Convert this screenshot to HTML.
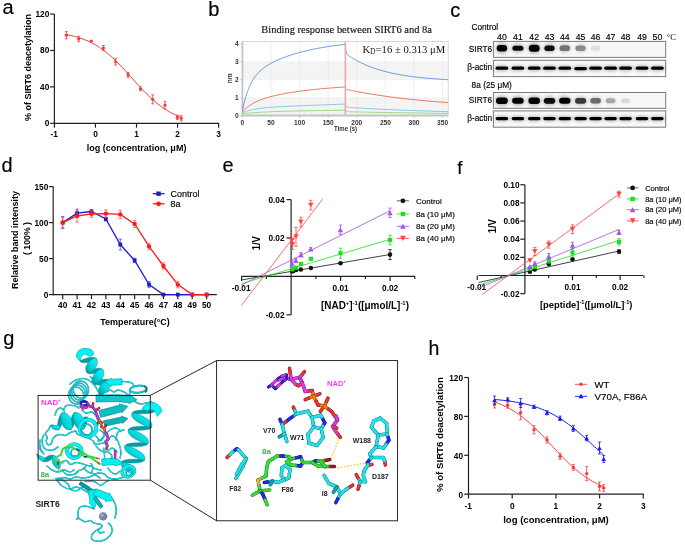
<!DOCTYPE html><html><head><meta charset="utf-8"><style>html,body{margin:0;padding:0;background:#fff;}svg{display:block;will-change:transform;}</style></head><body>
<svg width="685" height="546" viewBox="0 0 685 546">
<rect width="685" height="546" fill="#fff"/>
<text x="2.6" y="13.7" font-size="20" text-anchor="start" fill="#000" stroke="#000" stroke-width="0.15" font-family='"Liberation Sans", sans-serif'>a</text>
<text x="208.3" y="16.4" font-size="20" text-anchor="start" fill="#000" stroke="#000" stroke-width="0.15" font-family='"Liberation Sans", sans-serif'>b</text>
<text x="450.2" y="16.7" font-size="20" text-anchor="start" fill="#000" stroke="#000" stroke-width="0.15" font-family='"Liberation Sans", sans-serif'>c</text>
<text x="1.6" y="171.6" font-size="20" text-anchor="start" fill="#000" stroke="#000" stroke-width="0.15" font-family='"Liberation Sans", sans-serif'>d</text>
<text x="222.6" y="171.7" font-size="20" text-anchor="start" fill="#000" stroke="#000" stroke-width="0.15" font-family='"Liberation Sans", sans-serif'>e</text>
<text x="457.3" y="173.8" font-size="18.5" text-anchor="start" fill="#000" stroke="#000" stroke-width="0.15" font-family='"Liberation Sans", sans-serif'>f</text>
<text x="3.2" y="345.4" font-size="20" text-anchor="start" fill="#000" stroke="#000" stroke-width="0.15" font-family='"Liberation Sans", sans-serif'>g</text>
<text x="428.6" y="354.9" font-size="19.5" text-anchor="start" fill="#000" stroke="#000" stroke-width="0.15" font-family='"Liberation Sans", sans-serif'>h</text>
<line x1="54.4" y1="14.05" x2="54.4" y2="123.9" stroke="#222" stroke-width="1.2"/>
<line x1="53.8" y1="123.3" x2="219.2" y2="123.3" stroke="#222" stroke-width="1.2"/>
<line x1="50.1" y1="123.3" x2="54.4" y2="123.3" stroke="#222" stroke-width="1.2"/>
<text x="49.3" y="126.25" font-size="8.3" font-weight="bold" text-anchor="end" fill="#000" font-family='"Liberation Sans", sans-serif'>0</text>
<line x1="50.1" y1="86.88" x2="54.4" y2="86.88" stroke="#222" stroke-width="1.2"/>
<text x="49.3" y="89.83" font-size="8.3" font-weight="bold" text-anchor="end" fill="#000" font-family='"Liberation Sans", sans-serif'>40</text>
<line x1="50.1" y1="50.47" x2="54.4" y2="50.47" stroke="#222" stroke-width="1.2"/>
<text x="49.3" y="53.42" font-size="8.3" font-weight="bold" text-anchor="end" fill="#000" font-family='"Liberation Sans", sans-serif'>80</text>
<line x1="50.1" y1="14.05" x2="54.4" y2="14.05" stroke="#222" stroke-width="1.2"/>
<text x="49.3" y="17" font-size="8.3" font-weight="bold" text-anchor="end" fill="#000" font-family='"Liberation Sans", sans-serif'>120</text>
<line x1="54.4" y1="123.3" x2="54.4" y2="127.7" stroke="#222" stroke-width="1.2"/>
<text x="54.1" y="137.2" font-size="8.3" font-weight="bold" text-anchor="middle" fill="#000" font-family='"Liberation Sans", sans-serif'>-1</text>
<line x1="95.45" y1="123.3" x2="95.45" y2="127.7" stroke="#222" stroke-width="1.2"/>
<text x="95.45" y="137.2" font-size="8.3" font-weight="bold" text-anchor="middle" fill="#000" font-family='"Liberation Sans", sans-serif'>0</text>
<line x1="136.5" y1="123.3" x2="136.5" y2="127.7" stroke="#222" stroke-width="1.2"/>
<text x="136.5" y="137.2" font-size="8.3" font-weight="bold" text-anchor="middle" fill="#000" font-family='"Liberation Sans", sans-serif'>1</text>
<line x1="177.55" y1="123.3" x2="177.55" y2="127.7" stroke="#222" stroke-width="1.2"/>
<text x="177.55" y="137.2" font-size="8.3" font-weight="bold" text-anchor="middle" fill="#000" font-family='"Liberation Sans", sans-serif'>2</text>
<line x1="218.6" y1="123.3" x2="218.6" y2="127.7" stroke="#222" stroke-width="1.2"/>
<text x="218.6" y="137.2" font-size="8.3" font-weight="bold" text-anchor="middle" fill="#000" font-family='"Liberation Sans", sans-serif'>3</text>
<text x="136.6" y="150.5" font-size="9" font-weight="bold" text-anchor="middle" fill="#000" font-family='"Liberation Sans", sans-serif' textLength="99.6" lengthAdjust="spacingAndGlyphs">log (concentration, μM)</text>
<text x="31.4" y="67.6" font-size="9" font-weight="bold" text-anchor="middle" fill="#000" font-family='"Liberation Sans", sans-serif' transform="rotate(-90 31.4 67.6)" textLength="107" lengthAdjust="spacingAndGlyphs">% of SIRT6 deacetylation</text>
<polyline points="66.4,34.53 68.35,34.92 70.29,35.34 72.24,35.8 74.19,36.29 76.14,36.83 78.08,37.4 80.03,38.03 81.98,38.7 83.93,39.43 85.87,40.21 87.82,41.05 89.77,41.96 91.72,42.92 93.66,43.95 95.61,45.06 97.56,46.23 99.51,47.48 101.45,48.8 103.4,50.2 105.35,51.67 107.3,53.22 109.24,54.85 111.19,56.54 113.14,58.31 115.09,60.15 117.03,62.05 118.98,64.01 120.93,66.02 122.88,68.08 124.82,70.18 126.77,72.31 128.72,74.47 130.67,76.64 132.61,78.82 134.56,80.99 136.51,83.15 138.46,85.29 140.4,87.4 142.35,89.48 144.3,91.51 146.25,93.49 148.19,95.41 150.14,97.28 152.09,99.07 154.04,100.79 155.98,102.45 157.93,104.02 159.88,105.53 161.83,106.95 163.77,108.3 165.72,109.58 167.67,110.78 169.62,111.91 171.56,112.96 173.51,113.95 175.46,114.88 177.41,115.74 179.35,116.55 181.3,117.29" stroke="#f23c3c" stroke-width="1" fill="none"/>
<line x1="66.4" y1="31.6" x2="66.4" y2="38.8" stroke="#f23c3c" stroke-width="0.8"/>
<line x1="65" y1="31.6" x2="67.8" y2="31.6" stroke="#f23c3c" stroke-width="0.8"/>
<line x1="65" y1="38.8" x2="67.8" y2="38.8" stroke="#f23c3c" stroke-width="0.8"/>
<circle cx="66.4" cy="35.2" r="1.6" fill="#f23c3c"/>
<line x1="78.7" y1="36.2" x2="78.7" y2="41.4" stroke="#f23c3c" stroke-width="0.8"/>
<line x1="77.3" y1="36.2" x2="80.1" y2="36.2" stroke="#f23c3c" stroke-width="0.8"/>
<line x1="77.3" y1="41.4" x2="80.1" y2="41.4" stroke="#f23c3c" stroke-width="0.8"/>
<circle cx="78.7" cy="38.8" r="1.6" fill="#f23c3c"/>
<line x1="91.2" y1="40.5" x2="91.2" y2="41.7" stroke="#f23c3c" stroke-width="0.8"/>
<line x1="89.8" y1="40.5" x2="92.6" y2="40.5" stroke="#f23c3c" stroke-width="0.8"/>
<line x1="89.8" y1="41.7" x2="92.6" y2="41.7" stroke="#f23c3c" stroke-width="0.8"/>
<circle cx="91.2" cy="41.1" r="1.6" fill="#f23c3c"/>
<line x1="103.4" y1="45.5" x2="103.4" y2="50.5" stroke="#f23c3c" stroke-width="0.8"/>
<line x1="102" y1="45.5" x2="104.8" y2="45.5" stroke="#f23c3c" stroke-width="0.8"/>
<line x1="102" y1="50.5" x2="104.8" y2="50.5" stroke="#f23c3c" stroke-width="0.8"/>
<circle cx="103.4" cy="48" r="1.6" fill="#f23c3c"/>
<line x1="115.7" y1="58.5" x2="115.7" y2="65.1" stroke="#f23c3c" stroke-width="0.8"/>
<line x1="114.3" y1="58.5" x2="117.1" y2="58.5" stroke="#f23c3c" stroke-width="0.8"/>
<line x1="114.3" y1="65.1" x2="117.1" y2="65.1" stroke="#f23c3c" stroke-width="0.8"/>
<circle cx="115.7" cy="61.8" r="1.6" fill="#f23c3c"/>
<line x1="128.1" y1="72.5" x2="128.1" y2="77.3" stroke="#f23c3c" stroke-width="0.8"/>
<line x1="126.7" y1="72.5" x2="129.5" y2="72.5" stroke="#f23c3c" stroke-width="0.8"/>
<line x1="126.7" y1="77.3" x2="129.5" y2="77.3" stroke="#f23c3c" stroke-width="0.8"/>
<circle cx="128.1" cy="74.9" r="1.6" fill="#f23c3c"/>
<line x1="140.5" y1="86.8" x2="140.5" y2="90.8" stroke="#f23c3c" stroke-width="0.8"/>
<line x1="139.1" y1="86.8" x2="141.9" y2="86.8" stroke="#f23c3c" stroke-width="0.8"/>
<line x1="139.1" y1="90.8" x2="141.9" y2="90.8" stroke="#f23c3c" stroke-width="0.8"/>
<circle cx="140.5" cy="88.8" r="1.6" fill="#f23c3c"/>
<line x1="152.7" y1="94.8" x2="152.7" y2="103.8" stroke="#f23c3c" stroke-width="0.8"/>
<line x1="151.3" y1="94.8" x2="154.1" y2="94.8" stroke="#f23c3c" stroke-width="0.8"/>
<line x1="151.3" y1="103.8" x2="154.1" y2="103.8" stroke="#f23c3c" stroke-width="0.8"/>
<circle cx="152.7" cy="99.3" r="1.6" fill="#f23c3c"/>
<line x1="165" y1="101.4" x2="165" y2="109" stroke="#f23c3c" stroke-width="0.8"/>
<line x1="163.6" y1="101.4" x2="166.4" y2="101.4" stroke="#f23c3c" stroke-width="0.8"/>
<line x1="163.6" y1="109" x2="166.4" y2="109" stroke="#f23c3c" stroke-width="0.8"/>
<circle cx="165" cy="105.2" r="1.6" fill="#f23c3c"/>
<line x1="177.4" y1="115.2" x2="177.4" y2="119.6" stroke="#f23c3c" stroke-width="0.8"/>
<line x1="176" y1="115.2" x2="178.8" y2="115.2" stroke="#f23c3c" stroke-width="0.8"/>
<line x1="176" y1="119.6" x2="178.8" y2="119.6" stroke="#f23c3c" stroke-width="0.8"/>
<circle cx="177.4" cy="117.4" r="1.6" fill="#f23c3c"/>
<line x1="181.3" y1="115.7" x2="181.3" y2="120.9" stroke="#f23c3c" stroke-width="0.8"/>
<line x1="179.9" y1="115.7" x2="182.7" y2="115.7" stroke="#f23c3c" stroke-width="0.8"/>
<line x1="179.9" y1="120.9" x2="182.7" y2="120.9" stroke="#f23c3c" stroke-width="0.8"/>
<circle cx="181.3" cy="118.3" r="1.6" fill="#f23c3c"/>
<rect x="242.4" y="61.9" width="205.8" height="17.9" fill="#f4f4f4"/>
<rect x="242.4" y="97.7" width="205.8" height="17.8" fill="#f4f4f4"/>
<line x1="271" y1="41.4" x2="271" y2="115.5" stroke="#e4e4e4" stroke-width="0.6"/>
<line x1="299.6" y1="41.4" x2="299.6" y2="115.5" stroke="#e4e4e4" stroke-width="0.6"/>
<line x1="328.2" y1="41.4" x2="328.2" y2="115.5" stroke="#e4e4e4" stroke-width="0.6"/>
<line x1="356.8" y1="41.4" x2="356.8" y2="115.5" stroke="#e4e4e4" stroke-width="0.6"/>
<line x1="385.4" y1="41.4" x2="385.4" y2="115.5" stroke="#e4e4e4" stroke-width="0.6"/>
<line x1="414" y1="41.4" x2="414" y2="115.5" stroke="#e4e4e4" stroke-width="0.6"/>
<line x1="442.6" y1="41.4" x2="442.6" y2="115.5" stroke="#e4e4e4" stroke-width="0.6"/>
<line x1="242.4" y1="97.7" x2="448.2" y2="97.7" stroke="#dddddd" stroke-width="0.5" stroke-dasharray="1,1"/>
<line x1="242.4" y1="79.8" x2="448.2" y2="79.8" stroke="#dddddd" stroke-width="0.5" stroke-dasharray="1,1"/>
<line x1="242.4" y1="61.9" x2="448.2" y2="61.9" stroke="#dddddd" stroke-width="0.5" stroke-dasharray="1,1"/>
<line x1="242.4" y1="44" x2="448.2" y2="44" stroke="#dddddd" stroke-width="0.5" stroke-dasharray="1,1"/>
<rect x="242.4" y="41.4" width="205.8" height="74.1" fill="none" stroke="#cfcfcf" stroke-width="0.8"/>
<line x1="242.4" y1="41.4" x2="242.4" y2="116.5" stroke="#c4c4c4" stroke-width="1.8"/>
<line x1="241.4" y1="115.5" x2="448.2" y2="115.5" stroke="#c4c4c4" stroke-width="1.8"/>
<line x1="248.12" y1="114.5" x2="248.12" y2="112.9" stroke="#c8d4ee" stroke-width="0.6"/>
<line x1="253.84" y1="114.5" x2="253.84" y2="112.9" stroke="#c8d4ee" stroke-width="0.6"/>
<line x1="259.56" y1="114.5" x2="259.56" y2="112.9" stroke="#c8d4ee" stroke-width="0.6"/>
<line x1="265.28" y1="114.5" x2="265.28" y2="112.9" stroke="#c8d4ee" stroke-width="0.6"/>
<line x1="276.72" y1="114.5" x2="276.72" y2="112.9" stroke="#c8d4ee" stroke-width="0.6"/>
<line x1="282.44" y1="114.5" x2="282.44" y2="112.9" stroke="#c8d4ee" stroke-width="0.6"/>
<line x1="288.16" y1="114.5" x2="288.16" y2="112.9" stroke="#c8d4ee" stroke-width="0.6"/>
<line x1="293.88" y1="114.5" x2="293.88" y2="112.9" stroke="#c8d4ee" stroke-width="0.6"/>
<line x1="305.32" y1="114.5" x2="305.32" y2="112.9" stroke="#c8d4ee" stroke-width="0.6"/>
<line x1="311.04" y1="114.5" x2="311.04" y2="112.9" stroke="#c8d4ee" stroke-width="0.6"/>
<line x1="316.76" y1="114.5" x2="316.76" y2="112.9" stroke="#c8d4ee" stroke-width="0.6"/>
<line x1="322.48" y1="114.5" x2="322.48" y2="112.9" stroke="#c8d4ee" stroke-width="0.6"/>
<line x1="333.92" y1="114.5" x2="333.92" y2="112.9" stroke="#c8d4ee" stroke-width="0.6"/>
<line x1="339.64" y1="114.5" x2="339.64" y2="112.9" stroke="#c8d4ee" stroke-width="0.6"/>
<line x1="345.36" y1="114.5" x2="345.36" y2="112.9" stroke="#c8d4ee" stroke-width="0.6"/>
<line x1="351.08" y1="114.5" x2="351.08" y2="112.9" stroke="#c8d4ee" stroke-width="0.6"/>
<line x1="362.52" y1="114.5" x2="362.52" y2="112.9" stroke="#c8d4ee" stroke-width="0.6"/>
<line x1="368.24" y1="114.5" x2="368.24" y2="112.9" stroke="#c8d4ee" stroke-width="0.6"/>
<line x1="373.96" y1="114.5" x2="373.96" y2="112.9" stroke="#c8d4ee" stroke-width="0.6"/>
<line x1="379.68" y1="114.5" x2="379.68" y2="112.9" stroke="#c8d4ee" stroke-width="0.6"/>
<line x1="391.12" y1="114.5" x2="391.12" y2="112.9" stroke="#c8d4ee" stroke-width="0.6"/>
<line x1="396.84" y1="114.5" x2="396.84" y2="112.9" stroke="#c8d4ee" stroke-width="0.6"/>
<line x1="402.56" y1="114.5" x2="402.56" y2="112.9" stroke="#c8d4ee" stroke-width="0.6"/>
<line x1="408.28" y1="114.5" x2="408.28" y2="112.9" stroke="#c8d4ee" stroke-width="0.6"/>
<line x1="419.72" y1="114.5" x2="419.72" y2="112.9" stroke="#c8d4ee" stroke-width="0.6"/>
<line x1="425.44" y1="114.5" x2="425.44" y2="112.9" stroke="#c8d4ee" stroke-width="0.6"/>
<line x1="431.16" y1="114.5" x2="431.16" y2="112.9" stroke="#c8d4ee" stroke-width="0.6"/>
<line x1="436.88" y1="114.5" x2="436.88" y2="112.9" stroke="#c8d4ee" stroke-width="0.6"/>
<line x1="243.4" y1="106.65" x2="245" y2="106.65" stroke="#c8d4ee" stroke-width="0.6"/>
<line x1="243.4" y1="88.75" x2="245" y2="88.75" stroke="#c8d4ee" stroke-width="0.6"/>
<line x1="243.4" y1="70.85" x2="245" y2="70.85" stroke="#c8d4ee" stroke-width="0.6"/>
<line x1="243.4" y1="52.95" x2="245" y2="52.95" stroke="#c8d4ee" stroke-width="0.6"/>
<line x1="239.4" y1="115.6" x2="242.4" y2="115.6" stroke="#bbbbbb" stroke-width="0.7"/>
<text x="238.6" y="117.9" font-size="6.6" font-weight="bold" text-anchor="end" fill="#333" font-family='"Liberation Sans", sans-serif'>0</text>
<line x1="239.4" y1="97.7" x2="242.4" y2="97.7" stroke="#bbbbbb" stroke-width="0.7"/>
<text x="238.6" y="100" font-size="6.6" font-weight="bold" text-anchor="end" fill="#333" font-family='"Liberation Sans", sans-serif'>1</text>
<line x1="239.4" y1="79.8" x2="242.4" y2="79.8" stroke="#bbbbbb" stroke-width="0.7"/>
<text x="238.6" y="82.1" font-size="6.6" font-weight="bold" text-anchor="end" fill="#333" font-family='"Liberation Sans", sans-serif'>2</text>
<line x1="239.4" y1="61.9" x2="242.4" y2="61.9" stroke="#bbbbbb" stroke-width="0.7"/>
<text x="238.6" y="64.2" font-size="6.6" font-weight="bold" text-anchor="end" fill="#333" font-family='"Liberation Sans", sans-serif'>3</text>
<line x1="239.4" y1="44" x2="242.4" y2="44" stroke="#bbbbbb" stroke-width="0.7"/>
<text x="238.6" y="46.3" font-size="6.6" font-weight="bold" text-anchor="end" fill="#333" font-family='"Liberation Sans", sans-serif'>4</text>
<line x1="242.4" y1="115.5" x2="242.4" y2="118" stroke="#bbbbbb" stroke-width="0.7"/>
<text x="242.4" y="124.8" font-size="6.6" font-weight="bold" text-anchor="middle" fill="#333" font-family='"Liberation Sans", sans-serif'>0</text>
<line x1="271" y1="115.5" x2="271" y2="118" stroke="#bbbbbb" stroke-width="0.7"/>
<text x="271" y="124.8" font-size="6.6" font-weight="bold" text-anchor="middle" fill="#333" font-family='"Liberation Sans", sans-serif'>50</text>
<line x1="299.6" y1="115.5" x2="299.6" y2="118" stroke="#bbbbbb" stroke-width="0.7"/>
<text x="299.6" y="124.8" font-size="6.6" font-weight="bold" text-anchor="middle" fill="#333" font-family='"Liberation Sans", sans-serif'>100</text>
<line x1="328.2" y1="115.5" x2="328.2" y2="118" stroke="#bbbbbb" stroke-width="0.7"/>
<text x="328.2" y="124.8" font-size="6.6" font-weight="bold" text-anchor="middle" fill="#333" font-family='"Liberation Sans", sans-serif'>150</text>
<line x1="356.8" y1="115.5" x2="356.8" y2="118" stroke="#bbbbbb" stroke-width="0.7"/>
<text x="356.8" y="124.8" font-size="6.6" font-weight="bold" text-anchor="middle" fill="#333" font-family='"Liberation Sans", sans-serif'>200</text>
<line x1="385.4" y1="115.5" x2="385.4" y2="118" stroke="#bbbbbb" stroke-width="0.7"/>
<text x="385.4" y="124.8" font-size="6.6" font-weight="bold" text-anchor="middle" fill="#333" font-family='"Liberation Sans", sans-serif'>250</text>
<line x1="414" y1="115.5" x2="414" y2="118" stroke="#bbbbbb" stroke-width="0.7"/>
<text x="414" y="124.8" font-size="6.6" font-weight="bold" text-anchor="middle" fill="#333" font-family='"Liberation Sans", sans-serif'>300</text>
<line x1="442.6" y1="115.5" x2="442.6" y2="118" stroke="#bbbbbb" stroke-width="0.7"/>
<text x="442.6" y="124.8" font-size="6.6" font-weight="bold" text-anchor="middle" fill="#333" font-family='"Liberation Sans", sans-serif'>350</text>
<text x="345.6" y="130.6" font-size="6.6" font-weight="bold" text-anchor="middle" fill="#333" font-family='"Liberation Sans", sans-serif' textLength="23" lengthAdjust="spacingAndGlyphs">Time (s)</text>
<text x="231.8" y="78.4" font-size="6.6" font-weight="bold" text-anchor="middle" fill="#333" font-family='"Liberation Sans", sans-serif' transform="rotate(-90 231.8 78.4)">nm</text>
<polyline points="242.4,113.64 242.79,113.6 243.19,113.56 243.58,113.53 243.98,113.49 244.37,113.45 244.77,113.41 245.16,113.38 245.56,113.34 245.95,113.31 246.34,113.27 246.74,113.24 247.13,113.2 247.53,113.17 247.92,113.14 248.32,113.11 248.71,113.07 249.11,113.04 249.5,113.01 249.9,112.98 250.29,112.95 250.68,112.92 251.08,112.89 251.47,112.86 251.87,112.83 252.26,112.8 252.66,112.77 253.05,112.74 253.45,112.71 253.84,112.69 255.39,112.58 256.94,112.48 258.49,112.38 260.04,112.29 261.6,112.2 263.15,112.12 264.7,112.04 266.25,111.96 267.8,111.89 269.35,111.82 270.9,111.75 272.45,111.69 274.01,111.63 275.56,111.57 277.11,111.51 278.66,111.46 280.21,111.41 281.76,111.35 283.31,111.31 284.86,111.26 286.41,111.22 287.97,111.17 289.52,111.13 291.07,111.09 292.62,111.05 294.17,111.02 295.72,110.98 297.27,110.94 298.82,110.91 300.38,110.88 301.93,110.85 303.48,110.82 305.03,110.79 306.58,110.76 308.13,110.73 309.68,110.7 311.23,110.68 312.79,110.65 314.34,110.63 315.89,110.6 317.44,110.58 318.99,110.56 320.54,110.53 322.09,110.51 323.64,110.49 325.19,110.47 326.75,110.45 328.3,110.43 329.85,110.41 331.4,110.39 332.95,110.37 334.5,110.35 336.05,110.34 337.6,110.32 339.16,110.3 340.71,110.28 342.26,110.26 343.81,110.25 345.36,110.23 345.36,110.23 345.53,110.42 345.76,110.63 345.93,110.77 346.38,111.06 346.84,111.27 347.29,111.42 347.74,111.53 348.2,111.61 348.65,111.67 349.1,111.72 349.55,111.75 350.01,111.78 350.46,111.8 350.91,111.82 351.37,111.83 351.82,111.85 352.27,111.86 352.72,111.87 353.18,111.88 353.63,111.89 354.08,111.9 354.54,111.91 354.99,111.92 355.44,111.93 355.89,111.94 356.35,111.95 356.8,111.96 358.67,111.99 360.54,112.03 362.4,112.06 364.27,112.1 366.14,112.13 368.01,112.17 369.87,112.2 371.74,112.24 373.61,112.27 375.48,112.3 377.35,112.34 379.21,112.37 381.08,112.4 382.95,112.44 384.82,112.47 386.68,112.5 388.55,112.53 390.42,112.56 392.29,112.6 394.16,112.63 396.02,112.66 397.89,112.69 399.76,112.72 401.63,112.75 403.49,112.78 405.36,112.81 407.23,112.84 409.1,112.87 410.96,112.9 412.83,112.93 414.7,112.96 416.57,112.99 418.44,113.02 420.3,113.05 422.17,113.07 424.04,113.1 425.91,113.13 427.77,113.16 429.64,113.19 431.51,113.21 433.38,113.24 435.25,113.27 437.11,113.29 438.98,113.32 440.85,113.35 442.72,113.37 444.58,113.4 446.45,113.43 448.32,113.45" stroke="#8fd472" stroke-width="0.9" fill="none"/>
<polyline points="242.4,112.92 242.79,112.74 243.19,112.56 243.58,112.4 243.98,112.23 244.37,112.08 244.77,111.92 245.16,111.77 245.56,111.63 245.95,111.49 246.34,111.35 246.74,111.22 247.13,111.09 247.53,110.97 247.92,110.85 248.32,110.73 248.71,110.62 249.11,110.51 249.5,110.4 249.9,110.29 250.29,110.19 250.68,110.09 251.08,110 251.47,109.9 251.87,109.81 252.26,109.72 252.66,109.64 253.05,109.55 253.45,109.47 253.84,109.39 255.39,109.1 256.94,108.84 258.49,108.6 260.04,108.39 261.6,108.19 263.15,108.01 264.7,107.84 266.25,107.69 267.8,107.55 269.35,107.42 270.9,107.3 272.45,107.19 274.01,107.08 275.56,106.98 277.11,106.88 278.66,106.79 280.21,106.71 281.76,106.62 283.31,106.54 284.86,106.46 286.41,106.39 287.97,106.32 289.52,106.24 291.07,106.18 292.62,106.11 294.17,106.04 295.72,105.97 297.27,105.91 298.82,105.85 300.38,105.78 301.93,105.72 303.48,105.66 305.03,105.6 306.58,105.53 308.13,105.47 309.68,105.41 311.23,105.35 312.79,105.29 314.34,105.23 315.89,105.18 317.44,105.12 318.99,105.06 320.54,105 322.09,104.94 323.64,104.88 325.19,104.82 326.75,104.77 328.3,104.71 329.85,104.65 331.4,104.59 332.95,104.53 334.5,104.48 336.05,104.42 337.6,104.36 339.16,104.3 340.71,104.25 342.26,104.19 343.81,104.13 345.36,104.07 345.36,104.05 345.53,104.7 345.76,105.37 345.93,105.75 346.38,106.45 346.84,106.85 347.29,107.09 347.74,107.23 348.2,107.32 348.65,107.39 349.1,107.44 349.55,107.48 350.01,107.51 350.46,107.54 350.91,107.57 351.37,107.6 351.82,107.63 352.27,107.66 352.72,107.69 353.18,107.71 353.63,107.74 354.08,107.77 354.54,107.8 354.99,107.82 355.44,107.85 355.89,107.88 356.35,107.9 356.8,107.93 358.67,108.04 360.54,108.15 362.4,108.25 364.27,108.36 366.14,108.46 368.01,108.56 369.87,108.66 371.74,108.76 373.61,108.85 375.48,108.95 377.35,109.04 379.21,109.13 381.08,109.22 382.95,109.31 384.82,109.4 386.68,109.49 388.55,109.57 390.42,109.65 392.29,109.73 394.16,109.81 396.02,109.89 397.89,109.97 399.76,110.05 401.63,110.12 403.49,110.2 405.36,110.27 407.23,110.34 409.1,110.41 410.96,110.48 412.83,110.55 414.7,110.62 416.57,110.69 418.44,110.75 420.3,110.81 422.17,110.88 424.04,110.94 425.91,111 427.77,111.06 429.64,111.12 431.51,111.18 433.38,111.24 435.25,111.29 437.11,111.35 438.98,111.4 440.85,111.46 442.72,111.51 444.58,111.56 446.45,111.61 448.32,111.66" stroke="#6cc6db" stroke-width="0.9" fill="none"/>
<polyline points="242.4,112.02 242.79,111.57 243.19,111.14 243.58,110.72 243.98,110.31 244.37,109.91 244.77,109.53 245.16,109.15 245.56,108.79 245.95,108.43 246.34,108.09 246.74,107.75 247.13,107.43 247.53,107.11 247.92,106.8 248.32,106.5 248.71,106.2 249.11,105.92 249.5,105.64 249.9,105.37 250.29,105.1 250.68,104.84 251.08,104.59 251.47,104.34 251.87,104.1 252.26,103.86 252.66,103.63 253.05,103.41 253.45,103.19 253.84,102.97 255.39,102.17 256.94,101.43 258.49,100.75 260.04,100.11 261.6,99.52 263.15,98.96 264.7,98.44 266.25,97.95 267.8,97.48 269.35,97.04 270.9,96.62 272.45,96.22 274.01,95.84 275.56,95.47 277.11,95.12 278.66,94.78 280.21,94.46 281.76,94.15 283.31,93.85 284.86,93.56 286.41,93.28 287.97,93.01 289.52,92.74 291.07,92.49 292.62,92.24 294.17,92 295.72,91.77 297.27,91.55 298.82,91.33 300.38,91.12 301.93,90.91 303.48,90.71 305.03,90.52 306.58,90.33 308.13,90.15 309.68,89.97 311.23,89.8 312.79,89.63 314.34,89.47 315.89,89.31 317.44,89.15 318.99,89 320.54,88.86 322.09,88.72 323.64,88.58 325.19,88.44 326.75,88.31 328.3,88.19 329.85,88.06 331.4,87.94 332.95,87.83 334.5,87.71 336.05,87.6 337.6,87.49 339.16,87.39 340.71,87.29 342.26,87.19 343.81,87.09 345.36,87 345.36,86.96 345.53,89.1 345.76,89.26 345.93,89.3 346.38,89.4 346.84,89.49 347.29,89.59 347.74,89.69 348.2,89.79 348.65,89.88 349.1,89.98 349.55,90.07 350.01,90.17 350.46,90.26 350.91,90.35 351.37,90.45 351.82,90.54 352.27,90.63 352.72,90.72 353.18,90.81 353.63,90.9 354.08,91 354.54,91.09 354.99,91.17 355.44,91.26 355.89,91.35 356.35,91.44 356.8,91.53 358.67,91.88 360.54,92.23 362.4,92.58 364.27,92.91 366.14,93.24 368.01,93.56 369.87,93.88 371.74,94.19 373.61,94.49 375.48,94.78 377.35,95.07 379.21,95.36 381.08,95.64 382.95,95.91 384.82,96.18 386.68,96.44 388.55,96.69 390.42,96.95 392.29,97.19 394.16,97.43 396.02,97.67 397.89,97.9 399.76,98.13 401.63,98.35 403.49,98.56 405.36,98.78 407.23,98.99 409.1,99.19 410.96,99.39 412.83,99.59 414.7,99.78 416.57,99.97 418.44,100.15 420.3,100.33 422.17,100.51 424.04,100.68 425.91,100.85 427.77,101.01 429.64,101.18 431.51,101.34 433.38,101.49 435.25,101.65 437.11,101.8 438.98,101.94 440.85,102.09 442.72,102.23 444.58,102.36 446.45,102.5 448.32,102.63" stroke="#e0674a" stroke-width="0.9" fill="none"/>
<polyline points="242.4,110.73 242.79,108.8 243.19,106.97 243.58,105.22 243.98,103.54 244.37,101.95 244.77,100.42 245.16,98.96 245.56,97.57 245.95,96.23 246.34,94.96 246.74,93.73 247.13,92.56 247.53,91.44 247.92,90.37 248.32,89.34 248.71,88.35 249.11,87.4 249.5,86.49 249.9,85.61 250.29,84.77 250.68,83.96 251.08,83.18 251.47,82.43 251.87,81.71 252.26,81.01 252.66,80.34 253.05,79.7 253.45,79.07 253.84,78.47 255.39,76.28 256.94,74.35 258.49,72.64 260.04,71.1 261.6,69.71 263.15,68.44 264.7,67.28 266.25,66.2 267.8,65.2 269.35,64.26 270.9,63.38 272.45,62.55 274.01,61.76 275.56,61.01 277.11,60.29 278.66,59.6 280.21,58.95 281.76,58.31 283.31,57.7 284.86,57.12 286.41,56.55 287.97,56.01 289.52,55.48 291.07,54.97 292.62,54.48 294.17,54 295.72,53.54 297.27,53.09 298.82,52.66 300.38,52.24 301.93,51.84 303.48,51.44 305.03,51.06 306.58,50.69 308.13,50.33 309.68,49.99 311.23,49.65 312.79,49.32 314.34,49.01 315.89,48.7 317.44,48.41 318.99,48.12 320.54,47.84 322.09,47.57 323.64,47.3 325.19,47.05 326.75,46.8 328.3,46.56 329.85,46.33 331.4,46.11 332.95,45.89 334.5,45.68 336.05,45.47 337.6,45.27 339.16,45.08 340.71,44.89 342.26,44.71 343.81,44.54 345.36,44.37 345.36,44.38 345.53,46.98 345.76,49.43 345.93,50.73 346.38,52.84 346.84,53.94 347.29,54.58 347.74,55.04 348.2,55.4 348.65,55.73 349.1,56.04 349.55,56.34 350.01,56.63 350.46,56.92 350.91,57.21 351.37,57.49 351.82,57.77 352.27,58.04 352.72,58.31 353.18,58.58 353.63,58.85 354.08,59.11 354.54,59.37 354.99,59.62 355.44,59.88 355.89,60.13 356.35,60.38 356.8,60.62 358.67,61.6 360.54,62.53 362.4,63.43 364.27,64.28 366.14,65.09 368.01,65.86 369.87,66.6 371.74,67.3 373.61,67.97 375.48,68.61 377.35,69.22 379.21,69.8 381.08,70.36 382.95,70.89 384.82,71.39 386.68,71.87 388.55,72.33 390.42,72.77 392.29,73.19 394.16,73.59 396.02,73.97 397.89,74.33 399.76,74.68 401.63,75 403.49,75.32 405.36,75.62 407.23,75.9 409.1,76.18 410.96,76.44 412.83,76.68 414.7,76.92 416.57,77.15 418.44,77.36 420.3,77.57 422.17,77.76 424.04,77.95 425.91,78.13 427.77,78.3 429.64,78.46 431.51,78.61 433.38,78.76 435.25,78.9 437.11,79.03 438.98,79.16 440.85,79.28 442.72,79.4 444.58,79.51 446.45,79.62 448.32,79.72" stroke="#5b8fdc" stroke-width="0.9" fill="none"/>
<line x1="345.36" y1="41.9" x2="345.36" y2="115" stroke="#f5a3a3" stroke-width="1.6"/>
<text x="346.6" y="32.8" font-size="10.5" text-anchor="middle" fill="#111" stroke="#111" stroke-width="0.15" font-family='"Liberation Serif", serif' textLength="170.7" lengthAdjust="spacingAndGlyphs">Binding response between SIRT6 and 8a</text>
<text x="362.4" y="53" font-size="11.2" fill="#111" font-family='"Liberation Serif", serif' textLength="82.8" lengthAdjust="spacingAndGlyphs">K<tspan font-size="8" dy="1">D</tspan><tspan dy="-1">=16 ± 0.313 μM</tspan></text>
<defs><filter id="bl" x="-50%" y="-80%" width="200%" height="260%"><feGaussianBlur stdDeviation="0.7"/></filter><filter id="bl2" x="-50%" y="-80%" width="200%" height="260%"><feGaussianBlur stdDeviation="1.6"/></filter></defs>
<text x="471.4" y="30" font-size="8.3" text-anchor="start" fill="#000" stroke="#000" stroke-width="0.15" font-family='"Liberation Sans", sans-serif'>Control</text>
<text x="501.9" y="39.6" font-size="8.7" text-anchor="middle" fill="#000" stroke="#000" stroke-width="0.15" font-family='"Liberation Sans", sans-serif'>40</text>
<text x="517.9" y="39.6" font-size="8.7" text-anchor="middle" fill="#000" stroke="#000" stroke-width="0.15" font-family='"Liberation Sans", sans-serif'>41</text>
<text x="534.2" y="39.6" font-size="8.7" text-anchor="middle" fill="#000" stroke="#000" stroke-width="0.15" font-family='"Liberation Sans", sans-serif'>42</text>
<text x="549.5" y="39.6" font-size="8.7" text-anchor="middle" fill="#000" stroke="#000" stroke-width="0.15" font-family='"Liberation Sans", sans-serif'>43</text>
<text x="564.8" y="39.6" font-size="8.7" text-anchor="middle" fill="#000" stroke="#000" stroke-width="0.15" font-family='"Liberation Sans", sans-serif'>44</text>
<text x="580.6" y="39.6" font-size="8.7" text-anchor="middle" fill="#000" stroke="#000" stroke-width="0.15" font-family='"Liberation Sans", sans-serif'>45</text>
<text x="595.6" y="39.6" font-size="8.7" text-anchor="middle" fill="#000" stroke="#000" stroke-width="0.15" font-family='"Liberation Sans", sans-serif'>46</text>
<text x="610.6" y="39.6" font-size="8.7" text-anchor="middle" fill="#000" stroke="#000" stroke-width="0.15" font-family='"Liberation Sans", sans-serif'>47</text>
<text x="625.6" y="39.6" font-size="8.7" text-anchor="middle" fill="#000" stroke="#000" stroke-width="0.15" font-family='"Liberation Sans", sans-serif'>48</text>
<text x="642" y="39.6" font-size="8.7" text-anchor="middle" fill="#000" stroke="#000" stroke-width="0.15" font-family='"Liberation Sans", sans-serif'>49</text>
<text x="657.4" y="39.6" font-size="8.7" text-anchor="middle" fill="#000" stroke="#000" stroke-width="0.15" font-family='"Liberation Sans", sans-serif'>50</text>
<text x="666.8" y="39.6" font-size="8.6" fill="#000" font-family='"Liberation Serif", serif'>°C</text>
<text x="492.2" y="51.9" font-size="8.3" text-anchor="end" fill="#000" stroke="#000" stroke-width="0.15" font-family='"Liberation Sans", sans-serif'>SIRT6</text>
<text x="492.2" y="70.4" font-size="8.3" text-anchor="end" fill="#000" stroke="#000" stroke-width="0.15" font-family='"Liberation Sans", sans-serif'>β-actin</text>
<text x="471.6" y="88" font-size="8.3" text-anchor="start" fill="#000" stroke="#000" stroke-width="0.15" font-family='"Liberation Sans", sans-serif'>8a (25 μM)</text>
<text x="492.2" y="102.8" font-size="8.3" text-anchor="end" fill="#000" stroke="#000" stroke-width="0.15" font-family='"Liberation Sans", sans-serif'>SIRT6</text>
<text x="492.2" y="121.1" font-size="8.3" text-anchor="end" fill="#000" stroke="#000" stroke-width="0.15" font-family='"Liberation Sans", sans-serif'>β-actin</text>
<rect x="493.4" y="41.4" width="172.3" height="16" fill="#f8f8f8" stroke="#7a7a7a" stroke-width="1"/>
<rect x="493.4" y="60.3" width="172.3" height="16.3" fill="#f8f8f8" stroke="#7a7a7a" stroke-width="1"/>
<rect x="493.4" y="92.5" width="172.3" height="15.8" fill="#f8f8f8" stroke="#7a7a7a" stroke-width="1"/>
<rect x="493.4" y="110.9" width="172.3" height="16.3" fill="#f8f8f8" stroke="#7a7a7a" stroke-width="1"/>
<ellipse cx="501.9" cy="48.2" rx="6.45" ry="5.6" fill="#000" opacity="0.22" filter="url(#bl2)"/>
<rect x="496.7" y="45" width="10.4" height="6.4" rx="3.2" ry="3.2" fill="#000000" filter="url(#bl)"/>
<ellipse cx="517.9" cy="48.2" rx="6.82" ry="4.55" fill="#000" opacity="0.21" filter="url(#bl2)"/>
<rect x="512.4" y="45.7" width="11" height="5" rx="2.5" ry="2.5" fill="#0d0d0d" filter="url(#bl)"/>
<ellipse cx="534.2" cy="48.2" rx="6.7" ry="6.05" fill="#000" opacity="0.22" filter="url(#bl2)"/>
<rect x="528.8" y="44.7" width="10.8" height="7" rx="3.5" ry="3.5" fill="#000000" filter="url(#bl)"/>
<ellipse cx="549.5" cy="48.2" rx="6.32" ry="4.85" fill="#000" opacity="0.21" filter="url(#bl2)"/>
<rect x="544.4" y="45.5" width="10.2" height="5.4" rx="2.7" ry="2.7" fill="#080808" filter="url(#bl)"/>
<ellipse cx="564.8" cy="48.2" rx="6.45" ry="5.15" fill="#000" opacity="0.12" filter="url(#bl2)"/>
<rect x="559.6" y="45.3" width="10.4" height="5.8" rx="2.9" ry="2.9" fill="#737373" filter="url(#bl)"/>
<ellipse cx="580.6" cy="48.2" rx="6.32" ry="5" fill="#000" opacity="0.1" filter="url(#bl2)"/>
<rect x="575.5" y="45.4" width="10.2" height="5.6" rx="2.8" ry="2.8" fill="#8a8a8a" filter="url(#bl)"/>
<ellipse cx="595.6" cy="48.2" rx="5.58" ry="4.25" fill="#000" opacity="0.03" filter="url(#bl2)"/>
<rect x="591.1" y="45.9" width="9" height="4.6" rx="2.3" ry="2.3" fill="#dedede" filter="url(#bl)"/>
<ellipse cx="501.9" cy="68.2" rx="7.81" ry="3.27" fill="#000" opacity="0.22" filter="url(#bl2)"/>
<rect x="495.6" y="66.55" width="12.6" height="3.3" rx="1.65" ry="1.65" fill="#000000" filter="url(#bl)"/>
<ellipse cx="517.9" cy="68.2" rx="7.81" ry="3.27" fill="#000" opacity="0.22" filter="url(#bl2)"/>
<rect x="511.6" y="66.55" width="12.6" height="3.3" rx="1.65" ry="1.65" fill="#000000" filter="url(#bl)"/>
<ellipse cx="534.2" cy="68.2" rx="7.81" ry="3.27" fill="#000" opacity="0.22" filter="url(#bl2)"/>
<rect x="527.9" y="66.55" width="12.6" height="3.3" rx="1.65" ry="1.65" fill="#000000" filter="url(#bl)"/>
<ellipse cx="549.5" cy="68.2" rx="7.81" ry="3.27" fill="#000" opacity="0.22" filter="url(#bl2)"/>
<rect x="543.2" y="66.55" width="12.6" height="3.3" rx="1.65" ry="1.65" fill="#000000" filter="url(#bl)"/>
<ellipse cx="564.8" cy="68.2" rx="7.81" ry="3.27" fill="#000" opacity="0.22" filter="url(#bl2)"/>
<rect x="558.5" y="66.55" width="12.6" height="3.3" rx="1.65" ry="1.65" fill="#000000" filter="url(#bl)"/>
<ellipse cx="580.6" cy="68.6" rx="7.81" ry="3.27" fill="#000" opacity="0.22" filter="url(#bl2)"/>
<rect x="574.3" y="66.95" width="12.6" height="3.3" rx="1.65" ry="1.65" fill="#000000" filter="url(#bl)"/>
<ellipse cx="595.6" cy="68.2" rx="7.81" ry="3.27" fill="#000" opacity="0.22" filter="url(#bl2)"/>
<rect x="589.3" y="66.55" width="12.6" height="3.3" rx="1.65" ry="1.65" fill="#000000" filter="url(#bl)"/>
<ellipse cx="610.6" cy="68.2" rx="7.81" ry="3.27" fill="#000" opacity="0.22" filter="url(#bl2)"/>
<rect x="604.3" y="66.55" width="12.6" height="3.3" rx="1.65" ry="1.65" fill="#000000" filter="url(#bl)"/>
<ellipse cx="625.6" cy="68.2" rx="7.81" ry="3.27" fill="#000" opacity="0.22" filter="url(#bl2)"/>
<rect x="619.3" y="66.55" width="12.6" height="3.3" rx="1.65" ry="1.65" fill="#000000" filter="url(#bl)"/>
<ellipse cx="642" cy="68.2" rx="7.81" ry="3.27" fill="#000" opacity="0.22" filter="url(#bl2)"/>
<rect x="635.7" y="66.55" width="12.6" height="3.3" rx="1.65" ry="1.65" fill="#000000" filter="url(#bl)"/>
<ellipse cx="657.4" cy="68.2" rx="7.81" ry="3.27" fill="#000" opacity="0.22" filter="url(#bl2)"/>
<rect x="651.1" y="66.55" width="12.6" height="3.3" rx="1.65" ry="1.65" fill="#000000" filter="url(#bl)"/>
<ellipse cx="501.9" cy="100.8" rx="7.32" ry="5.6" fill="#000" opacity="0.22" filter="url(#bl2)"/>
<rect x="496" y="97.6" width="11.8" height="6.4" rx="3.2" ry="3.2" fill="#000000" filter="url(#bl)"/>
<ellipse cx="517.9" cy="100.8" rx="7.19" ry="5.3" fill="#000" opacity="0.22" filter="url(#bl2)"/>
<rect x="512.1" y="97.8" width="11.6" height="6" rx="3" ry="3" fill="#000000" filter="url(#bl)"/>
<ellipse cx="534.2" cy="100.8" rx="7.19" ry="5.6" fill="#000" opacity="0.22" filter="url(#bl2)"/>
<rect x="528.4" y="97.6" width="11.6" height="6.4" rx="3.2" ry="3.2" fill="#000000" filter="url(#bl)"/>
<ellipse cx="549.5" cy="100.8" rx="7.07" ry="5.15" fill="#000" opacity="0.21" filter="url(#bl2)"/>
<rect x="543.8" y="97.9" width="11.4" height="5.8" rx="2.9" ry="2.9" fill="#080808" filter="url(#bl)"/>
<ellipse cx="564.8" cy="100.8" rx="7.07" ry="5.3" fill="#000" opacity="0.22" filter="url(#bl2)"/>
<rect x="559.1" y="97.8" width="11.4" height="6" rx="3" ry="3" fill="#000000" filter="url(#bl)"/>
<ellipse cx="580.6" cy="100.8" rx="6.94" ry="5.15" fill="#000" opacity="0.17" filter="url(#bl2)"/>
<rect x="575" y="97.9" width="11.2" height="5.8" rx="2.9" ry="2.9" fill="#383838" filter="url(#bl)"/>
<ellipse cx="595.6" cy="100.8" rx="6.57" ry="4.85" fill="#000" opacity="0.13" filter="url(#bl2)"/>
<rect x="590.3" y="98.1" width="10.6" height="5.4" rx="2.7" ry="2.7" fill="#6b6b6b" filter="url(#bl)"/>
<ellipse cx="610.6" cy="100.8" rx="5.95" ry="4.55" fill="#000" opacity="0.07" filter="url(#bl2)"/>
<rect x="605.8" y="98.3" width="9.6" height="5" rx="2.5" ry="2.5" fill="#a8a8a8" filter="url(#bl)"/>
<ellipse cx="625.6" cy="100.8" rx="5.46" ry="4.1" fill="#000" opacity="0.03" filter="url(#bl2)"/>
<rect x="621.2" y="98.6" width="8.8" height="4.4" rx="2.2" ry="2.2" fill="#d9d9d9" filter="url(#bl)"/>
<ellipse cx="501.9" cy="118.6" rx="7.69" ry="3.2" fill="#000" opacity="0.22" filter="url(#bl2)"/>
<rect x="495.7" y="117" width="12.4" height="3.2" rx="1.6" ry="1.6" fill="#000000" filter="url(#bl)"/>
<ellipse cx="517.9" cy="118.6" rx="7.69" ry="3.2" fill="#000" opacity="0.22" filter="url(#bl2)"/>
<rect x="511.7" y="117" width="12.4" height="3.2" rx="1.6" ry="1.6" fill="#000000" filter="url(#bl)"/>
<ellipse cx="534.2" cy="118.6" rx="7.69" ry="3.2" fill="#000" opacity="0.22" filter="url(#bl2)"/>
<rect x="528" y="117" width="12.4" height="3.2" rx="1.6" ry="1.6" fill="#000000" filter="url(#bl)"/>
<ellipse cx="549.5" cy="118.6" rx="7.69" ry="3.2" fill="#000" opacity="0.22" filter="url(#bl2)"/>
<rect x="543.3" y="117" width="12.4" height="3.2" rx="1.6" ry="1.6" fill="#000000" filter="url(#bl)"/>
<ellipse cx="564.8" cy="118.6" rx="7.69" ry="3.2" fill="#000" opacity="0.22" filter="url(#bl2)"/>
<rect x="558.6" y="117" width="12.4" height="3.2" rx="1.6" ry="1.6" fill="#000000" filter="url(#bl)"/>
<ellipse cx="580.6" cy="118.6" rx="7.69" ry="3.2" fill="#000" opacity="0.22" filter="url(#bl2)"/>
<rect x="574.4" y="117" width="12.4" height="3.2" rx="1.6" ry="1.6" fill="#000000" filter="url(#bl)"/>
<ellipse cx="595.6" cy="118.6" rx="7.69" ry="3.2" fill="#000" opacity="0.22" filter="url(#bl2)"/>
<rect x="589.4" y="117" width="12.4" height="3.2" rx="1.6" ry="1.6" fill="#000000" filter="url(#bl)"/>
<ellipse cx="610.6" cy="118.6" rx="7.69" ry="3.2" fill="#000" opacity="0.22" filter="url(#bl2)"/>
<rect x="604.4" y="117" width="12.4" height="3.2" rx="1.6" ry="1.6" fill="#000000" filter="url(#bl)"/>
<ellipse cx="625.6" cy="118.6" rx="7.69" ry="3.2" fill="#000" opacity="0.22" filter="url(#bl2)"/>
<rect x="619.4" y="117" width="12.4" height="3.2" rx="1.6" ry="1.6" fill="#000000" filter="url(#bl)"/>
<ellipse cx="642" cy="118.6" rx="7.69" ry="3.2" fill="#000" opacity="0.22" filter="url(#bl2)"/>
<rect x="635.8" y="117" width="12.4" height="3.2" rx="1.6" ry="1.6" fill="#000000" filter="url(#bl)"/>
<ellipse cx="657.4" cy="118.6" rx="7.69" ry="3.2" fill="#000" opacity="0.22" filter="url(#bl2)"/>
<rect x="651.2" y="117" width="12.4" height="3.2" rx="1.6" ry="1.6" fill="#000000" filter="url(#bl)"/>
<line x1="53.2" y1="186.6" x2="53.2" y2="295.2" stroke="#222" stroke-width="1.2"/>
<line x1="52.6" y1="294.6" x2="216.8" y2="294.6" stroke="#222" stroke-width="1.2"/>
<line x1="48.9" y1="294.6" x2="53.2" y2="294.6" stroke="#222" stroke-width="1.2"/>
<text x="48.3" y="297.55" font-size="8.3" font-weight="bold" text-anchor="end" fill="#000" font-family='"Liberation Sans", sans-serif'>0</text>
<line x1="48.9" y1="258.6" x2="53.2" y2="258.6" stroke="#222" stroke-width="1.2"/>
<text x="48.3" y="261.55" font-size="8.3" font-weight="bold" text-anchor="end" fill="#000" font-family='"Liberation Sans", sans-serif'>50</text>
<line x1="48.9" y1="222.6" x2="53.2" y2="222.6" stroke="#222" stroke-width="1.2"/>
<text x="48.3" y="225.55" font-size="8.3" font-weight="bold" text-anchor="end" fill="#000" font-family='"Liberation Sans", sans-serif'>100</text>
<line x1="48.9" y1="186.6" x2="53.2" y2="186.6" stroke="#222" stroke-width="1.2"/>
<text x="48.3" y="189.55" font-size="8.3" font-weight="bold" text-anchor="end" fill="#000" font-family='"Liberation Sans", sans-serif'>150</text>
<line x1="62.7" y1="294.6" x2="62.7" y2="299.2" stroke="#222" stroke-width="1.2"/>
<text x="62.7" y="308.1" font-size="8.3" font-weight="bold" text-anchor="middle" fill="#000" font-family='"Liberation Sans", sans-serif'>40</text>
<line x1="77.09" y1="294.6" x2="77.09" y2="299.2" stroke="#222" stroke-width="1.2"/>
<text x="77.09" y="308.1" font-size="8.3" font-weight="bold" text-anchor="middle" fill="#000" font-family='"Liberation Sans", sans-serif'>41</text>
<line x1="91.48" y1="294.6" x2="91.48" y2="299.2" stroke="#222" stroke-width="1.2"/>
<text x="91.48" y="308.1" font-size="8.3" font-weight="bold" text-anchor="middle" fill="#000" font-family='"Liberation Sans", sans-serif'>42</text>
<line x1="105.87" y1="294.6" x2="105.87" y2="299.2" stroke="#222" stroke-width="1.2"/>
<text x="105.87" y="308.1" font-size="8.3" font-weight="bold" text-anchor="middle" fill="#000" font-family='"Liberation Sans", sans-serif'>43</text>
<line x1="120.26" y1="294.6" x2="120.26" y2="299.2" stroke="#222" stroke-width="1.2"/>
<text x="120.26" y="308.1" font-size="8.3" font-weight="bold" text-anchor="middle" fill="#000" font-family='"Liberation Sans", sans-serif'>44</text>
<line x1="134.65" y1="294.6" x2="134.65" y2="299.2" stroke="#222" stroke-width="1.2"/>
<text x="134.65" y="308.1" font-size="8.3" font-weight="bold" text-anchor="middle" fill="#000" font-family='"Liberation Sans", sans-serif'>45</text>
<line x1="149.04" y1="294.6" x2="149.04" y2="299.2" stroke="#222" stroke-width="1.2"/>
<text x="149.04" y="308.1" font-size="8.3" font-weight="bold" text-anchor="middle" fill="#000" font-family='"Liberation Sans", sans-serif'>46</text>
<line x1="163.43" y1="294.6" x2="163.43" y2="299.2" stroke="#222" stroke-width="1.2"/>
<text x="163.43" y="308.1" font-size="8.3" font-weight="bold" text-anchor="middle" fill="#000" font-family='"Liberation Sans", sans-serif'>47</text>
<line x1="177.82" y1="294.6" x2="177.82" y2="299.2" stroke="#222" stroke-width="1.2"/>
<text x="177.82" y="308.1" font-size="8.3" font-weight="bold" text-anchor="middle" fill="#000" font-family='"Liberation Sans", sans-serif'>48</text>
<line x1="192.21" y1="294.6" x2="192.21" y2="299.2" stroke="#222" stroke-width="1.2"/>
<text x="192.21" y="308.1" font-size="8.3" font-weight="bold" text-anchor="middle" fill="#000" font-family='"Liberation Sans", sans-serif'>49</text>
<line x1="206.6" y1="294.6" x2="206.6" y2="299.2" stroke="#222" stroke-width="1.2"/>
<text x="206.6" y="308.1" font-size="8.3" font-weight="bold" text-anchor="middle" fill="#000" font-family='"Liberation Sans", sans-serif'>50</text>
<text x="135" y="324.7" font-size="9" font-weight="bold" text-anchor="middle" fill="#000" font-family='"Liberation Sans", sans-serif' textLength="69.4" lengthAdjust="spacingAndGlyphs">Temperature(°C)</text>
<text x="17.6" y="240" font-size="9" font-weight="bold" text-anchor="middle" fill="#000" font-family='"Liberation Sans", sans-serif' transform="rotate(-90 17.6 240)" textLength="98" lengthAdjust="spacingAndGlyphs">Relative band intensity</text>
<text x="30" y="238.5" font-size="8.6" font-weight="bold" text-anchor="middle" fill="#000" font-family='"Liberation Sans", sans-serif' transform="rotate(-90 30 238.5)" textLength="33" lengthAdjust="spacingAndGlyphs">( 100% )</text>
<polyline points="62.7,222.6 77.09,213.1 91.48,211.5 105.87,219 120.26,244.5 134.65,260.5 149.04,284.6 163.43,294.6 177.82,294.6 192.21,294.6 206.6,294.6" stroke="#1c1cc8" stroke-width="1.3" fill="none"/>
<line x1="62.7" y1="216.6" x2="62.7" y2="228.6" stroke="#4a4ae0" stroke-width="0.8"/>
<line x1="61.1" y1="216.6" x2="64.3" y2="216.6" stroke="#4a4ae0" stroke-width="0.8"/>
<line x1="61.1" y1="228.6" x2="64.3" y2="228.6" stroke="#4a4ae0" stroke-width="0.8"/>
<rect x="60.8" y="220.7" width="3.8" height="3.8" fill="#1c1cc8"/>
<line x1="77.09" y1="209.1" x2="77.09" y2="217.1" stroke="#4a4ae0" stroke-width="0.8"/>
<line x1="75.49" y1="209.1" x2="78.69" y2="209.1" stroke="#4a4ae0" stroke-width="0.8"/>
<line x1="75.49" y1="217.1" x2="78.69" y2="217.1" stroke="#4a4ae0" stroke-width="0.8"/>
<rect x="75.19" y="211.2" width="3.8" height="3.8" fill="#1c1cc8"/>
<line x1="91.48" y1="209.5" x2="91.48" y2="213.5" stroke="#4a4ae0" stroke-width="0.8"/>
<line x1="89.88" y1="209.5" x2="93.08" y2="209.5" stroke="#4a4ae0" stroke-width="0.8"/>
<line x1="89.88" y1="213.5" x2="93.08" y2="213.5" stroke="#4a4ae0" stroke-width="0.8"/>
<rect x="89.58" y="209.6" width="3.8" height="3.8" fill="#1c1cc8"/>
<line x1="105.87" y1="217" x2="105.87" y2="221" stroke="#4a4ae0" stroke-width="0.8"/>
<line x1="104.27" y1="217" x2="107.47" y2="217" stroke="#4a4ae0" stroke-width="0.8"/>
<line x1="104.27" y1="221" x2="107.47" y2="221" stroke="#4a4ae0" stroke-width="0.8"/>
<rect x="103.97" y="217.1" width="3.8" height="3.8" fill="#1c1cc8"/>
<line x1="120.26" y1="239" x2="120.26" y2="250" stroke="#4a4ae0" stroke-width="0.8"/>
<line x1="118.66" y1="239" x2="121.86" y2="239" stroke="#4a4ae0" stroke-width="0.8"/>
<line x1="118.66" y1="250" x2="121.86" y2="250" stroke="#4a4ae0" stroke-width="0.8"/>
<rect x="118.36" y="242.6" width="3.8" height="3.8" fill="#1c1cc8"/>
<line x1="134.65" y1="258.3" x2="134.65" y2="262.7" stroke="#4a4ae0" stroke-width="0.8"/>
<line x1="133.05" y1="258.3" x2="136.25" y2="258.3" stroke="#4a4ae0" stroke-width="0.8"/>
<line x1="133.05" y1="262.7" x2="136.25" y2="262.7" stroke="#4a4ae0" stroke-width="0.8"/>
<rect x="132.75" y="258.6" width="3.8" height="3.8" fill="#1c1cc8"/>
<line x1="149.04" y1="281.6" x2="149.04" y2="287.6" stroke="#4a4ae0" stroke-width="0.8"/>
<line x1="147.44" y1="281.6" x2="150.64" y2="281.6" stroke="#4a4ae0" stroke-width="0.8"/>
<line x1="147.44" y1="287.6" x2="150.64" y2="287.6" stroke="#4a4ae0" stroke-width="0.8"/>
<rect x="147.14" y="282.7" width="3.8" height="3.8" fill="#1c1cc8"/>
<rect x="161.53" y="292.7" width="3.8" height="3.8" fill="#1c1cc8"/>
<rect x="175.92" y="292.7" width="3.8" height="3.8" fill="#1c1cc8"/>
<rect x="190.31" y="292.7" width="3.8" height="3.8" fill="#1c1cc8"/>
<rect x="204.7" y="292.7" width="3.8" height="3.8" fill="#1c1cc8"/>
<polyline points="62.7,222.6 77.09,216 91.48,213.8 105.87,213.6 120.26,214.4 134.65,223.9 149.04,246.4 163.43,266 177.82,284.6 192.21,294.6 206.6,294.6" stroke="#ff1a1a" stroke-width="1.3" fill="none"/>
<line x1="62.7" y1="217.6" x2="62.7" y2="227.6" stroke="#ff5050" stroke-width="0.8"/>
<line x1="61.1" y1="217.6" x2="64.3" y2="217.6" stroke="#ff5050" stroke-width="0.8"/>
<line x1="61.1" y1="227.6" x2="64.3" y2="227.6" stroke="#ff5050" stroke-width="0.8"/>
<circle cx="62.7" cy="222.6" r="2.2" fill="#ff1a1a"/>
<line x1="77.09" y1="210" x2="77.09" y2="222" stroke="#ff5050" stroke-width="0.8"/>
<line x1="75.49" y1="210" x2="78.69" y2="210" stroke="#ff5050" stroke-width="0.8"/>
<line x1="75.49" y1="222" x2="78.69" y2="222" stroke="#ff5050" stroke-width="0.8"/>
<circle cx="77.09" cy="216" r="2.2" fill="#ff1a1a"/>
<line x1="91.48" y1="210.3" x2="91.48" y2="217.3" stroke="#ff5050" stroke-width="0.8"/>
<line x1="89.88" y1="210.3" x2="93.08" y2="210.3" stroke="#ff5050" stroke-width="0.8"/>
<line x1="89.88" y1="217.3" x2="93.08" y2="217.3" stroke="#ff5050" stroke-width="0.8"/>
<circle cx="91.48" cy="213.8" r="2.2" fill="#ff1a1a"/>
<line x1="105.87" y1="209.8" x2="105.87" y2="217.4" stroke="#ff5050" stroke-width="0.8"/>
<line x1="104.27" y1="209.8" x2="107.47" y2="209.8" stroke="#ff5050" stroke-width="0.8"/>
<line x1="104.27" y1="217.4" x2="107.47" y2="217.4" stroke="#ff5050" stroke-width="0.8"/>
<circle cx="105.87" cy="213.6" r="2.2" fill="#ff1a1a"/>
<line x1="120.26" y1="210.2" x2="120.26" y2="218.6" stroke="#ff5050" stroke-width="0.8"/>
<line x1="118.66" y1="210.2" x2="121.86" y2="210.2" stroke="#ff5050" stroke-width="0.8"/>
<line x1="118.66" y1="218.6" x2="121.86" y2="218.6" stroke="#ff5050" stroke-width="0.8"/>
<circle cx="120.26" cy="214.4" r="2.2" fill="#ff1a1a"/>
<line x1="134.65" y1="220.4" x2="134.65" y2="227.4" stroke="#ff5050" stroke-width="0.8"/>
<line x1="133.05" y1="220.4" x2="136.25" y2="220.4" stroke="#ff5050" stroke-width="0.8"/>
<line x1="133.05" y1="227.4" x2="136.25" y2="227.4" stroke="#ff5050" stroke-width="0.8"/>
<circle cx="134.65" cy="223.9" r="2.2" fill="#ff1a1a"/>
<line x1="149.04" y1="243.2" x2="149.04" y2="249.6" stroke="#ff5050" stroke-width="0.8"/>
<line x1="147.44" y1="243.2" x2="150.64" y2="243.2" stroke="#ff5050" stroke-width="0.8"/>
<line x1="147.44" y1="249.6" x2="150.64" y2="249.6" stroke="#ff5050" stroke-width="0.8"/>
<circle cx="149.04" cy="246.4" r="2.2" fill="#ff1a1a"/>
<line x1="163.43" y1="262.8" x2="163.43" y2="269.2" stroke="#ff5050" stroke-width="0.8"/>
<line x1="161.83" y1="262.8" x2="165.03" y2="262.8" stroke="#ff5050" stroke-width="0.8"/>
<line x1="161.83" y1="269.2" x2="165.03" y2="269.2" stroke="#ff5050" stroke-width="0.8"/>
<circle cx="163.43" cy="266" r="2.2" fill="#ff1a1a"/>
<line x1="177.82" y1="281.4" x2="177.82" y2="287.8" stroke="#ff5050" stroke-width="0.8"/>
<line x1="176.22" y1="281.4" x2="179.42" y2="281.4" stroke="#ff5050" stroke-width="0.8"/>
<line x1="176.22" y1="287.8" x2="179.42" y2="287.8" stroke="#ff5050" stroke-width="0.8"/>
<circle cx="177.82" cy="284.6" r="2.2" fill="#ff1a1a"/>
<circle cx="192.21" cy="294.6" r="2.2" fill="#ff1a1a"/>
<circle cx="206.6" cy="294.6" r="2.2" fill="#ff1a1a"/>
<line x1="152.8" y1="193.7" x2="164.5" y2="193.7" stroke="#1c1cc8" stroke-width="1.3"/>
<rect x="156.4" y="191.5" width="4.4" height="4.4" fill="#1c1cc8"/>
<text x="170.6" y="196.8" font-size="9" text-anchor="start" fill="#000" stroke="#000" stroke-width="0.15" font-family='"Liberation Sans", sans-serif'>Control</text>
<line x1="152.8" y1="203.8" x2="164.5" y2="203.8" stroke="#ff1a1a" stroke-width="1.3"/>
<circle cx="158.6" cy="203.8" r="2.4" fill="#ff1a1a"/>
<text x="170.6" y="206.9" font-size="9" text-anchor="start" fill="#000" stroke="#000" stroke-width="0.15" font-family='"Liberation Sans", sans-serif'>8a</text>
<line x1="291.1" y1="199.7" x2="291.1" y2="315.1" stroke="#222" stroke-width="1.2"/>
<line x1="241.3" y1="276.4" x2="415.1" y2="276.4" stroke="#222" stroke-width="1.2"/>
<line x1="286.5" y1="199.6" x2="291.1" y2="199.6" stroke="#222" stroke-width="1.2"/>
<text x="284.6" y="202.55" font-size="8.3" font-weight="bold" text-anchor="end" fill="#000" font-family='"Liberation Sans", sans-serif'>0.04</text>
<line x1="286.5" y1="238" x2="291.1" y2="238" stroke="#222" stroke-width="1.2"/>
<text x="284.6" y="240.95" font-size="8.3" font-weight="bold" text-anchor="end" fill="#000" font-family='"Liberation Sans", sans-serif'>0.02</text>
<line x1="286.5" y1="314.8" x2="291.1" y2="314.8" stroke="#222" stroke-width="1.2"/>
<text x="284.6" y="317.75" font-size="8.3" font-weight="bold" text-anchor="end" fill="#000" font-family='"Liberation Sans", sans-serif'>-0.02</text>
<line x1="241.6" y1="276.4" x2="241.6" y2="281" stroke="#222" stroke-width="1.2"/>
<line x1="266.35" y1="276.4" x2="266.35" y2="279" stroke="#222" stroke-width="1.2"/>
<line x1="315.85" y1="276.4" x2="315.85" y2="279" stroke="#222" stroke-width="1.2"/>
<line x1="340.6" y1="276.4" x2="340.6" y2="281" stroke="#222" stroke-width="1.2"/>
<line x1="365.35" y1="276.4" x2="365.35" y2="279" stroke="#222" stroke-width="1.2"/>
<line x1="390.1" y1="276.4" x2="390.1" y2="281" stroke="#222" stroke-width="1.2"/>
<line x1="414.85" y1="276.4" x2="414.85" y2="279" stroke="#222" stroke-width="1.2"/>
<text x="241.1" y="291.1" font-size="8.3" font-weight="bold" text-anchor="middle" fill="#000" font-family='"Liberation Sans", sans-serif'>-0.01</text>
<text x="340.6" y="291.1" font-size="8.3" font-weight="bold" text-anchor="middle" fill="#000" font-family='"Liberation Sans", sans-serif'>0.01</text>
<text x="390.1" y="291.1" font-size="8.3" font-weight="bold" text-anchor="middle" fill="#000" font-family='"Liberation Sans", sans-serif'>0.02</text>
<text x="321" y="308.5" font-size="10" font-weight="bold" font-family='"Liberation Sans", sans-serif' textLength="88" lengthAdjust="spacingAndGlyphs">[NAD<tspan font-size="6" dy="-4">+</tspan><tspan dy="4">]</tspan><tspan font-size="6" dy="-4">-1</tspan><tspan dy="4">([μmol/L]</tspan><tspan font-size="6" dy="-4">-1</tspan><tspan dy="4">)</tspan></text>
<text x="259.7" y="243.2" font-size="10" font-weight="bold" text-anchor="middle" fill="#000" font-family='"Liberation Sans", sans-serif' transform="rotate(-90 259.7 243.2)" textLength="14.3" lengthAdjust="spacingAndGlyphs">1/V</text>
<line x1="241.3" y1="280" x2="390" y2="254.5" stroke="#111111" stroke-width="0.8"/>
<line x1="241.5" y1="283.6" x2="390" y2="239.3" stroke="#1ee01e" stroke-width="0.8"/>
<line x1="241.5" y1="285" x2="390" y2="210.8" stroke="#a455e6" stroke-width="0.8"/>
<line x1="241.3" y1="305.6" x2="322.6" y2="199.2" stroke="#ff4646" stroke-width="0.8"/>
<line x1="390" y1="249.6" x2="390" y2="259.6" stroke="#111111" stroke-width="0.8"/>
<line x1="388.3" y1="249.6" x2="391.7" y2="249.6" stroke="#111111" stroke-width="0.8"/>
<line x1="388.3" y1="259.6" x2="391.7" y2="259.6" stroke="#111111" stroke-width="0.8"/>
<circle cx="292.1" cy="271.1" r="2.3" fill="#111111"/>
<circle cx="293.3" cy="271.1" r="2.3" fill="#111111"/>
<circle cx="296.1" cy="270" r="2.3" fill="#111111"/>
<circle cx="300.9" cy="269.5" r="2.3" fill="#111111"/>
<circle cx="310.9" cy="268" r="2.3" fill="#111111"/>
<circle cx="340.5" cy="263.3" r="2.3" fill="#111111"/>
<circle cx="390" cy="254.6" r="2.3" fill="#111111"/>
<line x1="340.5" y1="248.2" x2="340.5" y2="258.2" stroke="#1ee01e" stroke-width="0.8"/>
<line x1="338.8" y1="248.2" x2="342.2" y2="248.2" stroke="#1ee01e" stroke-width="0.8"/>
<line x1="338.8" y1="258.2" x2="342.2" y2="258.2" stroke="#1ee01e" stroke-width="0.8"/>
<line x1="390" y1="235.2" x2="390" y2="244.8" stroke="#1ee01e" stroke-width="0.8"/>
<line x1="388.3" y1="235.2" x2="391.7" y2="235.2" stroke="#1ee01e" stroke-width="0.8"/>
<line x1="388.3" y1="244.8" x2="391.7" y2="244.8" stroke="#1ee01e" stroke-width="0.8"/>
<rect x="290.2" y="267.2" width="4.2" height="4.2" fill="#1ee01e"/>
<rect x="293.7" y="265.6" width="4.2" height="4.2" fill="#1ee01e"/>
<rect x="298.9" y="261.8" width="4.2" height="4.2" fill="#1ee01e"/>
<rect x="308.8" y="256.7" width="4.2" height="4.2" fill="#1ee01e"/>
<rect x="338.4" y="251.1" width="4.2" height="4.2" fill="#1ee01e"/>
<rect x="387.9" y="237.9" width="4.2" height="4.2" fill="#1ee01e"/>
<line x1="292" y1="259.9" x2="292" y2="266.9" stroke="#a455e6" stroke-width="0.8"/>
<line x1="290.3" y1="259.9" x2="293.7" y2="259.9" stroke="#a455e6" stroke-width="0.8"/>
<line x1="290.3" y1="266.9" x2="293.7" y2="266.9" stroke="#a455e6" stroke-width="0.8"/>
<line x1="295.8" y1="258.3" x2="295.8" y2="262.3" stroke="#a455e6" stroke-width="0.8"/>
<line x1="294.1" y1="258.3" x2="297.5" y2="258.3" stroke="#a455e6" stroke-width="0.8"/>
<line x1="294.1" y1="262.3" x2="297.5" y2="262.3" stroke="#a455e6" stroke-width="0.8"/>
<line x1="301" y1="252.7" x2="301" y2="256.7" stroke="#a455e6" stroke-width="0.8"/>
<line x1="299.3" y1="252.7" x2="302.7" y2="252.7" stroke="#a455e6" stroke-width="0.8"/>
<line x1="299.3" y1="256.7" x2="302.7" y2="256.7" stroke="#a455e6" stroke-width="0.8"/>
<line x1="310.7" y1="247.6" x2="310.7" y2="250.6" stroke="#a455e6" stroke-width="0.8"/>
<line x1="309" y1="247.6" x2="312.4" y2="247.6" stroke="#a455e6" stroke-width="0.8"/>
<line x1="309" y1="250.6" x2="312.4" y2="250.6" stroke="#a455e6" stroke-width="0.8"/>
<line x1="340.4" y1="225.1" x2="340.4" y2="234.3" stroke="#a455e6" stroke-width="0.8"/>
<line x1="338.7" y1="225.1" x2="342.1" y2="225.1" stroke="#a455e6" stroke-width="0.8"/>
<line x1="338.7" y1="234.3" x2="342.1" y2="234.3" stroke="#a455e6" stroke-width="0.8"/>
<line x1="390" y1="208.1" x2="390" y2="217.5" stroke="#a455e6" stroke-width="0.8"/>
<line x1="388.3" y1="208.1" x2="391.7" y2="208.1" stroke="#a455e6" stroke-width="0.8"/>
<line x1="388.3" y1="217.5" x2="391.7" y2="217.5" stroke="#a455e6" stroke-width="0.8"/>
<polygon points="289.3,265.83 294.7,265.83 292,260.97" fill="#a455e6"/>
<polygon points="293.1,262.73 298.5,262.73 295.8,257.87" fill="#a455e6"/>
<polygon points="298.3,257.13 303.7,257.13 301,252.27" fill="#a455e6"/>
<polygon points="308,251.53 313.4,251.53 310.7,246.67" fill="#a455e6"/>
<polygon points="337.7,232.13 343.1,232.13 340.4,227.27" fill="#a455e6"/>
<polygon points="387.3,215.23 392.7,215.23 390,210.37" fill="#a455e6"/>
<line x1="292.5" y1="239.5" x2="292.5" y2="249.5" stroke="#ff4646" stroke-width="0.8"/>
<line x1="290.8" y1="239.5" x2="294.2" y2="239.5" stroke="#ff4646" stroke-width="0.8"/>
<line x1="290.8" y1="249.5" x2="294.2" y2="249.5" stroke="#ff4646" stroke-width="0.8"/>
<line x1="296" y1="227.3" x2="296" y2="246.3" stroke="#ff4646" stroke-width="0.8"/>
<line x1="294.3" y1="227.3" x2="297.7" y2="227.3" stroke="#ff4646" stroke-width="0.8"/>
<line x1="294.3" y1="246.3" x2="297.7" y2="246.3" stroke="#ff4646" stroke-width="0.8"/>
<line x1="300.9" y1="217.2" x2="300.9" y2="226.8" stroke="#ff4646" stroke-width="0.8"/>
<line x1="299.2" y1="217.2" x2="302.6" y2="217.2" stroke="#ff4646" stroke-width="0.8"/>
<line x1="299.2" y1="226.8" x2="302.6" y2="226.8" stroke="#ff4646" stroke-width="0.8"/>
<line x1="310.8" y1="200.3" x2="310.8" y2="209.9" stroke="#ff4646" stroke-width="0.8"/>
<line x1="309.1" y1="200.3" x2="312.5" y2="200.3" stroke="#ff4646" stroke-width="0.8"/>
<line x1="309.1" y1="209.9" x2="312.5" y2="209.9" stroke="#ff4646" stroke-width="0.8"/>
<polygon points="289.1,238.07 294.5,238.07 291.8,242.93" fill="#ff4646"/>
<polygon points="289.8,242.07 295.2,242.07 292.5,246.93" fill="#ff4646"/>
<polygon points="293.3,234.37 298.7,234.37 296,239.23" fill="#ff4646"/>
<polygon points="298.2,219.57 303.6,219.57 300.9,224.43" fill="#ff4646"/>
<polygon points="308.1,202.67 313.5,202.67 310.8,207.53" fill="#ff4646"/>
<line x1="396.8" y1="200.8" x2="408.9" y2="200.8" stroke="#555" stroke-width="0.9"/>
<circle cx="402.9" cy="200.8" r="2.42" fill="#111111"/>
<text x="416" y="203.68" font-size="8" text-anchor="start" fill="#000" stroke="#000" stroke-width="0.15" font-family='"Liberation Sans", sans-serif'>Control</text>
<line x1="396.8" y1="214" x2="408.9" y2="214" stroke="#1ee01e" stroke-width="0.9"/>
<rect x="400.69" y="211.79" width="4.41" height="4.41" fill="#1ee01e"/>
<text x="416" y="216.88" font-size="8" text-anchor="start" fill="#000" stroke="#000" stroke-width="0.15" font-family='"Liberation Sans", sans-serif'>8a (10 μM)</text>
<line x1="396.8" y1="226.3" x2="408.9" y2="226.3" stroke="#a455e6" stroke-width="0.9"/>
<polygon points="400.06,228.85 405.73,228.85 402.9,223.75" fill="#a455e6"/>
<text x="416" y="229.18" font-size="8" text-anchor="start" fill="#000" stroke="#000" stroke-width="0.15" font-family='"Liberation Sans", sans-serif'>8a (20 μM)</text>
<line x1="396.8" y1="238.4" x2="408.9" y2="238.4" stroke="#ff4646" stroke-width="0.9"/>
<polygon points="400.06,235.85 405.73,235.85 402.9,240.95" fill="#ff4646"/>
<text x="416" y="241.28" font-size="8" text-anchor="start" fill="#000" stroke="#000" stroke-width="0.15" font-family='"Liberation Sans", sans-serif'>8a (40 μM)</text>
<line x1="524.9" y1="184.7" x2="524.9" y2="293.8" stroke="#222" stroke-width="1.2"/>
<line x1="478.7" y1="275.5" x2="643" y2="275.5" stroke="#222" stroke-width="1.2"/>
<line x1="520.3" y1="184.75" x2="524.9" y2="184.75" stroke="#222" stroke-width="1.2"/>
<text x="519.6" y="187.7" font-size="8.3" font-weight="bold" text-anchor="end" fill="#000" font-family='"Liberation Sans", sans-serif'>0.10</text>
<line x1="520.3" y1="202.9" x2="524.9" y2="202.9" stroke="#222" stroke-width="1.2"/>
<text x="519.6" y="205.85" font-size="8.3" font-weight="bold" text-anchor="end" fill="#000" font-family='"Liberation Sans", sans-serif'>0.08</text>
<line x1="520.3" y1="221.05" x2="524.9" y2="221.05" stroke="#222" stroke-width="1.2"/>
<text x="519.6" y="224" font-size="8.3" font-weight="bold" text-anchor="end" fill="#000" font-family='"Liberation Sans", sans-serif'>0.06</text>
<line x1="520.3" y1="239.2" x2="524.9" y2="239.2" stroke="#222" stroke-width="1.2"/>
<text x="519.6" y="242.15" font-size="8.3" font-weight="bold" text-anchor="end" fill="#000" font-family='"Liberation Sans", sans-serif'>0.04</text>
<line x1="520.3" y1="257.35" x2="524.9" y2="257.35" stroke="#222" stroke-width="1.2"/>
<text x="519.6" y="260.3" font-size="8.3" font-weight="bold" text-anchor="end" fill="#000" font-family='"Liberation Sans", sans-serif'>0.02</text>
<line x1="520.3" y1="293.65" x2="524.9" y2="293.65" stroke="#222" stroke-width="1.2"/>
<text x="519.6" y="296.6" font-size="8.3" font-weight="bold" text-anchor="end" fill="#000" font-family='"Liberation Sans", sans-serif'>-0.02</text>
<line x1="477.3" y1="275.5" x2="477.3" y2="280.1" stroke="#222" stroke-width="1.2"/>
<line x1="501.1" y1="275.5" x2="501.1" y2="278.1" stroke="#222" stroke-width="1.2"/>
<line x1="548.7" y1="275.5" x2="548.7" y2="278.1" stroke="#222" stroke-width="1.2"/>
<line x1="572.5" y1="275.5" x2="572.5" y2="280.1" stroke="#222" stroke-width="1.2"/>
<line x1="596.3" y1="275.5" x2="596.3" y2="278.1" stroke="#222" stroke-width="1.2"/>
<line x1="620.1" y1="275.5" x2="620.1" y2="280.1" stroke="#222" stroke-width="1.2"/>
<line x1="643.9" y1="275.5" x2="643.9" y2="278.1" stroke="#222" stroke-width="1.2"/>
<text x="476.8" y="289.6" font-size="8.3" font-weight="bold" text-anchor="middle" fill="#000" font-family='"Liberation Sans", sans-serif'>-0.01</text>
<text x="572.5" y="289.6" font-size="8.3" font-weight="bold" text-anchor="middle" fill="#000" font-family='"Liberation Sans", sans-serif'>0.01</text>
<text x="620.1" y="289.6" font-size="8.3" font-weight="bold" text-anchor="middle" fill="#000" font-family='"Liberation Sans", sans-serif'>0.02</text>
<text x="540" y="308.1" font-size="9.3" font-weight="bold" font-family='"Liberation Sans", sans-serif' textLength="92.5" lengthAdjust="spacingAndGlyphs">[peptide]<tspan font-size="5.6" dy="-3.8">-1</tspan><tspan dy="3.8">([μmol/L]</tspan><tspan font-size="5.6" dy="-3.8">-1</tspan><tspan dy="3.8">)</tspan></text>
<text x="496" y="226.2" font-size="10" font-weight="bold" text-anchor="middle" fill="#000" font-family='"Liberation Sans", sans-serif' transform="rotate(-90 496 226.2)" textLength="14.3" lengthAdjust="spacingAndGlyphs">1/V</text>
<line x1="478.7" y1="282.5" x2="619" y2="251" stroke="#111111" stroke-width="0.8"/>
<line x1="478.7" y1="285.2" x2="619" y2="240.5" stroke="#1ee01e" stroke-width="0.8"/>
<line x1="478.7" y1="288" x2="619" y2="229.4" stroke="#a455e6" stroke-width="0.8"/>
<line x1="482" y1="294.7" x2="619" y2="194" stroke="#ff4646" stroke-width="0.8"/>
<line x1="619" y1="250" x2="619" y2="253.2" stroke="#111111" stroke-width="0.8"/>
<line x1="617.3" y1="250" x2="620.7" y2="250" stroke="#111111" stroke-width="0.8"/>
<line x1="617.3" y1="253.2" x2="620.7" y2="253.2" stroke="#111111" stroke-width="0.8"/>
<circle cx="529.9" cy="271.7" r="2.3" fill="#111111"/>
<circle cx="534.8" cy="269.5" r="2.3" fill="#111111"/>
<circle cx="548.8" cy="264" r="2.3" fill="#111111"/>
<circle cx="572.5" cy="259.2" r="2.3" fill="#111111"/>
<circle cx="619" cy="251.6" r="2.3" fill="#111111"/>
<line x1="534.8" y1="265.3" x2="534.8" y2="268.3" stroke="#1ee01e" stroke-width="0.8"/>
<line x1="533.1" y1="265.3" x2="536.5" y2="265.3" stroke="#1ee01e" stroke-width="0.8"/>
<line x1="533.1" y1="268.3" x2="536.5" y2="268.3" stroke="#1ee01e" stroke-width="0.8"/>
<line x1="548.8" y1="258.2" x2="548.8" y2="263.2" stroke="#1ee01e" stroke-width="0.8"/>
<line x1="547.1" y1="258.2" x2="550.5" y2="258.2" stroke="#1ee01e" stroke-width="0.8"/>
<line x1="547.1" y1="263.2" x2="550.5" y2="263.2" stroke="#1ee01e" stroke-width="0.8"/>
<line x1="572.5" y1="249" x2="572.5" y2="256" stroke="#1ee01e" stroke-width="0.8"/>
<line x1="570.8" y1="249" x2="574.2" y2="249" stroke="#1ee01e" stroke-width="0.8"/>
<line x1="570.8" y1="256" x2="574.2" y2="256" stroke="#1ee01e" stroke-width="0.8"/>
<line x1="619" y1="238.7" x2="619" y2="245.1" stroke="#1ee01e" stroke-width="0.8"/>
<line x1="617.3" y1="238.7" x2="620.7" y2="238.7" stroke="#1ee01e" stroke-width="0.8"/>
<line x1="617.3" y1="245.1" x2="620.7" y2="245.1" stroke="#1ee01e" stroke-width="0.8"/>
<rect x="527.8" y="266.6" width="4.2" height="4.2" fill="#1ee01e"/>
<rect x="532.7" y="264.7" width="4.2" height="4.2" fill="#1ee01e"/>
<rect x="546.7" y="258.6" width="4.2" height="4.2" fill="#1ee01e"/>
<rect x="570.4" y="250.4" width="4.2" height="4.2" fill="#1ee01e"/>
<rect x="616.9" y="239.8" width="4.2" height="4.2" fill="#1ee01e"/>
<line x1="534.8" y1="261.9" x2="534.8" y2="265.1" stroke="#a455e6" stroke-width="0.8"/>
<line x1="533.1" y1="261.9" x2="536.5" y2="261.9" stroke="#a455e6" stroke-width="0.8"/>
<line x1="533.1" y1="265.1" x2="536.5" y2="265.1" stroke="#a455e6" stroke-width="0.8"/>
<line x1="548.8" y1="253.5" x2="548.8" y2="259.1" stroke="#a455e6" stroke-width="0.8"/>
<line x1="547.1" y1="253.5" x2="550.5" y2="253.5" stroke="#a455e6" stroke-width="0.8"/>
<line x1="547.1" y1="259.1" x2="550.5" y2="259.1" stroke="#a455e6" stroke-width="0.8"/>
<line x1="572.5" y1="242.3" x2="572.5" y2="248.3" stroke="#a455e6" stroke-width="0.8"/>
<line x1="570.8" y1="242.3" x2="574.2" y2="242.3" stroke="#a455e6" stroke-width="0.8"/>
<line x1="570.8" y1="248.3" x2="574.2" y2="248.3" stroke="#a455e6" stroke-width="0.8"/>
<line x1="619" y1="230.2" x2="619" y2="234.6" stroke="#a455e6" stroke-width="0.8"/>
<line x1="617.3" y1="230.2" x2="620.7" y2="230.2" stroke="#a455e6" stroke-width="0.8"/>
<line x1="617.3" y1="234.6" x2="620.7" y2="234.6" stroke="#a455e6" stroke-width="0.8"/>
<polygon points="527.2,268.93 532.6,268.93 529.9,264.07" fill="#a455e6"/>
<polygon points="532.1,265.93 537.5,265.93 534.8,261.07" fill="#a455e6"/>
<polygon points="546.1,258.73 551.5,258.73 548.8,253.87" fill="#a455e6"/>
<polygon points="569.8,247.73 575.2,247.73 572.5,242.87" fill="#a455e6"/>
<polygon points="616.3,234.83 621.7,234.83 619,229.97" fill="#a455e6"/>
<line x1="534.8" y1="247.4" x2="534.8" y2="255.4" stroke="#ff4646" stroke-width="0.8"/>
<line x1="533.1" y1="247.4" x2="536.5" y2="247.4" stroke="#ff4646" stroke-width="0.8"/>
<line x1="533.1" y1="255.4" x2="536.5" y2="255.4" stroke="#ff4646" stroke-width="0.8"/>
<line x1="548.8" y1="241" x2="548.8" y2="248.2" stroke="#ff4646" stroke-width="0.8"/>
<line x1="547.1" y1="241" x2="550.5" y2="241" stroke="#ff4646" stroke-width="0.8"/>
<line x1="547.1" y1="248.2" x2="550.5" y2="248.2" stroke="#ff4646" stroke-width="0.8"/>
<line x1="572.5" y1="224.8" x2="572.5" y2="233.6" stroke="#ff4646" stroke-width="0.8"/>
<line x1="570.8" y1="224.8" x2="574.2" y2="224.8" stroke="#ff4646" stroke-width="0.8"/>
<line x1="570.8" y1="233.6" x2="574.2" y2="233.6" stroke="#ff4646" stroke-width="0.8"/>
<line x1="619" y1="191.1" x2="619" y2="197.1" stroke="#ff4646" stroke-width="0.8"/>
<line x1="617.3" y1="191.1" x2="620.7" y2="191.1" stroke="#ff4646" stroke-width="0.8"/>
<line x1="617.3" y1="197.1" x2="620.7" y2="197.1" stroke="#ff4646" stroke-width="0.8"/>
<polygon points="527.2,258.27 532.6,258.27 529.9,263.13" fill="#ff4646"/>
<polygon points="532.1,248.97 537.5,248.97 534.8,253.83" fill="#ff4646"/>
<polygon points="546.1,242.17 551.5,242.17 548.8,247.03" fill="#ff4646"/>
<polygon points="569.8,226.77 575.2,226.77 572.5,231.63" fill="#ff4646"/>
<polygon points="616.3,191.67 621.7,191.67 619,196.53" fill="#ff4646"/>
<line x1="626.9" y1="187.9" x2="638.6" y2="187.9" stroke="#555" stroke-width="0.9"/>
<circle cx="632.6" cy="187.9" r="2.42" fill="#111111"/>
<text x="645.2" y="190.6" font-size="7.5" text-anchor="start" fill="#000" stroke="#000" stroke-width="0.15" font-family='"Liberation Sans", sans-serif'>Control</text>
<line x1="626.9" y1="198.9" x2="638.6" y2="198.9" stroke="#1ee01e" stroke-width="0.9"/>
<rect x="630.39" y="196.69" width="4.41" height="4.41" fill="#1ee01e"/>
<text x="645.2" y="201.6" font-size="7.5" text-anchor="start" fill="#000" stroke="#000" stroke-width="0.15" font-family='"Liberation Sans", sans-serif'>8a (10 μM)</text>
<line x1="626.9" y1="209.7" x2="638.6" y2="209.7" stroke="#a455e6" stroke-width="0.9"/>
<polygon points="629.76,212.25 635.44,212.25 632.6,207.15" fill="#a455e6"/>
<text x="645.2" y="212.4" font-size="7.5" text-anchor="start" fill="#000" stroke="#000" stroke-width="0.15" font-family='"Liberation Sans", sans-serif'>8a (20 μM)</text>
<line x1="626.9" y1="220.9" x2="638.6" y2="220.9" stroke="#ff4646" stroke-width="0.9"/>
<polygon points="629.76,218.35 635.44,218.35 632.6,223.45" fill="#ff4646"/>
<text x="645.2" y="223.6" font-size="7.5" text-anchor="start" fill="#000" stroke="#000" stroke-width="0.15" font-family='"Liberation Sans", sans-serif'>8a (40 μM)</text>
<defs><linearGradient id="hg" x1="1" y1="0" x2="0" y2="1"><stop offset="0" stop-color="#14f6f6"/><stop offset="0.5" stop-color="#02dce0"/><stop offset="1" stop-color="#00959c"/></linearGradient></defs>
<path d="M91,382 C92,381.5 94.83,379 97,379 C99.17,379 102.83,381.5 104,382" fill="none" stroke="#0a9aa2" stroke-width="1.5" stroke-linecap="round" stroke-linejoin="round"/>
<path d="M91,382 C92,381.5 94.83,379 97,379 C99.17,379 102.83,381.5 104,382" fill="none" stroke="#19dde2" stroke-width="1" stroke-linecap="round" stroke-linejoin="round"/>
<path d="M121.9,381.5 C122.97,381.58 126.47,381.62 128.3,382 C130.13,382.38 131.95,382.97 132.9,383.8 C133.85,384.63 133.82,386.47 134,387" fill="none" stroke="#0a9aa2" stroke-width="1.5" stroke-linecap="round" stroke-linejoin="round"/>
<path d="M121.9,381.5 C122.97,381.58 126.47,381.62 128.3,382 C130.13,382.38 131.95,382.97 132.9,383.8 C133.85,384.63 133.82,386.47 134,387" fill="none" stroke="#19dde2" stroke-width="1" stroke-linecap="round" stroke-linejoin="round"/>
<path d="M70,384 C71,383.33 73.67,380.92 76,380 C78.33,379.08 81.67,378.33 84,378.5 C86.33,378.67 88.17,379.75 90,381 C91.83,382.25 93.67,384.33 95,386 C96.33,387.67 97.17,389.33 98,391 C98.83,392.67 99.67,395.17 100,396" fill="none" stroke="#0a9aa2" stroke-width="1.5" stroke-linecap="round" stroke-linejoin="round"/>
<path d="M70,384 C71,383.33 73.67,380.92 76,380 C78.33,379.08 81.67,378.33 84,378.5 C86.33,378.67 88.17,379.75 90,381 C91.83,382.25 93.67,384.33 95,386 C96.33,387.67 97.17,389.33 98,391 C98.83,392.67 99.67,395.17 100,396" fill="none" stroke="#19dde2" stroke-width="1" stroke-linecap="round" stroke-linejoin="round"/>
<path d="M90.3,376.8 C90.92,377.33 92.55,378.8 94,380 C95.45,381.2 97.5,382.67 99,384 C100.5,385.33 102.33,387.33 103,388" fill="none" stroke="#0a9aa2" stroke-width="1.5" stroke-linecap="round" stroke-linejoin="round"/>
<path d="M90.3,376.8 C90.92,377.33 92.55,378.8 94,380 C95.45,381.2 97.5,382.67 99,384 C100.5,385.33 102.33,387.33 103,388" fill="none" stroke="#19dde2" stroke-width="1" stroke-linecap="round" stroke-linejoin="round"/>
<path d="M63.6,409.9 C63.92,409.28 64.58,406.97 65.5,406.2 C66.42,405.43 67.58,405.37 69.1,405.3 C70.62,405.23 72.95,405.35 74.6,405.8 C76.25,406.25 78.27,407.63 79,408" fill="none" stroke="#0a9aa2" stroke-width="1.5" stroke-linecap="round" stroke-linejoin="round"/>
<path d="M63.6,409.9 C63.92,409.28 64.58,406.97 65.5,406.2 C66.42,405.43 67.58,405.37 69.1,405.3 C70.62,405.23 72.95,405.35 74.6,405.8 C76.25,406.25 78.27,407.63 79,408" fill="none" stroke="#19dde2" stroke-width="1" stroke-linecap="round" stroke-linejoin="round"/>
<path d="M64.6,411.7 C64,411.08 62.27,408.28 61,408 C59.73,407.72 58,408.83 57,410 C56,411.17 55.33,414.17 55,415" fill="none" stroke="#0a9aa2" stroke-width="1.5" stroke-linecap="round" stroke-linejoin="round"/>
<path d="M64.6,411.7 C64,411.08 62.27,408.28 61,408 C59.73,407.72 58,408.83 57,410 C56,411.17 55.33,414.17 55,415" fill="none" stroke="#19dde2" stroke-width="1" stroke-linecap="round" stroke-linejoin="round"/>
<path d="M130.1,390.2 C130.03,391.27 129.08,394.92 129.7,396.6 C130.32,398.28 132.52,399.23 133.8,400.3 C135.08,401.37 136.18,402.4 137.4,403 C138.62,403.6 139.57,403.9 141.1,403.9 C142.63,403.9 144.92,403.3 146.6,403 C148.28,402.7 149.97,401.93 151.2,402.1 C152.43,402.27 153.53,403.68 154,404" fill="none" stroke="#0a9aa2" stroke-width="1.5" stroke-linecap="round" stroke-linejoin="round"/>
<path d="M130.1,390.2 C130.03,391.27 129.08,394.92 129.7,396.6 C130.32,398.28 132.52,399.23 133.8,400.3 C135.08,401.37 136.18,402.4 137.4,403 C138.62,403.6 139.57,403.9 141.1,403.9 C142.63,403.9 144.92,403.3 146.6,403 C148.28,402.7 149.97,401.93 151.2,402.1 C152.43,402.27 153.53,403.68 154,404" fill="none" stroke="#19dde2" stroke-width="1" stroke-linecap="round" stroke-linejoin="round"/>
<path d="M53.6,425.5 C53.13,425.5 51.57,424.92 50.8,425.5 C50.03,426.08 49.92,427.63 49,429 C48.08,430.37 45.6,432.3 45.3,433.7 C45,435.1 47.05,436.18 47.2,437.4 C47.35,438.62 46.05,439.78 46.2,441 C46.35,442.22 47.18,444.38 48.1,444.7 C49.02,445.02 50.93,443.82 51.7,442.9 C52.47,441.98 51.93,440.43 52.7,439.2 C53.47,437.97 54.93,436.27 56.3,435.5 C57.67,434.73 59.37,434.6 60.9,434.6 C62.43,434.6 63.98,435.8 65.5,435.5 C67.02,435.2 68.33,433.55 70,432.8 C71.67,432.05 74.58,431.3 75.5,431" fill="none" stroke="#0a9aa2" stroke-width="1.5" stroke-linecap="round" stroke-linejoin="round"/>
<path d="M53.6,425.5 C53.13,425.5 51.57,424.92 50.8,425.5 C50.03,426.08 49.92,427.63 49,429 C48.08,430.37 45.6,432.3 45.3,433.7 C45,435.1 47.05,436.18 47.2,437.4 C47.35,438.62 46.05,439.78 46.2,441 C46.35,442.22 47.18,444.38 48.1,444.7 C49.02,445.02 50.93,443.82 51.7,442.9 C52.47,441.98 51.93,440.43 52.7,439.2 C53.47,437.97 54.93,436.27 56.3,435.5 C57.67,434.73 59.37,434.6 60.9,434.6 C62.43,434.6 63.98,435.8 65.5,435.5 C67.02,435.2 68.33,433.55 70,432.8 C71.67,432.05 74.58,431.3 75.5,431" fill="none" stroke="#19dde2" stroke-width="1" stroke-linecap="round" stroke-linejoin="round"/>
<path d="M75.5,431 C75.97,431.6 77.05,433.77 78.3,434.6 C79.55,435.43 81.38,435.43 83,436 C84.62,436.57 86.33,437.22 88,438 C89.67,438.78 91.85,439.7 93,440.7 C94.15,441.7 93.95,443.45 94.9,444 C95.85,444.55 97.18,444.17 98.7,444 C100.22,443.83 102.45,442.67 104,443 C105.55,443.33 107.33,445.5 108,446" fill="none" stroke="#0a9aa2" stroke-width="1.5" stroke-linecap="round" stroke-linejoin="round"/>
<path d="M75.5,431 C75.97,431.6 77.05,433.77 78.3,434.6 C79.55,435.43 81.38,435.43 83,436 C84.62,436.57 86.33,437.22 88,438 C89.67,438.78 91.85,439.7 93,440.7 C94.15,441.7 93.95,443.45 94.9,444 C95.85,444.55 97.18,444.17 98.7,444 C100.22,443.83 102.45,442.67 104,443 C105.55,443.33 107.33,445.5 108,446" fill="none" stroke="#19dde2" stroke-width="1" stroke-linecap="round" stroke-linejoin="round"/>
<path d="M43.7,435 C43.42,436 41.95,438.83 42,441 C42.05,443.17 42.93,446.5 44,448 C45.07,449.5 46.9,449.67 48.4,450 C49.9,450.33 51.4,450.5 53,450 C54.6,449.5 57.17,447.5 58,447" fill="none" stroke="#0a9aa2" stroke-width="1.5" stroke-linecap="round" stroke-linejoin="round"/>
<path d="M43.7,435 C43.42,436 41.95,438.83 42,441 C42.05,443.17 42.93,446.5 44,448 C45.07,449.5 46.9,449.67 48.4,450 C49.9,450.33 51.4,450.5 53,450 C54.6,449.5 57.17,447.5 58,447" fill="none" stroke="#19dde2" stroke-width="1" stroke-linecap="round" stroke-linejoin="round"/>
<path d="M60.8,462.5 C61.75,462.18 64.92,460.28 66.5,460.6 C68.08,460.92 68.72,464.08 70.3,464.4 C71.88,464.72 74.12,462.65 76,462.5 C77.88,462.35 79.72,463.02 81.6,463.5 C83.48,463.98 85.72,464.93 87.3,465.4 C88.88,465.87 89.65,465.7 91.1,466.3 C92.55,466.9 94.35,468.38 96,469 C97.65,469.62 100.17,469.83 101,470" fill="none" stroke="#0a9aa2" stroke-width="1.5" stroke-linecap="round" stroke-linejoin="round"/>
<path d="M60.8,462.5 C61.75,462.18 64.92,460.28 66.5,460.6 C68.08,460.92 68.72,464.08 70.3,464.4 C71.88,464.72 74.12,462.65 76,462.5 C77.88,462.35 79.72,463.02 81.6,463.5 C83.48,463.98 85.72,464.93 87.3,465.4 C88.88,465.87 89.65,465.7 91.1,466.3 C92.55,466.9 94.35,468.38 96,469 C97.65,469.62 100.17,469.83 101,470" fill="none" stroke="#19dde2" stroke-width="1" stroke-linecap="round" stroke-linejoin="round"/>
<path d="M76,473.9 C76.3,473.42 76.7,471.78 77.8,471 C78.9,470.22 81.23,470.03 82.6,469.2 C83.97,468.37 85.43,466.53 86,466" fill="none" stroke="#0a9aa2" stroke-width="1.5" stroke-linecap="round" stroke-linejoin="round"/>
<path d="M76,473.9 C76.3,473.42 76.7,471.78 77.8,471 C78.9,470.22 81.23,470.03 82.6,469.2 C83.97,468.37 85.43,466.53 86,466" fill="none" stroke="#19dde2" stroke-width="1" stroke-linecap="round" stroke-linejoin="round"/>
<path d="M56,478.6 C57.43,478.45 62.27,477.63 64.6,477.7 C66.93,477.77 68.1,479.12 70,479 C71.9,478.88 73.67,477.17 76,477 C78.33,476.83 81.33,478.17 84,478 C86.67,477.83 89.67,476.83 92,476 C94.33,475.17 96,473.33 98,473 C100,472.67 102.17,473.17 104,474 C105.83,474.83 107,477.17 109,478 C111,478.83 113.5,479.17 116,479 C118.5,478.83 122.67,477.33 124,477" fill="none" stroke="#0a9aa2" stroke-width="1.5" stroke-linecap="round" stroke-linejoin="round"/>
<path d="M56,478.6 C57.43,478.45 62.27,477.63 64.6,477.7 C66.93,477.77 68.1,479.12 70,479 C71.9,478.88 73.67,477.17 76,477 C78.33,476.83 81.33,478.17 84,478 C86.67,477.83 89.67,476.83 92,476 C94.33,475.17 96,473.33 98,473 C100,472.67 102.17,473.17 104,474 C105.83,474.83 107,477.17 109,478 C111,478.83 113.5,479.17 116,479 C118.5,478.83 122.67,477.33 124,477" fill="none" stroke="#19dde2" stroke-width="1" stroke-linecap="round" stroke-linejoin="round"/>
<path d="M91.1,463.5 C91.42,464.28 93.02,466.62 93,468.2 C92.98,469.78 91.33,472.2 91,473" fill="none" stroke="#0a9aa2" stroke-width="1.5" stroke-linecap="round" stroke-linejoin="round"/>
<path d="M91.1,463.5 C91.42,464.28 93.02,466.62 93,468.2 C92.98,469.78 91.33,472.2 91,473" fill="none" stroke="#19dde2" stroke-width="1" stroke-linecap="round" stroke-linejoin="round"/>
<path d="M103.7,448.2 C103.85,449.73 104.72,455.1 104.6,457.4 C104.48,459.7 103.27,461.23 103,462" fill="none" stroke="#0a9aa2" stroke-width="1.5" stroke-linecap="round" stroke-linejoin="round"/>
<path d="M103.7,448.2 C103.85,449.73 104.72,455.1 104.6,457.4 C104.48,459.7 103.27,461.23 103,462" fill="none" stroke="#19dde2" stroke-width="1" stroke-linecap="round" stroke-linejoin="round"/>
<path d="M108,468 C108.5,468.67 109.67,471 111,472 C112.33,473 114.5,474.17 116,474 C117.5,473.83 119.33,471.5 120,471" fill="none" stroke="#0a9aa2" stroke-width="1.5" stroke-linecap="round" stroke-linejoin="round"/>
<path d="M108,468 C108.5,468.67 109.67,471 111,472 C112.33,473 114.5,474.17 116,474 C117.5,473.83 119.33,471.5 120,471" fill="none" stroke="#19dde2" stroke-width="1" stroke-linecap="round" stroke-linejoin="round"/>
<path d="M108,440 C108.67,439.33 110.67,436.33 112,436 C113.33,435.67 114.83,436.67 116,438 C117.17,439.33 118.17,441.67 119,444 C119.83,446.33 120.83,449.67 121,452 C121.17,454.33 120.17,457 120,458" fill="none" stroke="#0a9aa2" stroke-width="1.5" stroke-linecap="round" stroke-linejoin="round"/>
<path d="M108,440 C108.67,439.33 110.67,436.33 112,436 C113.33,435.67 114.83,436.67 116,438 C117.17,439.33 118.17,441.67 119,444 C119.83,446.33 120.83,449.67 121,452 C121.17,454.33 120.17,457 120,458" fill="none" stroke="#19dde2" stroke-width="1" stroke-linecap="round" stroke-linejoin="round"/>
<path d="M96,436 C96.67,436.67 98.67,440 100,440 C101.33,440 102.33,437.67 104,436 C105.67,434.33 108,431.33 110,430 C112,428.67 114.17,427.83 116,428 C117.83,428.17 120.17,430.5 121,431" fill="none" stroke="#0a9aa2" stroke-width="1.5" stroke-linecap="round" stroke-linejoin="round"/>
<path d="M96,436 C96.67,436.67 98.67,440 100,440 C101.33,440 102.33,437.67 104,436 C105.67,434.33 108,431.33 110,430 C112,428.67 114.17,427.83 116,428 C117.83,428.17 120.17,430.5 121,431" fill="none" stroke="#19dde2" stroke-width="1" stroke-linecap="round" stroke-linejoin="round"/>
<path d="M40,445 C40.17,445.83 40.33,448.5 41,450 C41.67,451.5 43.5,453.33 44,454" fill="none" stroke="#0a9aa2" stroke-width="1.5" stroke-linecap="round" stroke-linejoin="round"/>
<path d="M40,445 C40.17,445.83 40.33,448.5 41,450 C41.67,451.5 43.5,453.33 44,454" fill="none" stroke="#19dde2" stroke-width="1" stroke-linecap="round" stroke-linejoin="round"/>
<path d="M57,480 C57.83,481 59.83,484.5 62,486 C64.17,487.5 67.67,488.83 70,489 C72.33,489.17 73.67,486.83 76,487 C78.33,487.17 81.67,488.83 84,490 C86.33,491.17 89,493.33 90,494" fill="none" stroke="#0a9aa2" stroke-width="1.5" stroke-linecap="round" stroke-linejoin="round"/>
<path d="M57,480 C57.83,481 59.83,484.5 62,486 C64.17,487.5 67.67,488.83 70,489 C72.33,489.17 73.67,486.83 76,487 C78.33,487.17 81.67,488.83 84,490 C86.33,491.17 89,493.33 90,494" fill="none" stroke="#19dde2" stroke-width="1" stroke-linecap="round" stroke-linejoin="round"/>
<path d="M116,440 C116.33,438.67 116.67,433.67 118,432 C119.33,430.33 123,430.33 124,430" fill="none" stroke="#0a9aa2" stroke-width="1.5" stroke-linecap="round" stroke-linejoin="round"/>
<path d="M116,440 C116.33,438.67 116.67,433.67 118,432 C119.33,430.33 123,430.33 124,430" fill="none" stroke="#19dde2" stroke-width="1" stroke-linecap="round" stroke-linejoin="round"/>
<path d="M107,392 C107.5,391.67 108.83,390 110,390 C111.17,390 112.67,392 114,392 C115.33,392 116.33,390 118,390 C119.67,390 122.33,391.17 124,392 C125.67,392.83 127.33,394.5 128,395" fill="none" stroke="#0a9aa2" stroke-width="1.5" stroke-linecap="round" stroke-linejoin="round"/>
<path d="M107,392 C107.5,391.67 108.83,390 110,390 C111.17,390 112.67,392 114,392 C115.33,392 116.33,390 118,390 C119.67,390 122.33,391.17 124,392 C125.67,392.83 127.33,394.5 128,395" fill="none" stroke="#19dde2" stroke-width="1" stroke-linecap="round" stroke-linejoin="round"/>
<path d="M82,410 C82.67,410.5 84.33,412.67 86,413 C87.67,413.33 90.33,411.5 92,412 C93.67,412.5 95,414.33 96,416 C97,417.67 97.83,420 98,422 C98.17,424 97.17,427 97,428" fill="none" stroke="#0a9aa2" stroke-width="1.5" stroke-linecap="round" stroke-linejoin="round"/>
<path d="M82,410 C82.67,410.5 84.33,412.67 86,413 C87.67,413.33 90.33,411.5 92,412 C93.67,412.5 95,414.33 96,416 C97,417.67 97.83,420 98,422 C98.17,424 97.17,427 97,428" fill="none" stroke="#19dde2" stroke-width="1" stroke-linecap="round" stroke-linejoin="round"/>
<path d="M96,446 C96.67,446.67 98.33,449 100,450 C101.67,451 104,452.33 106,452 C108,451.67 110.17,448 112,448 C113.83,448 116.17,451.33 117,452" fill="none" stroke="#0a9aa2" stroke-width="1.5" stroke-linecap="round" stroke-linejoin="round"/>
<path d="M96,446 C96.67,446.67 98.33,449 100,450 C101.67,451 104,452.33 106,452 C108,451.67 110.17,448 112,448 C113.83,448 116.17,451.33 117,452" fill="none" stroke="#19dde2" stroke-width="1" stroke-linecap="round" stroke-linejoin="round"/>
<path d="M84,468 C84.67,468.67 86.33,471 88,472 C89.67,473 92,473 94,474 C96,475 99,477.33 100,478" fill="none" stroke="#0a9aa2" stroke-width="1.5" stroke-linecap="round" stroke-linejoin="round"/>
<path d="M84,468 C84.67,468.67 86.33,471 88,472 C89.67,473 92,473 94,474 C96,475 99,477.33 100,478" fill="none" stroke="#19dde2" stroke-width="1" stroke-linecap="round" stroke-linejoin="round"/>
<path d="M40,440 C39.92,441.33 39.17,446 39.5,448 C39.83,450 41.58,451.33 42,452" fill="none" stroke="#0a9aa2" stroke-width="1.5" stroke-linecap="round" stroke-linejoin="round"/>
<path d="M40,440 C39.92,441.33 39.17,446 39.5,448 C39.83,450 41.58,451.33 42,452" fill="none" stroke="#19dde2" stroke-width="1" stroke-linecap="round" stroke-linejoin="round"/>
<path d="M47,466 C47.83,466.67 50.17,469 52,470 C53.83,471 56,472 58,472 C60,472 62,470 64,470 C66,470 68.33,472 70,472 C71.67,472 73.33,470.33 74,470" fill="none" stroke="#0a9aa2" stroke-width="1.5" stroke-linecap="round" stroke-linejoin="round"/>
<path d="M47,466 C47.83,466.67 50.17,469 52,470 C53.83,471 56,472 58,472 C60,472 62,470 64,470 C66,470 68.33,472 70,472 C71.67,472 73.33,470.33 74,470" fill="none" stroke="#19dde2" stroke-width="1" stroke-linecap="round" stroke-linejoin="round"/>
<path d="M100,430 C100.67,430.67 103.67,432.33 104,434 C104.33,435.67 103,438.83 102,440 C101,441.17 98.67,440.83 98,441" fill="none" stroke="#0a9aa2" stroke-width="1.5" stroke-linecap="round" stroke-linejoin="round"/>
<path d="M100,430 C100.67,430.67 103.67,432.33 104,434 C104.33,435.67 103,438.83 102,440 C101,441.17 98.67,440.83 98,441" fill="none" stroke="#19dde2" stroke-width="1" stroke-linecap="round" stroke-linejoin="round"/>
<path d="M62,470 C62.67,470.67 64.33,473.17 66,474 C67.67,474.83 70,475.33 72,475 C74,474.67 77,472.5 78,472" fill="none" stroke="#0a9aa2" stroke-width="1.5" stroke-linecap="round" stroke-linejoin="round"/>
<path d="M62,470 C62.67,470.67 64.33,473.17 66,474 C67.67,474.83 70,475.33 72,475 C74,474.67 77,472.5 78,472" fill="none" stroke="#19dde2" stroke-width="1" stroke-linecap="round" stroke-linejoin="round"/>
<path d="M108,452 C108.67,452.67 111.67,454.33 112,456 C112.33,457.67 110.33,461 110,462" fill="none" stroke="#0a9aa2" stroke-width="1.5" stroke-linecap="round" stroke-linejoin="round"/>
<path d="M108,452 C108.67,452.67 111.67,454.33 112,456 C112.33,457.67 110.33,461 110,462" fill="none" stroke="#19dde2" stroke-width="1" stroke-linecap="round" stroke-linejoin="round"/>
<path d="M80.76,361.78 L81.14,362.13 L81.62,362.41 L82.2,362.63 L82.86,362.77 L83.61,362.85 L84.42,362.87 L85.29,362.82 L86.2,362.72 L87.15,362.56 L88.12,362.37 L89.09,362.13 L90.05,361.87 L90.99,361.58 L91.88,361.28 L92.73,360.98 L93.52,360.69 L94.23,360.41 L94.86,360.15 L95.4,359.92 L95.84,359.73 L96.18,359.59 L96.41,359.5 L96.53,359.46 L96.99,360.24 L95.71,358.08 L95.91,358.4 L95.55,358.04 L95.09,357.74 L94.53,357.51 L93.89,357.35 L93.16,357.26 L92.36,357.23 L91.5,357.26 L90.59,357.36 L89.65,357.5 L88.68,357.69 L87.71,357.92 L86.75,358.17 L85.81,358.46 L84.9,358.75 L84.04,359.05 L83.24,359.35 L82.51,359.64 L81.86,359.9 L81.3,360.13 L80.84,360.33 L80.48,360.48 L80.23,360.59 L80.08,360.63Z" fill="#009ea6" stroke="#008a94" stroke-width="0.5" stroke-linejoin="round"/>
<path d="M87.16,372.65 L87.5,373.02 L87.95,373.33 L88.5,373.56 L89.13,373.73 L89.85,373.83 L90.64,373.87 L91.49,373.84 L92.39,373.76 L93.33,373.62 L94.29,373.44 L95.27,373.21 L96.23,372.96 L97.18,372.68 L98.09,372.38 L98.96,372.08 L99.77,371.79 L100.51,371.5 L101.16,371.23 L101.73,370.99 L102.21,370.79 L102.58,370.63 L102.85,370.52 L103.01,370.47 L103.38,371.02 L102.26,369.13 L102.3,369.27 L101.91,368.93 L101.41,368.66 L100.83,368.45 L100.15,368.31 L99.4,368.24 L98.58,368.23 L97.7,368.29 L96.78,368.4 L95.83,368.56 L94.86,368.76 L93.89,369 L92.93,369.27 L92,369.55 L91.11,369.85 L90.27,370.15 L89.49,370.45 L88.78,370.73 L88.16,370.98 L87.64,371.2 L87.21,371.39 L86.89,371.52 L86.67,371.61 L86.56,371.63Z" fill="#009ea6" stroke="#008a94" stroke-width="0.5" stroke-linejoin="round"/>
<path d="M93.57,383.51 L93.88,383.9 L94.29,384.23 L94.8,384.49 L95.41,384.68 L96.1,384.81 L96.87,384.86 L97.7,384.86 L98.59,384.79 L99.52,384.67 L100.47,384.5 L101.44,384.29 L102.41,384.05 L103.36,383.77 L104.29,383.48 L105.17,383.18 L106,382.88 L106.77,382.59 L107.45,382.32 L108.06,382.07 L108.56,381.85 L108.97,381.68 L109.27,381.55 L109.47,381.48 L109.55,381.47 L110.09,382.46 L108.66,380.04 L109,380.54 L108.68,380.15 L108.25,379.83 L107.73,379.58 L107.11,379.4 L106.41,379.28 L105.63,379.23 L104.79,379.25 L103.9,379.32 L102.97,379.45 L102.01,379.62 L101.04,379.84 L100.07,380.09 L99.12,380.36 L98.2,380.65 L97.32,380.95 L96.5,381.25 L95.74,381.54 L95.07,381.81 L94.48,382.06 L93.98,382.27 L93.59,382.44 L93.3,382.56 L93.12,382.62 L93.05,382.63Z" fill="#009ea6" stroke="#008a94" stroke-width="0.5" stroke-linejoin="round"/>
<path d="M81.05,362.11 L80.86,361.99 L80.76,361.78 L80.08,360.63 L79.68,359.99 L79.4,359.31Z" fill="url(#hg)" stroke="#008a94" stroke-width="0.5" stroke-linejoin="round"/>
<path d="M96.99,360.24 L97.25,360.93 L97.4,361.67 L97.44,362.46 L97.36,363.28 L97.18,364.12 L96.9,364.98 L96.53,365.84 L96.07,366.69 L95.53,367.52 L94.93,368.33 L94.28,369.1 L93.59,369.82 L92.87,370.48 L92.14,371.08 L91.42,371.61 L90.72,372.07 L90.05,372.45 L89.43,372.75 L88.86,372.97 L88.37,373.1 L87.95,373.15 L87.63,373.13 L87.41,373.03 L87.16,372.65 L86.56,371.63 L86.07,370.77 L85.83,370.08 L85.69,369.33 L85.67,368.54 L85.76,367.71 L85.95,366.87 L86.24,366.01 L86.63,365.15 L87.1,364.3 L87.65,363.47 L88.25,362.67 L88.91,361.91 L89.61,361.19 L90.33,360.54 L91.05,359.94 L91.77,359.42 L92.47,358.97 L93.14,358.6 L93.75,358.32 L94.31,358.11 L94.79,357.99 L95.2,357.94 L95.5,357.98 L95.71,358.08Z" fill="url(#hg)" stroke="#008a94" stroke-width="0.5" stroke-linejoin="round"/>
<path d="M103.38,371.02 L103.68,371.69 L103.86,372.42 L103.94,373.19 L103.9,374 L103.76,374.84 L103.51,375.69 L103.16,376.55 L102.73,377.41 L102.22,378.25 L101.64,379.06 L101,379.85 L100.32,380.58 L99.61,381.27 L98.89,381.89 L98.16,382.45 L97.45,382.93 L96.77,383.33 L96.13,383.66 L95.54,383.9 L95.02,384.06 L94.58,384.14 L94.23,384.15 L93.97,384.07 L93.57,383.51 L93.05,382.63 L92.48,381.55 L92.27,380.83 L92.17,380.07 L92.19,379.27 L92.31,378.43 L92.54,377.58 L92.86,376.72 L93.28,375.87 L93.77,375.02 L94.34,374.2 L94.97,373.41 L95.64,372.66 L96.34,371.97 L97.07,371.33 L97.79,370.76 L98.51,370.26 L99.2,369.84 L99.85,369.5 L100.45,369.24 L100.98,369.06 L101.44,368.96 L101.81,368.95 L102.09,369 L102.26,369.13Z" fill="url(#hg)" stroke="#008a94" stroke-width="0.5" stroke-linejoin="round"/>
<path d="M110.09,382.46 L110.31,383.17 L110.42,383.93 L110.42,384.73 L110.32,385.56 L110.1,386.41 L109.79,387.26 L109.38,388.12 L108.9,388.97 L108.34,389.8 L107.72,390.59 L107.05,391.34 L106.35,392.04 L105.63,392.69 L104.9,393.27 L104.19,393.78 L103.49,394.21 L102.84,394.56 L102.23,394.83 L101.69,395.02 L101.22,395.13 L100.84,395.15 L100.55,395.11 L98.9,392.31 L98.73,391.58 L98.67,390.8 L98.72,389.99 L98.87,389.15 L99.13,388.3 L99.49,387.44 L99.93,386.58 L100.46,385.74 L101.04,384.93 L101.69,384.16 L102.37,383.42 L103.08,382.75 L103.81,382.13 L104.53,381.59 L105.24,381.11 L105.92,380.72 L106.55,380.4 L107.13,380.17 L107.64,380.02 L108.07,379.95 L108.41,379.96 L108.66,380.04Z" fill="url(#hg)" stroke="#008a94" stroke-width="0.5" stroke-linejoin="round"/>
<path d="M76.4,357 C76,349 84,347 90,349 C93,350 94,353 93.4,355 L89,356.5 C86,353 81,354 80,361 Z" fill="#00f4f4" stroke="#008a94" stroke-width="0.5"/>
<ellipse cx="138.2" cy="389.2" rx="8.3" ry="3.5" transform="rotate(-6 138.2 389.2)" fill="none" stroke="#009ea6" stroke-width="2"/>
<ellipse cx="138.2" cy="389.2" rx="8.3" ry="3.5" transform="rotate(-6 138.2 389.2)" fill="none" stroke="#00cfd4" stroke-width="1.3"/>
<path d="M144,386 C147,387 148,390 145,392.5" fill="none" stroke="#006c74" stroke-width="1.6"/>
<path d="M121.9,378.8 L111.19,379.17 L111.15,377.97 L104.7,382.4 L111.44,386.37 L111.4,385.17 L122.1,384.8Z" fill="#00f4f4" stroke="#008a94" stroke-width="0.6" stroke-linejoin="round"/>
<ellipse cx="80.9" cy="389.5" rx="7.6" ry="8.6" transform="rotate(-15 80.9 389.5)" fill="none" stroke="#0a9aa2" stroke-width="1.5"/>
<ellipse cx="80.9" cy="389.5" rx="7.6" ry="8.6" transform="rotate(-15 80.9 389.5)" fill="none" stroke="#19dde2" stroke-width="0.8"/>
<ellipse cx="79.3" cy="391.5" rx="7.6" ry="8.6" transform="rotate(-15 79.3 391.5)" fill="none" stroke="#0a9aa2" stroke-width="1.5"/>
<ellipse cx="79.3" cy="391.5" rx="7.6" ry="8.6" transform="rotate(-15 79.3 391.5)" fill="none" stroke="#19dde2" stroke-width="0.8"/>
<ellipse cx="77.7" cy="393.5" rx="7.6" ry="8.6" transform="rotate(-15 77.7 393.5)" fill="none" stroke="#0a9aa2" stroke-width="1.5"/>
<ellipse cx="77.7" cy="393.5" rx="7.6" ry="8.6" transform="rotate(-15 77.7 393.5)" fill="none" stroke="#19dde2" stroke-width="0.8"/>
<ellipse cx="76.1" cy="395.5" rx="7.6" ry="8.6" transform="rotate(-15 76.1 395.5)" fill="none" stroke="#0a9aa2" stroke-width="1.5"/>
<ellipse cx="76.1" cy="395.5" rx="7.6" ry="8.6" transform="rotate(-15 76.1 395.5)" fill="none" stroke="#19dde2" stroke-width="0.8"/>
<path d="M96.05,402 L117.89,401.7 L129.03,402.64 L128.95,403.69 L137,399.8 L129.71,394.62 L129.62,395.67 L118.11,394.7 L95.95,395Z" fill="#12c8ce" stroke="#008a94" stroke-width="0.6" stroke-linejoin="round"/>
<path d="M100.59,417.38 L113.92,413.88 L121.53,411.75 L121.86,412.93 L128,406.3 L119.31,403.83 L119.64,405.01 L112.08,407.12 L98.81,410.62Z" fill="#10bcc4" stroke="#008a94" stroke-width="0.6" stroke-linejoin="round"/>
<path d="M104.57,426.24 L116.57,423.74 L122.54,422.5 L122.74,423.46 L128,418.5 L121.2,416.06 L121.4,417.02 L115.43,418.26 L103.43,420.76Z" fill="#0eb0b8" stroke="#008a94" stroke-width="0.6" stroke-linejoin="round"/>
<path d="M58.06,429.81 L58.52,429.63 L58.97,429.31 L59.41,428.85 L59.84,428.27 L60.25,427.58 L60.63,426.78 L61,425.9 L61.34,424.94 L61.66,423.91 L61.95,422.85 L62.21,421.76 L62.44,420.67 L62.65,419.59 L62.83,418.54 L62.99,417.54 L63.12,416.6 L63.23,415.74 L63.33,414.98 L63.4,414.33 L63.47,413.79 L63.52,413.38 L63.57,413.11 L63.62,412.97 L64.75,412.96 L61.89,413.01 L62.51,412.99 L62.05,413.13 L61.59,413.41 L61.15,413.83 L60.72,414.37 L60.3,415.03 L59.91,415.8 L59.54,416.66 L59.19,417.6 L58.86,418.6 L58.56,419.66 L58.29,420.74 L58.05,421.83 L57.84,422.92 L57.65,423.98 L57.48,425 L57.34,425.96 L57.23,426.84 L57.13,427.63 L57.05,428.32 L56.98,428.89 L56.92,429.34 L56.87,429.65 L56.83,429.83Z" fill="#009ea6" stroke="#008a94" stroke-width="0.5" stroke-linejoin="round"/>
<path d="M70.27,429.65 L70.73,429.52 L71.19,429.25 L71.64,428.85 L72.07,428.32 L72.48,427.67 L72.88,426.92 L73.26,426.06 L73.61,425.13 L73.93,424.13 L74.23,423.08 L74.51,422 L74.75,420.91 L74.97,419.82 L75.16,418.75 L75.33,417.73 L75.47,416.76 L75.59,415.87 L75.69,415.07 L75.77,414.37 L75.84,413.79 L75.9,413.33 L75.95,413 L76,412.81 L76.84,412.75 L74.39,412.79 L74.73,412.83 L74.27,413.03 L73.81,413.36 L73.37,413.83 L72.95,414.42 L72.54,415.12 L72.16,415.93 L71.79,416.82 L71.45,417.79 L71.14,418.82 L70.85,419.89 L70.59,420.97 L70.36,422.07 L70.16,423.15 L69.98,424.19 L69.82,425.19 L69.69,426.12 L69.58,426.97 L69.49,427.72 L69.42,428.36 L69.35,428.89 L69.3,429.28 L69.25,429.54 L69.21,429.66Z" fill="#009ea6" stroke="#008a94" stroke-width="0.5" stroke-linejoin="round"/>
<path d="M82.95,429.39 L83.41,429.17 L83.86,428.83 L84.3,428.35 L84.72,427.75 L85.12,427.03 L85.51,426.21 L85.87,425.31 L86.21,424.34 L86.52,423.3 L86.8,422.23 L87.06,421.14 L87.29,420.05 L87.49,418.98 L87.66,417.93 L87.82,416.94 L84.05,417 L83.72,418 L83.42,419.04 L83.15,420.12 L82.9,421.21 L82.68,422.3 L82.48,423.37 L82.31,424.4 L82.17,425.37 L82.05,426.27 L81.95,427.08 L81.86,427.79 L81.79,428.39 L81.73,428.86 L81.68,429.2 L81.63,429.41Z" fill="#009ea6" stroke="#008a94" stroke-width="0.5" stroke-linejoin="round"/>
<path d="M59.77,425.45 L59.76,426.37 L59.69,427.21 L59.57,427.95 L59.41,428.58 L59.21,429.1 L58.98,429.48 L58.73,429.73 L58.46,429.84 L58.06,429.81 L56.83,429.83 L55.91,429.88 L55.13,429.79 L54.36,429.56 L53.6,429.19 L52.87,428.69 L52.18,428.07 L51.52,427.34 L50.91,426.51 L50.36,425.6Z" fill="url(#hg)" stroke="#008a94" stroke-width="0.5" stroke-linejoin="round"/>
<path d="M64.75,412.96 L65.53,413.1 L66.3,413.37 L67.05,413.78 L67.77,414.32 L68.45,414.97 L69.09,415.73 L69.69,416.59 L70.22,417.52 L70.7,418.52 L71.11,419.56 L71.45,420.64 L71.73,421.72 L71.94,422.8 L72.08,423.85 L72.16,424.86 L72.17,425.81 L72.12,426.69 L72.02,427.47 L71.88,428.15 L71.69,428.71 L71.47,429.14 L71.23,429.45 L70.97,429.61 L70.27,429.65 L69.21,429.66 L68,429.66 L67.22,429.51 L66.45,429.22 L65.71,428.8 L64.99,428.26 L64.31,427.59 L63.67,426.82 L63.09,425.96 L62.56,425.02 L62.09,424.01 L61.68,422.97 L61.34,421.89 L61.07,420.8 L60.87,419.73 L60.74,418.68 L60.67,417.67 L60.66,416.73 L60.71,415.87 L60.81,415.09 L60.96,414.43 L61.15,413.88 L61.38,413.45 L61.62,413.16 L61.89,413.01Z" fill="url(#hg)" stroke="#008a94" stroke-width="0.5" stroke-linejoin="round"/>
<path d="M76.84,412.75 L77.62,412.83 L78.4,413.05 L79.15,413.4 L79.89,413.89 L80.59,414.5 L81.24,415.22 L81.86,416.03 L82.41,416.94 L82.91,417.91 L83.35,418.94 L83.72,420 L84.03,421.09 L84.26,422.17 L84.43,423.24 L84.53,424.27 L84.57,425.24 L84.55,426.15 L84.47,426.97 L84.34,427.69 L84.17,428.3 L83.96,428.78 L83.73,429.14 L83.47,429.36 L83.21,429.45 L82.95,429.39 L81.63,429.41 L80.87,429.48 L80.08,429.42 L79.31,429.21 L78.55,428.87 L77.81,428.4 L77.11,427.8 L76.45,427.1 L75.83,426.29 L75.27,425.39 L74.76,424.42 L74.32,423.4 L73.94,422.34 L73.63,421.26 L73.38,420.17 L73.21,419.1 L73.1,418.07 L73.06,417.09 L73.07,416.18 L73.15,415.35 L73.27,414.61 L73.44,413.99 L73.64,413.49 L73.87,413.12 L74.13,412.88 L74.39,412.79Z" fill="url(#hg)" stroke="#008a94" stroke-width="0.5" stroke-linejoin="round"/>
<ellipse cx="88" cy="428" rx="8.4" ry="8.4" transform="rotate(0 88 428)" fill="none" stroke="#008a94" stroke-width="3.9"/>
<ellipse cx="88" cy="428" rx="8.4" ry="8.4" transform="rotate(0 88 428)" fill="none" stroke="#00f4f4" stroke-width="3.2"/>
<ellipse cx="86.6" cy="429.8" rx="5.6" ry="5.6" transform="rotate(0 86.6 429.8)" fill="none" stroke="#008a94" stroke-width="1.7"/>
<ellipse cx="86.6" cy="429.8" rx="5.6" ry="5.6" transform="rotate(0 86.6 429.8)" fill="none" stroke="#19dde2" stroke-width="1"/>
<ellipse cx="74.2" cy="451" rx="7.2" ry="6.8" transform="rotate(0 74.2 451)" fill="none" stroke="#008a94" stroke-width="3.9"/>
<ellipse cx="74.2" cy="451" rx="7.2" ry="6.8" transform="rotate(0 74.2 451)" fill="none" stroke="#00f4f4" stroke-width="3.2"/>
<ellipse cx="75" cy="452.6" rx="4" ry="3.8" transform="rotate(0 75 452.6)" fill="none" stroke="#008a94" stroke-width="1.6"/>
<ellipse cx="75" cy="452.6" rx="4" ry="3.8" transform="rotate(0 75 452.6)" fill="none" stroke="#19dde2" stroke-width="0.9"/>
<path d="M43.13,461.53 L43.74,461.73 L44.39,461.86 L45.05,461.9 L45.74,461.87 L46.43,461.77 L47.14,461.6 L47.84,461.37 L48.53,461.08 L49.22,460.75 L49.88,460.37 L50.52,459.96 L51.13,459.53 L51.71,459.09 L52.24,458.65 L52.74,458.21 L53.19,457.79 L53.59,457.41 L53.94,457.05 L54.25,456.75 L54.5,456.5 L54.71,456.3 L54.88,456.18 L55,456.12 L55.64,456.41 L53.57,455.42 L53.54,455.43 L52.92,455.25 L52.27,455.15 L51.6,455.12 L50.91,455.17 L50.21,455.29 L49.51,455.47 L48.81,455.72 L48.12,456.02 L47.44,456.37 L46.78,456.76 L46.15,457.17 L45.54,457.6 L44.98,458.05 L44.45,458.49 L43.97,458.92 L43.53,459.33 L43.14,459.71 L42.8,460.05 L42.51,460.35 L42.26,460.58 L42.07,460.76 L41.91,460.87 L41.8,460.9Z" fill="#009ea6" stroke="#008a94" stroke-width="0.5" stroke-linejoin="round"/>
<path d="M44.67,457.84 L44.62,458.51 L44.53,459.13 L44.4,459.69 L44.25,460.19 L44.08,460.62 L43.91,460.97 L43.73,461.25 L43.56,461.45 L43.41,461.56 L43.28,461.6 L43.13,461.53 L41.8,460.9 L41,460.52 L40.29,460.08 L39.63,459.58 L39.02,459.02 L38.47,458.39 L37.98,457.72 L37.55,457.01 L37.18,456.27 L36.88,455.51 L36.65,454.73 L36.48,453.96Z" fill="url(#hg)" stroke="#008a94" stroke-width="0.5" stroke-linejoin="round"/>
<path d="M55.64,456.41 L56.36,456.82 L57.03,457.3 L57.66,457.85 L58.22,458.46 L58.73,459.12 L59.18,459.82 L59.56,460.56 L59.87,461.32 L60.12,462.09 L60.31,462.87 L60.43,463.63 L60.5,464.38 L60.51,465.1 L60.47,465.79 L60.39,466.43 L60.28,467.01 L60.14,467.53 L59.97,467.98 L59.8,468.36 L59.62,468.67 L59.45,468.89 L59.29,469.03 L59.16,469.1 L56.59,467.88 L55.9,467.42 L55.25,466.9 L54.66,466.32 L54.13,465.68 L53.66,464.99 L53.25,464.27 L52.91,463.52 L52.63,462.75 L52.42,461.97 L52.27,461.2 L52.18,460.44 L52.15,459.71 L52.17,459.01 L52.23,458.35 L52.33,457.75 L52.46,457.2 L52.62,456.72 L52.79,456.31 L52.96,455.97 L53.14,455.71 L53.3,455.54 L53.45,455.44 L53.57,455.42Z" fill="url(#hg)" stroke="#008a94" stroke-width="0.5" stroke-linejoin="round"/>
<path d="M155.1,410.96 L154.74,411.44 L154.21,411.87 L153.5,412.26 L152.64,412.6 L151.63,412.89 L150.5,413.14 L149.25,413.34 L147.92,413.5 L146.52,413.61 L145.07,413.7 L143.59,413.75 L142.12,413.78 L140.68,413.79 L139.28,413.78 L137.95,413.76 L136.71,413.74 L135.59,413.72 L134.59,413.71 L133.74,413.71 L133.04,413.74 L132.52,413.79 L132.17,413.87 L132,413.99 L131.82,415 L132.32,412.74 L132.2,413.06 L132.46,412.55 L132.89,412.09 L133.49,411.68 L134.26,411.31 L135.18,410.99 L136.24,410.72 L137.42,410.49 L138.7,410.3 L140.07,410.16 L141.49,410.06 L142.95,409.99 L144.43,409.94 L145.89,409.93 L147.32,409.93 L148.7,409.94 L149.99,409.96 L151.19,409.98 L152.26,410 L153.21,410 L154,409.99 L154.63,409.95 L155.08,409.89 L155.36,409.79Z" fill="#009ea6" stroke="#008a94" stroke-width="0.5" stroke-linejoin="round"/>
<path d="M151.57,427.27 L151.24,427.76 L150.74,428.2 L150.07,428.59 L149.24,428.94 L148.26,429.24 L147.15,429.5 L145.93,429.71 L144.61,429.88 L143.22,430 L141.78,430.09 L140.31,430.15 L138.83,430.19 L137.38,430.2 L135.97,430.19 L134.62,430.17 L133.37,430.15 L132.22,430.13 L131.19,430.12 L130.31,430.12 L129.58,430.14 L129.02,430.19 L128.63,430.26 L128.43,430.37 L128.24,431.26 L128.7,429.16 L128.65,429.36 L128.94,428.86 L129.41,428.41 L130.05,428.01 L130.85,427.65 L131.8,427.34 L132.88,427.08 L134.09,426.86 L135.39,426.68 L136.77,426.55 L138.2,426.45 L139.67,426.38 L141.14,426.35 L142.6,426.33 L144.02,426.34 L145.38,426.35 L146.66,426.38 L147.83,426.4 L148.88,426.41 L149.79,426.41 L150.55,426.39 L151.14,426.35 L151.56,426.28 L151.81,426.18Z" fill="#009ea6" stroke="#008a94" stroke-width="0.5" stroke-linejoin="round"/>
<path d="M148.02,443.58 L147.73,444.07 L147.27,444.52 L146.63,444.93 L145.83,445.28 L144.88,445.6 L143.8,445.86 L142.6,446.08 L141.3,446.26 L139.92,446.39 L138.49,446.49 L137.02,446.55 L135.55,446.59 L134.09,446.61 L132.66,446.6 L131.3,446.59 L130.03,446.56 L128.85,446.54 L127.8,446.53 L126.89,446.53 L126.13,446.54 L125.53,446.59 L125.11,446.65 L124.87,446.76 L124.67,447.52 L125.09,445.58 L125.1,445.66 L125.43,445.18 L125.94,444.74 L126.61,444.34 L127.44,443.99 L128.42,443.69 L129.53,443.44 L130.76,443.23 L132.07,443.06 L133.47,442.93 L134.91,442.84 L136.38,442.79 L137.85,442.75 L139.3,442.74 L140.72,442.75 L142.06,442.77 L143.32,442.79 L144.46,442.81 L145.49,442.82 L146.37,442.82 L147.1,442.8 L147.65,442.75 L148.04,442.68 L148.24,442.57Z" fill="#009ea6" stroke="#008a94" stroke-width="0.5" stroke-linejoin="round"/>
<path d="M144.47,459.88 L144.22,460.38 L143.79,460.84 L143.18,461.26 L142.42,461.63 L141.5,461.95 L140.44,462.22 L139.26,462.45 L137.98,462.63 L136.62,462.78 L135.19,462.88 L133.73,462.95 L132.26,463 L130.79,463.01 L129.36,463.01 L127.99,463 L126.69,462.98 L125.49,462.96 L124.42,462.94 L123.47,462.94 L122.68,462.95 L122.05,462.99 L121.59,463.05 L121.31,463.14 L121.1,463.77 L121.49,461.99 L121.57,461.97 L121.93,461.49 L122.47,461.06 L123.18,460.68 L124.04,460.34 L125.05,460.05 L126.18,459.8 L127.43,459.6 L128.77,459.44 L130.17,459.32 L131.62,459.24 L133.09,459.19 L134.56,459.16 L136.01,459.15 L137.41,459.16 L138.74,459.18 L139.97,459.2 L141.1,459.22 L142.09,459.23 L142.94,459.23 L143.63,459.2 L144.16,459.15 L144.51,459.07 L144.67,458.95Z" fill="#009ea6" stroke="#008a94" stroke-width="0.5" stroke-linejoin="round"/>
<path d="M152.83,410.53 L153.62,410.72 L154.26,410.86 L154.74,410.94 L155.05,410.97 L155.18,410.95 L155.1,410.96 L155.36,409.79 L155.57,409.16 L155.61,408.41 L155.47,407.62 L155.15,406.81 L154.66,405.99 L154,405.16Z" fill="url(#hg)" stroke="#008a94" stroke-width="0.5" stroke-linejoin="round"/>
<path d="M131.82,415 L131.89,415.77 L132.14,416.57 L132.57,417.39 L133.16,418.22 L133.9,419.06 L134.79,419.89 L135.8,420.7 L136.91,421.5 L138.12,422.26 L139.38,422.99 L140.69,423.67 L142.02,424.31 L143.34,424.89 L144.63,425.42 L145.87,425.88 L147.04,426.28 L148.11,426.62 L149.06,426.89 L149.88,427.1 L150.55,427.25 L151.07,427.34 L151.41,427.38 L151.57,427.37 L151.57,427.27 L151.81,426.18 L152,425.42 L152,424.66 L151.83,423.87 L151.47,423.06 L150.95,422.23 L150.26,421.4 L149.43,420.56 L148.47,419.74 L147.39,418.94 L146.22,418.16 L144.98,417.42 L143.68,416.71 L142.36,416.06 L141.03,415.45 L139.73,414.9 L138.46,414.42 L137.27,413.99 L136.16,413.63 L135.15,413.33 L134.28,413.1 L133.54,412.92 L132.97,412.81 L132.55,412.75 L132.32,412.74Z" fill="url(#hg)" stroke="#008a94" stroke-width="0.5" stroke-linejoin="round"/>
<path d="M128.24,431.26 L128.28,432.02 L128.49,432.82 L128.88,433.63 L129.43,434.46 L130.15,435.3 L131.01,436.13 L131.99,436.95 L133.09,437.74 L134.28,438.52 L135.53,439.25 L136.83,439.95 L138.16,440.59 L139.48,441.19 L140.78,441.72 L142.03,442.2 L143.22,442.61 L144.31,442.96 L145.29,443.25 L146.14,443.47 L146.84,443.63 L147.39,443.73 L147.76,443.78 L147.97,443.78 L148.02,443.58 L148.24,442.57 L148.43,441.67 L148.39,440.91 L148.18,440.11 L147.79,439.3 L147.23,438.47 L146.51,437.63 L145.65,436.8 L144.67,435.99 L143.57,435.19 L142.38,434.42 L141.12,433.68 L139.82,432.99 L138.5,432.34 L137.17,431.75 L135.87,431.21 L134.62,430.73 L133.44,430.32 L132.35,429.97 L131.37,429.69 L130.53,429.47 L129.82,429.31 L129.28,429.21 L128.9,429.16 L128.7,429.16Z" fill="url(#hg)" stroke="#008a94" stroke-width="0.5" stroke-linejoin="round"/>
<path d="M124.67,447.52 L124.66,448.27 L124.84,449.06 L125.19,449.88 L125.72,450.7 L126.4,451.54 L127.23,452.37 L128.19,453.19 L129.27,453.99 L130.44,454.77 L131.68,455.51 L132.97,456.22 L134.3,456.88 L135.62,457.48 L136.93,458.03 L138.19,458.52 L139.39,458.94 L140.5,459.31 L141.5,459.61 L142.38,459.84 L143.12,460.01 L143.7,460.13 L144.11,460.19 L144.35,460.2 L144.47,459.88 L144.67,458.95 L144.85,457.93 L144.77,457.16 L144.52,456.36 L144.1,455.54 L143.51,454.71 L142.76,453.87 L141.87,453.04 L140.86,452.23 L139.74,451.44 L138.54,450.67 L137.27,449.94 L135.96,449.26 L134.63,448.62 L133.31,448.04 L132.02,447.52 L130.78,447.05 L129.62,446.66 L128.55,446.32 L127.6,446.05 L126.78,445.84 L126.11,445.69 L125.6,445.6 L125.26,445.56 L125.09,445.58Z" fill="url(#hg)" stroke="#008a94" stroke-width="0.5" stroke-linejoin="round"/>
<path d="M121.1,463.77 L121.06,464.53 L121.2,465.31 L121.52,466.12 L122.01,466.94 L122.66,467.77 L123.46,468.61 L124.39,469.43 L125.45,470.24 L126.6,471.02 L127.83,471.78 L129.12,472.49 L130.43,473.15 L131.76,473.77 L133.07,474.33 L134.69,466.93 L133.42,466.21 L132.1,465.54 L130.77,464.91 L129.46,464.34 L128.17,463.83 L126.95,463.38 L125.8,462.99 L124.76,462.67 L123.83,462.41 L123.04,462.21 L122.4,462.08 L121.92,462 L121.62,461.97 L121.49,461.99Z" fill="url(#hg)" stroke="#008a94" stroke-width="0.5" stroke-linejoin="round"/>
<path d="M142,409 C145,403 151,401.5 155,403 C159,404.5 162.5,409 161.7,412 L157,416.5 C156.5,411 152,408 147,411 Z" fill="#00f4f4" stroke="#008a94" stroke-width="0.5"/>
<path d="M102.08,465.59 L111.86,464.7 L115.54,465.32 L115.43,465.95 L123,463.3 L116.67,458.37 L116.57,459.01 L112.14,458.3 L101.52,459.21Z" fill="#00f4f4" stroke="#008a94" stroke-width="0.6" stroke-linejoin="round"/>
<ellipse cx="128.3" cy="471.5" rx="6.4" ry="5.2" transform="rotate(-25 128.3 471.5)" fill="none" stroke="#008a94" stroke-width="3.3"/>
<ellipse cx="128.3" cy="471.5" rx="6.4" ry="5.2" transform="rotate(-25 128.3 471.5)" fill="none" stroke="#00f4f4" stroke-width="2.6"/>
<ellipse cx="129.5" cy="472.5" rx="3.6" ry="2.8" transform="rotate(-25 129.5 472.5)" fill="none" stroke="#008a94" stroke-width="1.6"/>
<ellipse cx="129.5" cy="472.5" rx="3.6" ry="2.8" transform="rotate(-25 129.5 472.5)" fill="none" stroke="#19dde2" stroke-width="0.9"/>
<path d="M56.3,478.9 C57.38,479.12 60.85,479.33 62.8,480.2 C64.75,481.07 66.7,482.58 68,484.1 C69.3,485.62 69.08,488.22 70.6,489.3 C72.12,490.38 75.37,490.82 77.1,490.6 C78.83,490.38 79.7,488.87 81,488 C82.3,487.13 84.25,485.83 84.9,485.4" fill="none" stroke="#0a9aa2" stroke-width="1.5" stroke-linecap="round" stroke-linejoin="round"/>
<path d="M56.3,478.9 C57.38,479.12 60.85,479.33 62.8,480.2 C64.75,481.07 66.7,482.58 68,484.1 C69.3,485.62 69.08,488.22 70.6,489.3 C72.12,490.38 75.37,490.82 77.1,490.6 C78.83,490.38 79.7,488.87 81,488 C82.3,487.13 84.25,485.83 84.9,485.4" fill="none" stroke="#19dde2" stroke-width="1" stroke-linecap="round" stroke-linejoin="round"/>
<path d="M85,481.5 C86.5,481.5 91.42,480.85 94,481.5 C96.58,482.15 98.77,485.18 100.5,485.4 C102.23,485.62 103.15,483.53 104.4,482.8 C105.65,482.07 107.4,481.3 108,481" fill="none" stroke="#0a9aa2" stroke-width="1.5" stroke-linecap="round" stroke-linejoin="round"/>
<path d="M85,481.5 C86.5,481.5 91.42,480.85 94,481.5 C96.58,482.15 98.77,485.18 100.5,485.4 C102.23,485.62 103.15,483.53 104.4,482.8 C105.65,482.07 107.4,481.3 108,481" fill="none" stroke="#19dde2" stroke-width="1" stroke-linecap="round" stroke-linejoin="round"/>
<path d="M79.7,482.8 C80.75,483.5 83.83,485.48 86,487 C88.17,488.52 91.58,491.08 92.7,491.9" fill="none" stroke="#007078" stroke-width="4" stroke-linecap="butt" stroke-linejoin="round"/>
<path d="M79.7,482.8 C80.75,483.5 83.83,485.48 86,487 C88.17,488.52 91.58,491.08 92.7,491.9" fill="none" stroke="#0a9aa2" stroke-width="3" stroke-linecap="butt" stroke-linejoin="round"/>
<path d="M94,508.8 C92.7,508.37 88.58,506.42 86.2,506.2 C83.82,505.98 81.1,506.2 79.7,507.5 C78.3,508.8 78.02,512.25 77.8,514 C77.58,515.75 78.62,517.13 78.4,518 C78.18,518.87 76.82,519 76.5,519.2" fill="none" stroke="#0a9aa2" stroke-width="1.5" stroke-linecap="round" stroke-linejoin="round"/>
<path d="M94,508.8 C92.7,508.37 88.58,506.42 86.2,506.2 C83.82,505.98 81.1,506.2 79.7,507.5 C78.3,508.8 78.02,512.25 77.8,514 C77.58,515.75 78.62,517.13 78.4,518 C78.18,518.87 76.82,519 76.5,519.2" fill="none" stroke="#19dde2" stroke-width="1" stroke-linecap="round" stroke-linejoin="round"/>
<path d="M78.4,518 C79.48,518.63 82.95,521.38 84.9,521.8 C86.85,522.22 88.58,520.28 90.1,520.5 C91.62,520.72 92.27,522.45 94,523.1 C95.73,523.75 99.2,523.75 100.5,524.4 C101.8,525.05 102.23,526.13 101.8,527 C101.37,527.87 99.2,528.73 97.9,529.6 C96.6,530.47 95.08,531.12 94,532.2 C92.92,533.28 91.62,534.8 91.4,536.1 C91.18,537.4 91.62,539.13 92.7,540 C93.78,540.87 95.95,541.3 97.9,541.3 C99.85,541.3 102.45,540.87 104.4,540 C106.35,539.13 108.3,537.6 109.6,536.1 C110.9,534.6 111.98,532.73 112.2,531 C112.42,529.27 111.55,527.02 110.9,525.7 C110.25,524.38 108.73,523.53 108.3,523.1" fill="none" stroke="#0a9aa2" stroke-width="1.5" stroke-linecap="round" stroke-linejoin="round"/>
<path d="M78.4,518 C79.48,518.63 82.95,521.38 84.9,521.8 C86.85,522.22 88.58,520.28 90.1,520.5 C91.62,520.72 92.27,522.45 94,523.1 C95.73,523.75 99.2,523.75 100.5,524.4 C101.8,525.05 102.23,526.13 101.8,527 C101.37,527.87 99.2,528.73 97.9,529.6 C96.6,530.47 95.08,531.12 94,532.2 C92.92,533.28 91.62,534.8 91.4,536.1 C91.18,537.4 91.62,539.13 92.7,540 C93.78,540.87 95.95,541.3 97.9,541.3 C99.85,541.3 102.45,540.87 104.4,540 C106.35,539.13 108.3,537.6 109.6,536.1 C110.9,534.6 111.98,532.73 112.2,531 C112.42,529.27 111.55,527.02 110.9,525.7 C110.25,524.38 108.73,523.53 108.3,523.1" fill="none" stroke="#19dde2" stroke-width="1" stroke-linecap="round" stroke-linejoin="round"/>
<path d="M97.9,529.6 C98.25,530.17 98.98,532.6 100,533 C101.02,533.4 103.33,532.17 104,532" fill="none" stroke="#0a9aa2" stroke-width="1.5" stroke-linecap="round" stroke-linejoin="round"/>
<path d="M97.9,529.6 C98.25,530.17 98.98,532.6 100,533 C101.02,533.4 103.33,532.17 104,532" fill="none" stroke="#19dde2" stroke-width="1" stroke-linecap="round" stroke-linejoin="round"/>
<path d="M113.5,501 C113.83,501.67 115.07,503.05 115.5,505 C115.93,506.95 116.22,510.55 116.1,512.7 C115.98,514.85 115.02,517.03 114.8,517.9" fill="none" stroke="#0a9aa2" stroke-width="1.5" stroke-linecap="round" stroke-linejoin="round"/>
<path d="M113.5,501 C113.83,501.67 115.07,503.05 115.5,505 C115.93,506.95 116.22,510.55 116.1,512.7 C115.98,514.85 115.02,517.03 114.8,517.9" fill="none" stroke="#19dde2" stroke-width="1" stroke-linecap="round" stroke-linejoin="round"/>
<path d="M88.14,490.52 L89.73,500.45 L89.92,502.15 L89.1,502.24 L94,509 L97.3,501.33 L96.48,501.42 L96.27,499.55 L94.66,489.48Z" fill="#00f4f4" stroke="#008a94" stroke-width="0.6" stroke-linejoin="round"/>
<path d="M93.29,495.28 L102.6,498.71 L105.55,500.19 L105,501.28 L114,500.5 L109.23,492.83 L108.68,493.93 L105.4,492.29 L95.71,488.72Z" fill="#00f4f4" stroke="#008a94" stroke-width="0.6" stroke-linejoin="round"/>
<path d="M94,497 C94.67,497.83 96.7,500.25 98,502 C99.3,503.75 101.17,506.58 101.8,507.5" fill="none" stroke="#007a82" stroke-width="4" stroke-linecap="butt" stroke-linejoin="round"/>
<path d="M94,497 C94.67,497.83 96.7,500.25 98,502 C99.3,503.75 101.17,506.58 101.8,507.5" fill="none" stroke="#0fb4bc" stroke-width="3" stroke-linecap="butt" stroke-linejoin="round"/>
<circle cx="103.1" cy="516.4" r="4.2" fill="#7a80aa"/><circle cx="102" cy="515.3" r="1.8" fill="#a4a8cc"/>
<line x1="81" y1="402.5" x2="82.5" y2="401.85" stroke="#17177b" stroke-width="2.3" stroke-linecap="round"/>
<line x1="82.5" y1="401.85" x2="84" y2="401.2" stroke="#17177b" stroke-width="2.3" stroke-linecap="round"/>
<line x1="84" y1="401.2" x2="85.25" y2="401.6" stroke="#17177b" stroke-width="2.3" stroke-linecap="round"/>
<line x1="85.25" y1="401.6" x2="86.5" y2="402" stroke="#17177b" stroke-width="2.3" stroke-linecap="round"/>
<line x1="86.5" y1="402" x2="87.55" y2="403.25" stroke="#17177b" stroke-width="2.3" stroke-linecap="round"/>
<line x1="87.55" y1="403.25" x2="88.6" y2="404.5" stroke="#761e76" stroke-width="2.3" stroke-linecap="round"/>
<line x1="88.6" y1="404.5" x2="87.55" y2="406" stroke="#761e76" stroke-width="2.3" stroke-linecap="round"/>
<line x1="87.55" y1="406" x2="86.5" y2="407.5" stroke="#761e76" stroke-width="2.3" stroke-linecap="round"/>
<line x1="86.5" y1="407.5" x2="84.75" y2="407.95" stroke="#761e76" stroke-width="2.3" stroke-linecap="round"/>
<line x1="84.75" y1="407.95" x2="83" y2="408.4" stroke="#761e76" stroke-width="2.3" stroke-linecap="round"/>
<line x1="83" y1="408.4" x2="81.9" y2="407.45" stroke="#761e76" stroke-width="2.3" stroke-linecap="round"/>
<line x1="81.9" y1="407.45" x2="80.8" y2="406.5" stroke="#761e76" stroke-width="2.3" stroke-linecap="round"/>
<line x1="80.8" y1="406.5" x2="80.9" y2="404.5" stroke="#761e76" stroke-width="2.3" stroke-linecap="round"/>
<line x1="80.9" y1="404.5" x2="81" y2="402.5" stroke="#17177b" stroke-width="2.3" stroke-linecap="round"/>
<line x1="81" y1="402.5" x2="82.5" y2="401.85" stroke="#2a2ae0" stroke-width="1.3" stroke-linecap="round"/>
<line x1="82.5" y1="401.85" x2="84" y2="401.2" stroke="#2a2ae0" stroke-width="1.3" stroke-linecap="round"/>
<line x1="84" y1="401.2" x2="85.25" y2="401.6" stroke="#2a2ae0" stroke-width="1.3" stroke-linecap="round"/>
<line x1="85.25" y1="401.6" x2="86.5" y2="402" stroke="#2a2ae0" stroke-width="1.3" stroke-linecap="round"/>
<line x1="86.5" y1="402" x2="87.55" y2="403.25" stroke="#2a2ae0" stroke-width="1.3" stroke-linecap="round"/>
<line x1="87.55" y1="403.25" x2="88.6" y2="404.5" stroke="#d838d8" stroke-width="1.3" stroke-linecap="round"/>
<line x1="88.6" y1="404.5" x2="87.55" y2="406" stroke="#d838d8" stroke-width="1.3" stroke-linecap="round"/>
<line x1="87.55" y1="406" x2="86.5" y2="407.5" stroke="#d838d8" stroke-width="1.3" stroke-linecap="round"/>
<line x1="86.5" y1="407.5" x2="84.75" y2="407.95" stroke="#d838d8" stroke-width="1.3" stroke-linecap="round"/>
<line x1="84.75" y1="407.95" x2="83" y2="408.4" stroke="#d838d8" stroke-width="1.3" stroke-linecap="round"/>
<line x1="83" y1="408.4" x2="81.9" y2="407.45" stroke="#d838d8" stroke-width="1.3" stroke-linecap="round"/>
<line x1="81.9" y1="407.45" x2="80.8" y2="406.5" stroke="#d838d8" stroke-width="1.3" stroke-linecap="round"/>
<line x1="80.8" y1="406.5" x2="80.9" y2="404.5" stroke="#d838d8" stroke-width="1.3" stroke-linecap="round"/>
<line x1="80.9" y1="404.5" x2="81" y2="402.5" stroke="#2a2ae0" stroke-width="1.3" stroke-linecap="round"/>
<line x1="82.5" y1="405.5" x2="84.25" y2="405.25" stroke="#761e76" stroke-width="2.3" stroke-linecap="round"/>
<line x1="84.25" y1="405.25" x2="86" y2="405" stroke="#17177b" stroke-width="2.3" stroke-linecap="round"/>
<line x1="82.5" y1="405.5" x2="84.25" y2="405.25" stroke="#d838d8" stroke-width="1.3" stroke-linecap="round"/>
<line x1="84.25" y1="405.25" x2="86" y2="405" stroke="#2a2ae0" stroke-width="1.3" stroke-linecap="round"/>
<line x1="88.6" y1="406.1" x2="90.6" y2="406.6" stroke="#761e76" stroke-width="2.45" stroke-linecap="round"/>
<line x1="90.6" y1="406.6" x2="92.6" y2="407.1" stroke="#761e76" stroke-width="2.45" stroke-linecap="round"/>
<line x1="92.6" y1="407.1" x2="93.85" y2="408.6" stroke="#761e76" stroke-width="2.45" stroke-linecap="round"/>
<line x1="93.85" y1="408.6" x2="95.1" y2="410.1" stroke="#761e76" stroke-width="2.45" stroke-linecap="round"/>
<line x1="95.1" y1="410.1" x2="95.9" y2="412.1" stroke="#761e76" stroke-width="2.45" stroke-linecap="round"/>
<line x1="95.9" y1="412.1" x2="96.7" y2="414.1" stroke="#761e76" stroke-width="2.45" stroke-linecap="round"/>
<line x1="96.7" y1="414.1" x2="97.45" y2="416.15" stroke="#761e76" stroke-width="2.45" stroke-linecap="round"/>
<line x1="97.45" y1="416.15" x2="98.2" y2="418.2" stroke="#761e76" stroke-width="2.45" stroke-linecap="round"/>
<line x1="98.2" y1="418.2" x2="99.45" y2="420.45" stroke="#761e76" stroke-width="2.45" stroke-linecap="round"/>
<line x1="99.45" y1="420.45" x2="100.7" y2="422.7" stroke="#844b08" stroke-width="2.45" stroke-linecap="round"/>
<line x1="88.6" y1="406.1" x2="90.6" y2="406.6" stroke="#d838d8" stroke-width="1.45" stroke-linecap="round"/>
<line x1="90.6" y1="406.6" x2="92.6" y2="407.1" stroke="#d838d8" stroke-width="1.45" stroke-linecap="round"/>
<line x1="92.6" y1="407.1" x2="93.85" y2="408.6" stroke="#d838d8" stroke-width="1.45" stroke-linecap="round"/>
<line x1="93.85" y1="408.6" x2="95.1" y2="410.1" stroke="#d838d8" stroke-width="1.45" stroke-linecap="round"/>
<line x1="95.1" y1="410.1" x2="95.9" y2="412.1" stroke="#d838d8" stroke-width="1.45" stroke-linecap="round"/>
<line x1="95.9" y1="412.1" x2="96.7" y2="414.1" stroke="#d838d8" stroke-width="1.45" stroke-linecap="round"/>
<line x1="96.7" y1="414.1" x2="97.45" y2="416.15" stroke="#d838d8" stroke-width="1.45" stroke-linecap="round"/>
<line x1="97.45" y1="416.15" x2="98.2" y2="418.2" stroke="#d838d8" stroke-width="1.45" stroke-linecap="round"/>
<line x1="98.2" y1="418.2" x2="99.45" y2="420.45" stroke="#d838d8" stroke-width="1.45" stroke-linecap="round"/>
<line x1="99.45" y1="420.45" x2="100.7" y2="422.7" stroke="#f08a10" stroke-width="1.45" stroke-linecap="round"/>
<line x1="92.6" y1="407.1" x2="92.85" y2="405.1" stroke="#761e76" stroke-width="2.3" stroke-linecap="round"/>
<line x1="92.85" y1="405.1" x2="93.1" y2="403.1" stroke="#7f1a1a" stroke-width="2.3" stroke-linecap="round"/>
<line x1="92.6" y1="407.1" x2="92.85" y2="405.1" stroke="#d838d8" stroke-width="1.3" stroke-linecap="round"/>
<line x1="92.85" y1="405.1" x2="93.1" y2="403.1" stroke="#e83030" stroke-width="1.3" stroke-linecap="round"/>
<line x1="96" y1="410.5" x2="97.6" y2="409.3" stroke="#761e76" stroke-width="2.4" stroke-linecap="round"/>
<line x1="97.6" y1="409.3" x2="99.2" y2="408.1" stroke="#7f1a1a" stroke-width="2.4" stroke-linecap="round"/>
<line x1="96" y1="410.5" x2="97.6" y2="409.3" stroke="#d838d8" stroke-width="1.4" stroke-linecap="round"/>
<line x1="97.6" y1="409.3" x2="99.2" y2="408.1" stroke="#e83030" stroke-width="1.4" stroke-linecap="round"/>
<line x1="97.7" y1="423.2" x2="99.2" y2="422.95" stroke="#7f1a1a" stroke-width="2.3" stroke-linecap="round"/>
<line x1="99.2" y1="422.95" x2="100.7" y2="422.7" stroke="#844b08" stroke-width="2.3" stroke-linecap="round"/>
<line x1="100.7" y1="422.7" x2="101.45" y2="422.7" stroke="#844b08" stroke-width="2.3" stroke-linecap="round"/>
<line x1="101.45" y1="422.7" x2="102.2" y2="422.7" stroke="#7f1a1a" stroke-width="2.3" stroke-linecap="round"/>
<line x1="97.7" y1="423.2" x2="99.2" y2="422.95" stroke="#e83030" stroke-width="1.3" stroke-linecap="round"/>
<line x1="99.2" y1="422.95" x2="100.7" y2="422.7" stroke="#f08a10" stroke-width="1.3" stroke-linecap="round"/>
<line x1="100.7" y1="422.7" x2="101.45" y2="422.7" stroke="#f08a10" stroke-width="1.3" stroke-linecap="round"/>
<line x1="101.45" y1="422.7" x2="102.2" y2="422.7" stroke="#e83030" stroke-width="1.3" stroke-linecap="round"/>
<line x1="100.7" y1="422.7" x2="101.2" y2="424.95" stroke="#844b08" stroke-width="2.3" stroke-linecap="round"/>
<line x1="101.2" y1="424.95" x2="101.7" y2="427.2" stroke="#7f1a1a" stroke-width="2.3" stroke-linecap="round"/>
<line x1="101.7" y1="427.2" x2="102.95" y2="427.7" stroke="#7f1a1a" stroke-width="2.3" stroke-linecap="round"/>
<line x1="102.95" y1="427.7" x2="104.2" y2="428.2" stroke="#844b08" stroke-width="2.3" stroke-linecap="round"/>
<line x1="104.2" y1="428.2" x2="105.2" y2="426.7" stroke="#844b08" stroke-width="2.3" stroke-linecap="round"/>
<line x1="105.2" y1="426.7" x2="106.2" y2="425.2" stroke="#7f1a1a" stroke-width="2.3" stroke-linecap="round"/>
<line x1="100.7" y1="422.7" x2="101.2" y2="424.95" stroke="#f08a10" stroke-width="1.3" stroke-linecap="round"/>
<line x1="101.2" y1="424.95" x2="101.7" y2="427.2" stroke="#e83030" stroke-width="1.3" stroke-linecap="round"/>
<line x1="101.7" y1="427.2" x2="102.95" y2="427.7" stroke="#e83030" stroke-width="1.3" stroke-linecap="round"/>
<line x1="102.95" y1="427.7" x2="104.2" y2="428.2" stroke="#f08a10" stroke-width="1.3" stroke-linecap="round"/>
<line x1="104.2" y1="428.2" x2="105.2" y2="426.7" stroke="#f08a10" stroke-width="1.3" stroke-linecap="round"/>
<line x1="105.2" y1="426.7" x2="106.2" y2="425.2" stroke="#e83030" stroke-width="1.3" stroke-linecap="round"/>
<line x1="104.2" y1="428.2" x2="104.7" y2="430.25" stroke="#844b08" stroke-width="2.45" stroke-linecap="round"/>
<line x1="104.7" y1="430.25" x2="105.2" y2="432.3" stroke="#761e76" stroke-width="2.45" stroke-linecap="round"/>
<line x1="105.2" y1="432.3" x2="106.2" y2="433.8" stroke="#761e76" stroke-width="2.45" stroke-linecap="round"/>
<line x1="106.2" y1="433.8" x2="107.2" y2="435.3" stroke="#761e76" stroke-width="2.45" stroke-linecap="round"/>
<line x1="107.2" y1="435.3" x2="107.7" y2="437.3" stroke="#761e76" stroke-width="2.45" stroke-linecap="round"/>
<line x1="107.7" y1="437.3" x2="108.2" y2="439.3" stroke="#761e76" stroke-width="2.45" stroke-linecap="round"/>
<line x1="108.2" y1="439.3" x2="106.95" y2="440.3" stroke="#761e76" stroke-width="2.45" stroke-linecap="round"/>
<line x1="106.95" y1="440.3" x2="105.7" y2="441.3" stroke="#761e76" stroke-width="2.45" stroke-linecap="round"/>
<line x1="105.7" y1="441.3" x2="106.45" y2="443.35" stroke="#761e76" stroke-width="2.45" stroke-linecap="round"/>
<line x1="106.45" y1="443.35" x2="107.2" y2="445.4" stroke="#761e76" stroke-width="2.45" stroke-linecap="round"/>
<line x1="107.2" y1="445.4" x2="106.85" y2="447.2" stroke="#761e76" stroke-width="2.45" stroke-linecap="round"/>
<line x1="106.85" y1="447.2" x2="106.5" y2="449" stroke="#7f1a1a" stroke-width="2.45" stroke-linecap="round"/>
<line x1="104.2" y1="428.2" x2="104.7" y2="430.25" stroke="#f08a10" stroke-width="1.45" stroke-linecap="round"/>
<line x1="104.7" y1="430.25" x2="105.2" y2="432.3" stroke="#d838d8" stroke-width="1.45" stroke-linecap="round"/>
<line x1="105.2" y1="432.3" x2="106.2" y2="433.8" stroke="#d838d8" stroke-width="1.45" stroke-linecap="round"/>
<line x1="106.2" y1="433.8" x2="107.2" y2="435.3" stroke="#d838d8" stroke-width="1.45" stroke-linecap="round"/>
<line x1="107.2" y1="435.3" x2="107.7" y2="437.3" stroke="#d838d8" stroke-width="1.45" stroke-linecap="round"/>
<line x1="107.7" y1="437.3" x2="108.2" y2="439.3" stroke="#d838d8" stroke-width="1.45" stroke-linecap="round"/>
<line x1="108.2" y1="439.3" x2="106.95" y2="440.3" stroke="#d838d8" stroke-width="1.45" stroke-linecap="round"/>
<line x1="106.95" y1="440.3" x2="105.7" y2="441.3" stroke="#d838d8" stroke-width="1.45" stroke-linecap="round"/>
<line x1="105.7" y1="441.3" x2="106.45" y2="443.35" stroke="#d838d8" stroke-width="1.45" stroke-linecap="round"/>
<line x1="106.45" y1="443.35" x2="107.2" y2="445.4" stroke="#d838d8" stroke-width="1.45" stroke-linecap="round"/>
<line x1="107.2" y1="445.4" x2="106.85" y2="447.2" stroke="#d838d8" stroke-width="1.45" stroke-linecap="round"/>
<line x1="106.85" y1="447.2" x2="106.5" y2="449" stroke="#e83030" stroke-width="1.45" stroke-linecap="round"/>
<line x1="115.1" y1="451" x2="115.1" y2="454.2" stroke="#761e76" stroke-width="2.45" stroke-linecap="round"/>
<line x1="115.1" y1="454.2" x2="115.1" y2="457.4" stroke="#761e76" stroke-width="2.45" stroke-linecap="round"/>
<line x1="115.1" y1="451" x2="115.1" y2="454.2" stroke="#d838d8" stroke-width="1.45" stroke-linecap="round"/>
<line x1="115.1" y1="454.2" x2="115.1" y2="457.4" stroke="#d838d8" stroke-width="1.45" stroke-linecap="round"/>
<path d="M57,456.8 L60.8,454.9 L62.7,449.2 L65.5,447.3 L71.2,446.9 L74,448.3 L77.8,450.2 L83.5,453 L91.1,457.8 L99.7,463.9" fill="none" stroke="#3ad83a" stroke-width="2" stroke-linecap="round" stroke-linejoin="round"/>
<path d="M77.8,450.2 L84.5,456.8 L92.1,456.8 L96.8,458.2" fill="none" stroke="#3ad83a" stroke-width="1.9" stroke-linecap="round" stroke-linejoin="round"/>
<path d="M76.9,449.2 L79,450.5" fill="none" stroke="#2020e0" stroke-width="1.4" stroke-linecap="round" stroke-linejoin="round"/>
<path d="M84.5,456.8 L86.5,456.8" fill="none" stroke="#2020e0" stroke-width="1.4" stroke-linecap="round" stroke-linejoin="round"/>
<path d="M96.8,458.2 L99.5,459" fill="none" stroke="#e03030" stroke-width="1.2" stroke-linecap="round" stroke-linejoin="round"/>
<path d="M97.5,462.4 L99.7,463.9" fill="none" stroke="#e03030" stroke-width="1.2" stroke-linecap="round" stroke-linejoin="round"/>
<path d="M54.6,463 L57.9,462.5 L63.1,463" fill="none" stroke="#3ad83a" stroke-width="1.4" stroke-linecap="round" stroke-linejoin="round"/>
<path d="M57.9,462.5 L58.4,470.1" fill="none" stroke="#3ad83a" stroke-width="1.4" stroke-linecap="round" stroke-linejoin="round"/>
<path d="M57.9,461 L58,464.5" fill="none" stroke="#2020e0" stroke-width="1.4" stroke-linecap="round" stroke-linejoin="round"/>
<path d="M57,456.8 L57.9,461" fill="none" stroke="#e0b040" stroke-width="1.3" stroke-linecap="round" stroke-linejoin="round"/>
<rect x="38.1" y="395.4" width="112.2" height="84.8" fill="none" stroke="#111" stroke-width="0.9"/>
<rect x="216.6" y="360.6" width="181" height="160.2" fill="none" stroke="#111" stroke-width="0.9"/>
<line x1="150.3" y1="395.4" x2="216.6" y2="360.6" stroke="#111" stroke-width="0.9"/>
<line x1="150.3" y1="480.2" x2="216.6" y2="520.8" stroke="#111" stroke-width="0.9"/>
<text x="41" y="404.9" font-size="8" font-weight="bold" text-anchor="start" fill="#f03cf0" font-family='"Liberation Sans", sans-serif'>NAD<tspan font-size="4.5" dy="-3.2">+</tspan></text>
<text x="40.4" y="476.6" font-size="8" font-weight="bold" text-anchor="start" fill="#3cb043" font-family='"Liberation Sans", sans-serif'>8a</text>
<text x="35.4" y="506.7" font-size="9" font-weight="bold" text-anchor="start" fill="#222" font-family='"Liberation Sans", sans-serif' textLength="24.3" lengthAdjust="spacingAndGlyphs">SIRT6</text>
<line x1="275.4" y1="388.6" x2="277.15" y2="386.9" stroke="#14147e" stroke-width="3" stroke-linecap="round"/>
<line x1="277.15" y1="386.9" x2="278.9" y2="385.2" stroke="#7c1f7c" stroke-width="3" stroke-linecap="round"/>
<line x1="278.9" y1="385.2" x2="281.2" y2="383.2" stroke="#7c1f7c" stroke-width="3" stroke-linecap="round"/>
<line x1="281.2" y1="383.2" x2="283.5" y2="381.2" stroke="#14147e" stroke-width="3" stroke-linecap="round"/>
<line x1="283.5" y1="381.2" x2="285.25" y2="379.8" stroke="#14147e" stroke-width="3" stroke-linecap="round"/>
<line x1="285.25" y1="379.8" x2="287" y2="378.4" stroke="#7c1f7c" stroke-width="3" stroke-linecap="round"/>
<line x1="287" y1="378.4" x2="286.7" y2="376.7" stroke="#7c1f7c" stroke-width="3" stroke-linecap="round"/>
<line x1="286.7" y1="376.7" x2="286.4" y2="375" stroke="#14147e" stroke-width="3" stroke-linecap="round"/>
<line x1="286.4" y1="375" x2="284.65" y2="375.3" stroke="#14147e" stroke-width="3" stroke-linecap="round"/>
<line x1="284.65" y1="375.3" x2="282.9" y2="375.6" stroke="#7c1f7c" stroke-width="3" stroke-linecap="round"/>
<line x1="282.9" y1="375.6" x2="280.65" y2="377" stroke="#7c1f7c" stroke-width="3" stroke-linecap="round"/>
<line x1="280.65" y1="377" x2="278.4" y2="378.4" stroke="#14147e" stroke-width="3" stroke-linecap="round"/>
<line x1="278.4" y1="378.4" x2="276.4" y2="380.3" stroke="#14147e" stroke-width="3" stroke-linecap="round"/>
<line x1="276.4" y1="380.3" x2="274.4" y2="382.2" stroke="#7c1f7c" stroke-width="3" stroke-linecap="round"/>
<line x1="274.4" y1="382.2" x2="272.9" y2="383.65" stroke="#7c1f7c" stroke-width="3" stroke-linecap="round"/>
<line x1="272.9" y1="383.65" x2="271.4" y2="385.1" stroke="#7c1f7c" stroke-width="3" stroke-linecap="round"/>
<line x1="271.4" y1="385.1" x2="273.4" y2="386.85" stroke="#7c1f7c" stroke-width="3" stroke-linecap="round"/>
<line x1="273.4" y1="386.85" x2="275.4" y2="388.6" stroke="#14147e" stroke-width="3" stroke-linecap="round"/>
<line x1="275.4" y1="388.6" x2="277.15" y2="386.9" stroke="#2626e6" stroke-width="2" stroke-linecap="round"/>
<line x1="277.15" y1="386.9" x2="278.9" y2="385.2" stroke="#e23ae2" stroke-width="2" stroke-linecap="round"/>
<line x1="278.9" y1="385.2" x2="281.2" y2="383.2" stroke="#e23ae2" stroke-width="2" stroke-linecap="round"/>
<line x1="281.2" y1="383.2" x2="283.5" y2="381.2" stroke="#2626e6" stroke-width="2" stroke-linecap="round"/>
<line x1="283.5" y1="381.2" x2="285.25" y2="379.8" stroke="#2626e6" stroke-width="2" stroke-linecap="round"/>
<line x1="285.25" y1="379.8" x2="287" y2="378.4" stroke="#e23ae2" stroke-width="2" stroke-linecap="round"/>
<line x1="287" y1="378.4" x2="286.7" y2="376.7" stroke="#e23ae2" stroke-width="2" stroke-linecap="round"/>
<line x1="286.7" y1="376.7" x2="286.4" y2="375" stroke="#2626e6" stroke-width="2" stroke-linecap="round"/>
<line x1="286.4" y1="375" x2="284.65" y2="375.3" stroke="#2626e6" stroke-width="2" stroke-linecap="round"/>
<line x1="284.65" y1="375.3" x2="282.9" y2="375.6" stroke="#e23ae2" stroke-width="2" stroke-linecap="round"/>
<line x1="282.9" y1="375.6" x2="280.65" y2="377" stroke="#e23ae2" stroke-width="2" stroke-linecap="round"/>
<line x1="280.65" y1="377" x2="278.4" y2="378.4" stroke="#2626e6" stroke-width="2" stroke-linecap="round"/>
<line x1="278.4" y1="378.4" x2="276.4" y2="380.3" stroke="#2626e6" stroke-width="2" stroke-linecap="round"/>
<line x1="276.4" y1="380.3" x2="274.4" y2="382.2" stroke="#e23ae2" stroke-width="2" stroke-linecap="round"/>
<line x1="274.4" y1="382.2" x2="272.9" y2="383.65" stroke="#e23ae2" stroke-width="2" stroke-linecap="round"/>
<line x1="272.9" y1="383.65" x2="271.4" y2="385.1" stroke="#e23ae2" stroke-width="2" stroke-linecap="round"/>
<line x1="271.4" y1="385.1" x2="273.4" y2="386.85" stroke="#e23ae2" stroke-width="2" stroke-linecap="round"/>
<line x1="273.4" y1="386.85" x2="275.4" y2="388.6" stroke="#2626e6" stroke-width="2" stroke-linecap="round"/>
<line x1="271.4" y1="385.1" x2="269.9" y2="386.1" stroke="#7c1f7c" stroke-width="3" stroke-linecap="round"/>
<line x1="269.9" y1="386.1" x2="268.4" y2="387.1" stroke="#14147e" stroke-width="3" stroke-linecap="round"/>
<line x1="271.4" y1="385.1" x2="269.9" y2="386.1" stroke="#e23ae2" stroke-width="2" stroke-linecap="round"/>
<line x1="269.9" y1="386.1" x2="268.4" y2="387.1" stroke="#2626e6" stroke-width="2" stroke-linecap="round"/>
<line x1="278.4" y1="380.4" x2="280.95" y2="379.2" stroke="#7c1f7c" stroke-width="2.6" stroke-linecap="round"/>
<line x1="280.95" y1="379.2" x2="283.5" y2="378" stroke="#7c1f7c" stroke-width="2.6" stroke-linecap="round"/>
<line x1="278.4" y1="380.4" x2="280.95" y2="379.2" stroke="#e23ae2" stroke-width="1.6" stroke-linecap="round"/>
<line x1="280.95" y1="379.2" x2="283.5" y2="378" stroke="#e23ae2" stroke-width="1.6" stroke-linecap="round"/>
<line x1="287" y1="378.4" x2="289.1" y2="378.85" stroke="#14147e" stroke-width="3.5" stroke-linecap="round"/>
<line x1="289.1" y1="378.85" x2="291.2" y2="379.3" stroke="#7c1f7c" stroke-width="3.5" stroke-linecap="round"/>
<line x1="287" y1="378.4" x2="289.1" y2="378.85" stroke="#2626e6" stroke-width="2.5" stroke-linecap="round"/>
<line x1="289.1" y1="378.85" x2="291.2" y2="379.3" stroke="#e23ae2" stroke-width="2.5" stroke-linecap="round"/>
<line x1="291.2" y1="379.3" x2="293.55" y2="381.9" stroke="#7c1f7c" stroke-width="3.5" stroke-linecap="round"/>
<line x1="293.55" y1="381.9" x2="295.9" y2="384.5" stroke="#7c1f7c" stroke-width="3.5" stroke-linecap="round"/>
<line x1="295.9" y1="384.5" x2="297.35" y2="385.1" stroke="#7c1f7c" stroke-width="3.5" stroke-linecap="round"/>
<line x1="297.35" y1="385.1" x2="298.8" y2="385.7" stroke="#821a1a" stroke-width="3.5" stroke-linecap="round"/>
<line x1="298.8" y1="385.7" x2="300.55" y2="384.25" stroke="#821a1a" stroke-width="3.5" stroke-linecap="round"/>
<line x1="300.55" y1="384.25" x2="302.3" y2="382.8" stroke="#7c1f7c" stroke-width="3.5" stroke-linecap="round"/>
<line x1="302.3" y1="382.8" x2="300.85" y2="380.15" stroke="#7c1f7c" stroke-width="3.5" stroke-linecap="round"/>
<line x1="300.85" y1="380.15" x2="299.4" y2="377.5" stroke="#7c1f7c" stroke-width="3.5" stroke-linecap="round"/>
<line x1="299.4" y1="377.5" x2="295.3" y2="378.4" stroke="#7c1f7c" stroke-width="3.5" stroke-linecap="round"/>
<line x1="295.3" y1="378.4" x2="291.2" y2="379.3" stroke="#7c1f7c" stroke-width="3.5" stroke-linecap="round"/>
<line x1="291.2" y1="379.3" x2="293.55" y2="381.9" stroke="#e23ae2" stroke-width="2.5" stroke-linecap="round"/>
<line x1="293.55" y1="381.9" x2="295.9" y2="384.5" stroke="#e23ae2" stroke-width="2.5" stroke-linecap="round"/>
<line x1="295.9" y1="384.5" x2="297.35" y2="385.1" stroke="#e23ae2" stroke-width="2.5" stroke-linecap="round"/>
<line x1="297.35" y1="385.1" x2="298.8" y2="385.7" stroke="#ee3030" stroke-width="2.5" stroke-linecap="round"/>
<line x1="298.8" y1="385.7" x2="300.55" y2="384.25" stroke="#ee3030" stroke-width="2.5" stroke-linecap="round"/>
<line x1="300.55" y1="384.25" x2="302.3" y2="382.8" stroke="#e23ae2" stroke-width="2.5" stroke-linecap="round"/>
<line x1="302.3" y1="382.8" x2="300.85" y2="380.15" stroke="#e23ae2" stroke-width="2.5" stroke-linecap="round"/>
<line x1="300.85" y1="380.15" x2="299.4" y2="377.5" stroke="#e23ae2" stroke-width="2.5" stroke-linecap="round"/>
<line x1="299.4" y1="377.5" x2="295.3" y2="378.4" stroke="#e23ae2" stroke-width="2.5" stroke-linecap="round"/>
<line x1="295.3" y1="378.4" x2="291.2" y2="379.3" stroke="#e23ae2" stroke-width="2.5" stroke-linecap="round"/>
<line x1="291.2" y1="379.3" x2="290.35" y2="373.75" stroke="#7c1f7c" stroke-width="3.5" stroke-linecap="round"/>
<line x1="290.35" y1="373.75" x2="289.5" y2="368.2" stroke="#821a1a" stroke-width="3.5" stroke-linecap="round"/>
<line x1="291.2" y1="379.3" x2="290.35" y2="373.75" stroke="#e23ae2" stroke-width="2.5" stroke-linecap="round"/>
<line x1="290.35" y1="373.75" x2="289.5" y2="368.2" stroke="#ee3030" stroke-width="2.5" stroke-linecap="round"/>
<line x1="299.4" y1="377.5" x2="302" y2="374.6" stroke="#7c1f7c" stroke-width="3.5" stroke-linecap="round"/>
<line x1="302" y1="374.6" x2="304.6" y2="371.7" stroke="#821a1a" stroke-width="3.5" stroke-linecap="round"/>
<line x1="299.4" y1="377.5" x2="302" y2="374.6" stroke="#e23ae2" stroke-width="2.5" stroke-linecap="round"/>
<line x1="302" y1="374.6" x2="304.6" y2="371.7" stroke="#ee3030" stroke-width="2.5" stroke-linecap="round"/>
<line x1="302.3" y1="382.8" x2="303.75" y2="387.15" stroke="#7c1f7c" stroke-width="3.5" stroke-linecap="round"/>
<line x1="303.75" y1="387.15" x2="305.2" y2="391.5" stroke="#7c1f7c" stroke-width="3.5" stroke-linecap="round"/>
<line x1="305.2" y1="391.5" x2="308.7" y2="391.05" stroke="#7c1f7c" stroke-width="3.5" stroke-linecap="round"/>
<line x1="308.7" y1="391.05" x2="312.2" y2="390.6" stroke="#821a1a" stroke-width="3.5" stroke-linecap="round"/>
<line x1="312.2" y1="390.6" x2="312.8" y2="393.4" stroke="#821a1a" stroke-width="3.5" stroke-linecap="round"/>
<line x1="312.8" y1="393.4" x2="313.4" y2="396.2" stroke="#844b08" stroke-width="3.5" stroke-linecap="round"/>
<line x1="302.3" y1="382.8" x2="303.75" y2="387.15" stroke="#e23ae2" stroke-width="2.5" stroke-linecap="round"/>
<line x1="303.75" y1="387.15" x2="305.2" y2="391.5" stroke="#e23ae2" stroke-width="2.5" stroke-linecap="round"/>
<line x1="305.2" y1="391.5" x2="308.7" y2="391.05" stroke="#e23ae2" stroke-width="2.5" stroke-linecap="round"/>
<line x1="308.7" y1="391.05" x2="312.2" y2="390.6" stroke="#ee3030" stroke-width="2.5" stroke-linecap="round"/>
<line x1="312.2" y1="390.6" x2="312.8" y2="393.4" stroke="#ee3030" stroke-width="2.5" stroke-linecap="round"/>
<line x1="312.8" y1="393.4" x2="313.4" y2="396.2" stroke="#f08a10" stroke-width="2.5" stroke-linecap="round"/>
<line x1="313.4" y1="396.2" x2="316.6" y2="395.05" stroke="#844b08" stroke-width="3.5" stroke-linecap="round"/>
<line x1="316.6" y1="395.05" x2="319.8" y2="393.9" stroke="#821a1a" stroke-width="3.5" stroke-linecap="round"/>
<line x1="313.4" y1="396.2" x2="316.6" y2="395.05" stroke="#f08a10" stroke-width="2.5" stroke-linecap="round"/>
<line x1="316.6" y1="395.05" x2="319.8" y2="393.9" stroke="#ee3030" stroke-width="2.5" stroke-linecap="round"/>
<line x1="313.4" y1="396.2" x2="309.3" y2="397.95" stroke="#844b08" stroke-width="3.5" stroke-linecap="round"/>
<line x1="309.3" y1="397.95" x2="305.2" y2="399.7" stroke="#821a1a" stroke-width="3.5" stroke-linecap="round"/>
<line x1="313.4" y1="396.2" x2="309.3" y2="397.95" stroke="#f08a10" stroke-width="2.5" stroke-linecap="round"/>
<line x1="309.3" y1="397.95" x2="305.2" y2="399.7" stroke="#ee3030" stroke-width="2.5" stroke-linecap="round"/>
<line x1="313.4" y1="396.2" x2="315.75" y2="400.6" stroke="#844b08" stroke-width="3.5" stroke-linecap="round"/>
<line x1="315.75" y1="400.6" x2="318.1" y2="405" stroke="#821a1a" stroke-width="3.5" stroke-linecap="round"/>
<line x1="318.1" y1="405" x2="321.3" y2="405.55" stroke="#821a1a" stroke-width="3.5" stroke-linecap="round"/>
<line x1="321.3" y1="405.55" x2="324.5" y2="406.1" stroke="#844b08" stroke-width="3.5" stroke-linecap="round"/>
<line x1="313.4" y1="396.2" x2="315.75" y2="400.6" stroke="#f08a10" stroke-width="2.5" stroke-linecap="round"/>
<line x1="315.75" y1="400.6" x2="318.1" y2="405" stroke="#ee3030" stroke-width="2.5" stroke-linecap="round"/>
<line x1="318.1" y1="405" x2="321.3" y2="405.55" stroke="#ee3030" stroke-width="2.5" stroke-linecap="round"/>
<line x1="321.3" y1="405.55" x2="324.5" y2="406.1" stroke="#f08a10" stroke-width="2.5" stroke-linecap="round"/>
<line x1="324.5" y1="406.1" x2="326.25" y2="402.05" stroke="#844b08" stroke-width="3.5" stroke-linecap="round"/>
<line x1="326.25" y1="402.05" x2="328" y2="398" stroke="#821a1a" stroke-width="3.5" stroke-linecap="round"/>
<line x1="324.5" y1="406.1" x2="326.25" y2="402.05" stroke="#f08a10" stroke-width="2.5" stroke-linecap="round"/>
<line x1="326.25" y1="402.05" x2="328" y2="398" stroke="#ee3030" stroke-width="2.5" stroke-linecap="round"/>
<line x1="324.5" y1="406.1" x2="322.45" y2="408.75" stroke="#844b08" stroke-width="3.5" stroke-linecap="round"/>
<line x1="322.45" y1="408.75" x2="320.4" y2="411.4" stroke="#821a1a" stroke-width="3.5" stroke-linecap="round"/>
<line x1="324.5" y1="406.1" x2="322.45" y2="408.75" stroke="#f08a10" stroke-width="2.5" stroke-linecap="round"/>
<line x1="322.45" y1="408.75" x2="320.4" y2="411.4" stroke="#ee3030" stroke-width="2.5" stroke-linecap="round"/>
<line x1="324.5" y1="406.1" x2="328.1" y2="408.9" stroke="#844b08" stroke-width="3.5" stroke-linecap="round"/>
<line x1="328.1" y1="408.9" x2="331.7" y2="411.7" stroke="#821a1a" stroke-width="3.5" stroke-linecap="round"/>
<line x1="331.7" y1="411.7" x2="334.6" y2="415.8" stroke="#821a1a" stroke-width="3.5" stroke-linecap="round"/>
<line x1="334.6" y1="415.8" x2="337.5" y2="419.9" stroke="#7c1f7c" stroke-width="3.5" stroke-linecap="round"/>
<line x1="337.5" y1="419.9" x2="335.15" y2="423.1" stroke="#7c1f7c" stroke-width="3.5" stroke-linecap="round"/>
<line x1="335.15" y1="423.1" x2="332.8" y2="426.3" stroke="#7c1f7c" stroke-width="3.5" stroke-linecap="round"/>
<line x1="332.8" y1="426.3" x2="334.15" y2="428.65" stroke="#7c1f7c" stroke-width="3.5" stroke-linecap="round"/>
<line x1="334.15" y1="428.65" x2="335.5" y2="431" stroke="#7c1f7c" stroke-width="3.5" stroke-linecap="round"/>
<line x1="335.5" y1="431" x2="337.95" y2="434.2" stroke="#7c1f7c" stroke-width="3.5" stroke-linecap="round"/>
<line x1="337.95" y1="434.2" x2="340.4" y2="437.4" stroke="#821a1a" stroke-width="3.5" stroke-linecap="round"/>
<line x1="324.5" y1="406.1" x2="328.1" y2="408.9" stroke="#f08a10" stroke-width="2.5" stroke-linecap="round"/>
<line x1="328.1" y1="408.9" x2="331.7" y2="411.7" stroke="#ee3030" stroke-width="2.5" stroke-linecap="round"/>
<line x1="331.7" y1="411.7" x2="334.6" y2="415.8" stroke="#ee3030" stroke-width="2.5" stroke-linecap="round"/>
<line x1="334.6" y1="415.8" x2="337.5" y2="419.9" stroke="#e23ae2" stroke-width="2.5" stroke-linecap="round"/>
<line x1="337.5" y1="419.9" x2="335.15" y2="423.1" stroke="#e23ae2" stroke-width="2.5" stroke-linecap="round"/>
<line x1="335.15" y1="423.1" x2="332.8" y2="426.3" stroke="#e23ae2" stroke-width="2.5" stroke-linecap="round"/>
<line x1="332.8" y1="426.3" x2="334.15" y2="428.65" stroke="#e23ae2" stroke-width="2.5" stroke-linecap="round"/>
<line x1="334.15" y1="428.65" x2="335.5" y2="431" stroke="#e23ae2" stroke-width="2.5" stroke-linecap="round"/>
<line x1="335.5" y1="431" x2="337.95" y2="434.2" stroke="#e23ae2" stroke-width="2.5" stroke-linecap="round"/>
<line x1="337.95" y1="434.2" x2="340.4" y2="437.4" stroke="#ee3030" stroke-width="2.5" stroke-linecap="round"/>
<line x1="337.5" y1="419.9" x2="336.75" y2="417.95" stroke="#7c1f7c" stroke-width="3.5" stroke-linecap="round"/>
<line x1="336.75" y1="417.95" x2="336" y2="416" stroke="#7c1f7c" stroke-width="3.5" stroke-linecap="round"/>
<line x1="337.5" y1="419.9" x2="336.75" y2="417.95" stroke="#e23ae2" stroke-width="2.5" stroke-linecap="round"/>
<line x1="336.75" y1="417.95" x2="336" y2="416" stroke="#e23ae2" stroke-width="2.5" stroke-linecap="round"/>
<line x1="332.8" y1="426.3" x2="334.8" y2="427.15" stroke="#7c1f7c" stroke-width="3.5" stroke-linecap="round"/>
<line x1="334.8" y1="427.15" x2="336.8" y2="428" stroke="#821a1a" stroke-width="3.5" stroke-linecap="round"/>
<line x1="332.8" y1="426.3" x2="334.8" y2="427.15" stroke="#e23ae2" stroke-width="2.5" stroke-linecap="round"/>
<line x1="334.8" y1="427.15" x2="336.8" y2="428" stroke="#ee3030" stroke-width="2.5" stroke-linecap="round"/>
<line x1="293.3" y1="407" x2="294.75" y2="410.5" stroke="#821a1a" stroke-width="3.5" stroke-linecap="round"/>
<line x1="294.75" y1="410.5" x2="296.2" y2="414" stroke="#127d80" stroke-width="3.5" stroke-linecap="round"/>
<line x1="293.3" y1="407" x2="294.75" y2="410.5" stroke="#ee3030" stroke-width="2.5" stroke-linecap="round"/>
<line x1="294.75" y1="410.5" x2="296.2" y2="414" stroke="#22e4ea" stroke-width="2.5" stroke-linecap="round"/>
<line x1="296.2" y1="414" x2="293" y2="416.35" stroke="#127d80" stroke-width="3.5" stroke-linecap="round"/>
<line x1="293" y1="416.35" x2="289.8" y2="418.7" stroke="#14147e" stroke-width="3.5" stroke-linecap="round"/>
<line x1="289.8" y1="418.7" x2="286" y2="421.6" stroke="#14147e" stroke-width="3.5" stroke-linecap="round"/>
<line x1="286" y1="421.6" x2="282.2" y2="424.5" stroke="#821a1a" stroke-width="3.5" stroke-linecap="round"/>
<line x1="296.2" y1="414" x2="293" y2="416.35" stroke="#22e4ea" stroke-width="2.5" stroke-linecap="round"/>
<line x1="293" y1="416.35" x2="289.8" y2="418.7" stroke="#2626e6" stroke-width="2.5" stroke-linecap="round"/>
<line x1="289.8" y1="418.7" x2="286" y2="421.6" stroke="#2626e6" stroke-width="2.5" stroke-linecap="round"/>
<line x1="286" y1="421.6" x2="282.2" y2="424.5" stroke="#ee3030" stroke-width="2.5" stroke-linecap="round"/>
<line x1="282.2" y1="424.5" x2="281.05" y2="421.9" stroke="#127d80" stroke-width="3.5" stroke-linecap="round"/>
<line x1="281.05" y1="421.9" x2="279.9" y2="419.3" stroke="#14147e" stroke-width="3.5" stroke-linecap="round"/>
<line x1="282.2" y1="424.5" x2="281.05" y2="421.9" stroke="#22e4ea" stroke-width="2.5" stroke-linecap="round"/>
<line x1="281.05" y1="421.9" x2="279.9" y2="419.3" stroke="#2626e6" stroke-width="2.5" stroke-linecap="round"/>
<line x1="282.2" y1="424.5" x2="283.35" y2="429.2" stroke="#127d80" stroke-width="3.5" stroke-linecap="round"/>
<line x1="283.35" y1="429.2" x2="284.5" y2="433.9" stroke="#127d80" stroke-width="3.5" stroke-linecap="round"/>
<line x1="284.5" y1="433.9" x2="285.7" y2="437.7" stroke="#127d80" stroke-width="3.5" stroke-linecap="round"/>
<line x1="285.7" y1="437.7" x2="286.9" y2="441.5" stroke="#127d80" stroke-width="3.5" stroke-linecap="round"/>
<line x1="282.2" y1="424.5" x2="283.35" y2="429.2" stroke="#22e4ea" stroke-width="2.5" stroke-linecap="round"/>
<line x1="283.35" y1="429.2" x2="284.5" y2="433.9" stroke="#22e4ea" stroke-width="2.5" stroke-linecap="round"/>
<line x1="284.5" y1="433.9" x2="285.7" y2="437.7" stroke="#22e4ea" stroke-width="2.5" stroke-linecap="round"/>
<line x1="285.7" y1="437.7" x2="286.9" y2="441.5" stroke="#22e4ea" stroke-width="2.5" stroke-linecap="round"/>
<line x1="284.5" y1="433.9" x2="281.9" y2="435.35" stroke="#127d80" stroke-width="3.5" stroke-linecap="round"/>
<line x1="281.9" y1="435.35" x2="279.3" y2="436.8" stroke="#085b5f" stroke-width="3.5" stroke-linecap="round"/>
<line x1="284.5" y1="433.9" x2="281.9" y2="435.35" stroke="#22e4ea" stroke-width="2.5" stroke-linecap="round"/>
<line x1="281.9" y1="435.35" x2="279.3" y2="436.8" stroke="#0fa6ae" stroke-width="2.5" stroke-linecap="round"/>
<line x1="296.2" y1="414" x2="302.05" y2="412.55" stroke="#127d80" stroke-width="3.5" stroke-linecap="round"/>
<line x1="302.05" y1="412.55" x2="307.9" y2="411.1" stroke="#127d80" stroke-width="3.5" stroke-linecap="round"/>
<line x1="307.9" y1="411.1" x2="309.95" y2="414.3" stroke="#127d80" stroke-width="3.5" stroke-linecap="round"/>
<line x1="309.95" y1="414.3" x2="312" y2="417.5" stroke="#127d80" stroke-width="3.5" stroke-linecap="round"/>
<line x1="296.2" y1="414" x2="302.05" y2="412.55" stroke="#22e4ea" stroke-width="2.5" stroke-linecap="round"/>
<line x1="302.05" y1="412.55" x2="307.9" y2="411.1" stroke="#22e4ea" stroke-width="2.5" stroke-linecap="round"/>
<line x1="307.9" y1="411.1" x2="309.95" y2="414.3" stroke="#22e4ea" stroke-width="2.5" stroke-linecap="round"/>
<line x1="309.95" y1="414.3" x2="312" y2="417.5" stroke="#22e4ea" stroke-width="2.5" stroke-linecap="round"/>
<line x1="312" y1="417.5" x2="316.35" y2="416.35" stroke="#127d80" stroke-width="3.5" stroke-linecap="round"/>
<line x1="316.35" y1="416.35" x2="320.7" y2="415.2" stroke="#127d80" stroke-width="3.5" stroke-linecap="round"/>
<line x1="320.7" y1="415.2" x2="322.75" y2="419" stroke="#127d80" stroke-width="3.5" stroke-linecap="round"/>
<line x1="322.75" y1="419" x2="324.8" y2="422.8" stroke="#14147e" stroke-width="3.5" stroke-linecap="round"/>
<line x1="324.8" y1="422.8" x2="323.05" y2="425.7" stroke="#14147e" stroke-width="3.5" stroke-linecap="round"/>
<line x1="323.05" y1="425.7" x2="321.3" y2="428.6" stroke="#127d80" stroke-width="3.5" stroke-linecap="round"/>
<line x1="321.3" y1="428.6" x2="317.5" y2="427.75" stroke="#127d80" stroke-width="3.5" stroke-linecap="round"/>
<line x1="317.5" y1="427.75" x2="313.7" y2="426.9" stroke="#127d80" stroke-width="3.5" stroke-linecap="round"/>
<line x1="313.7" y1="426.9" x2="312.85" y2="422.2" stroke="#127d80" stroke-width="3.5" stroke-linecap="round"/>
<line x1="312.85" y1="422.2" x2="312" y2="417.5" stroke="#127d80" stroke-width="3.5" stroke-linecap="round"/>
<line x1="312" y1="417.5" x2="316.35" y2="416.35" stroke="#22e4ea" stroke-width="2.5" stroke-linecap="round"/>
<line x1="316.35" y1="416.35" x2="320.7" y2="415.2" stroke="#22e4ea" stroke-width="2.5" stroke-linecap="round"/>
<line x1="320.7" y1="415.2" x2="322.75" y2="419" stroke="#22e4ea" stroke-width="2.5" stroke-linecap="round"/>
<line x1="322.75" y1="419" x2="324.8" y2="422.8" stroke="#2626e6" stroke-width="2.5" stroke-linecap="round"/>
<line x1="324.8" y1="422.8" x2="323.05" y2="425.7" stroke="#2626e6" stroke-width="2.5" stroke-linecap="round"/>
<line x1="323.05" y1="425.7" x2="321.3" y2="428.6" stroke="#22e4ea" stroke-width="2.5" stroke-linecap="round"/>
<line x1="321.3" y1="428.6" x2="317.5" y2="427.75" stroke="#22e4ea" stroke-width="2.5" stroke-linecap="round"/>
<line x1="317.5" y1="427.75" x2="313.7" y2="426.9" stroke="#22e4ea" stroke-width="2.5" stroke-linecap="round"/>
<line x1="313.7" y1="426.9" x2="312.85" y2="422.2" stroke="#22e4ea" stroke-width="2.5" stroke-linecap="round"/>
<line x1="312.85" y1="422.2" x2="312" y2="417.5" stroke="#22e4ea" stroke-width="2.5" stroke-linecap="round"/>
<line x1="313.7" y1="426.9" x2="310.8" y2="430.7" stroke="#127d80" stroke-width="3.5" stroke-linecap="round"/>
<line x1="310.8" y1="430.7" x2="307.9" y2="434.5" stroke="#127d80" stroke-width="3.5" stroke-linecap="round"/>
<line x1="307.9" y1="434.5" x2="308.45" y2="438.85" stroke="#127d80" stroke-width="3.5" stroke-linecap="round"/>
<line x1="308.45" y1="438.85" x2="309" y2="443.2" stroke="#127d80" stroke-width="3.5" stroke-linecap="round"/>
<line x1="309" y1="443.2" x2="313.1" y2="444.35" stroke="#127d80" stroke-width="3.5" stroke-linecap="round"/>
<line x1="313.1" y1="444.35" x2="317.2" y2="445.5" stroke="#127d80" stroke-width="3.5" stroke-linecap="round"/>
<line x1="317.2" y1="445.5" x2="320.15" y2="441.45" stroke="#127d80" stroke-width="3.5" stroke-linecap="round"/>
<line x1="320.15" y1="441.45" x2="323.1" y2="437.4" stroke="#127d80" stroke-width="3.5" stroke-linecap="round"/>
<line x1="323.1" y1="437.4" x2="322.2" y2="433" stroke="#127d80" stroke-width="3.5" stroke-linecap="round"/>
<line x1="322.2" y1="433" x2="321.3" y2="428.6" stroke="#127d80" stroke-width="3.5" stroke-linecap="round"/>
<line x1="313.7" y1="426.9" x2="310.8" y2="430.7" stroke="#22e4ea" stroke-width="2.5" stroke-linecap="round"/>
<line x1="310.8" y1="430.7" x2="307.9" y2="434.5" stroke="#22e4ea" stroke-width="2.5" stroke-linecap="round"/>
<line x1="307.9" y1="434.5" x2="308.45" y2="438.85" stroke="#22e4ea" stroke-width="2.5" stroke-linecap="round"/>
<line x1="308.45" y1="438.85" x2="309" y2="443.2" stroke="#22e4ea" stroke-width="2.5" stroke-linecap="round"/>
<line x1="309" y1="443.2" x2="313.1" y2="444.35" stroke="#22e4ea" stroke-width="2.5" stroke-linecap="round"/>
<line x1="313.1" y1="444.35" x2="317.2" y2="445.5" stroke="#22e4ea" stroke-width="2.5" stroke-linecap="round"/>
<line x1="317.2" y1="445.5" x2="320.15" y2="441.45" stroke="#22e4ea" stroke-width="2.5" stroke-linecap="round"/>
<line x1="320.15" y1="441.45" x2="323.1" y2="437.4" stroke="#22e4ea" stroke-width="2.5" stroke-linecap="round"/>
<line x1="323.1" y1="437.4" x2="322.2" y2="433" stroke="#22e4ea" stroke-width="2.5" stroke-linecap="round"/>
<line x1="322.2" y1="433" x2="321.3" y2="428.6" stroke="#22e4ea" stroke-width="2.5" stroke-linecap="round"/>
<line x1="371.4" y1="427.4" x2="372.55" y2="424.2" stroke="#127d80" stroke-width="3.5" stroke-linecap="round"/>
<line x1="372.55" y1="424.2" x2="373.7" y2="421" stroke="#127d80" stroke-width="3.5" stroke-linecap="round"/>
<line x1="373.7" y1="421" x2="376.9" y2="419.55" stroke="#127d80" stroke-width="3.5" stroke-linecap="round"/>
<line x1="376.9" y1="419.55" x2="380.1" y2="418.1" stroke="#127d80" stroke-width="3.5" stroke-linecap="round"/>
<line x1="380.1" y1="418.1" x2="383.35" y2="420.75" stroke="#127d80" stroke-width="3.5" stroke-linecap="round"/>
<line x1="383.35" y1="420.75" x2="386.6" y2="423.4" stroke="#127d80" stroke-width="3.5" stroke-linecap="round"/>
<line x1="386.6" y1="423.4" x2="386.9" y2="428.65" stroke="#127d80" stroke-width="3.5" stroke-linecap="round"/>
<line x1="386.9" y1="428.65" x2="387.2" y2="433.9" stroke="#127d80" stroke-width="3.5" stroke-linecap="round"/>
<line x1="387.2" y1="433.9" x2="382.8" y2="434.45" stroke="#127d80" stroke-width="3.5" stroke-linecap="round"/>
<line x1="382.8" y1="434.45" x2="378.4" y2="435" stroke="#127d80" stroke-width="3.5" stroke-linecap="round"/>
<line x1="378.4" y1="435" x2="374.9" y2="431.2" stroke="#127d80" stroke-width="3.5" stroke-linecap="round"/>
<line x1="374.9" y1="431.2" x2="371.4" y2="427.4" stroke="#127d80" stroke-width="3.5" stroke-linecap="round"/>
<line x1="371.4" y1="427.4" x2="372.55" y2="424.2" stroke="#22e4ea" stroke-width="2.5" stroke-linecap="round"/>
<line x1="372.55" y1="424.2" x2="373.7" y2="421" stroke="#22e4ea" stroke-width="2.5" stroke-linecap="round"/>
<line x1="373.7" y1="421" x2="376.9" y2="419.55" stroke="#22e4ea" stroke-width="2.5" stroke-linecap="round"/>
<line x1="376.9" y1="419.55" x2="380.1" y2="418.1" stroke="#22e4ea" stroke-width="2.5" stroke-linecap="round"/>
<line x1="380.1" y1="418.1" x2="383.35" y2="420.75" stroke="#22e4ea" stroke-width="2.5" stroke-linecap="round"/>
<line x1="383.35" y1="420.75" x2="386.6" y2="423.4" stroke="#22e4ea" stroke-width="2.5" stroke-linecap="round"/>
<line x1="386.6" y1="423.4" x2="386.9" y2="428.65" stroke="#22e4ea" stroke-width="2.5" stroke-linecap="round"/>
<line x1="386.9" y1="428.65" x2="387.2" y2="433.9" stroke="#22e4ea" stroke-width="2.5" stroke-linecap="round"/>
<line x1="387.2" y1="433.9" x2="382.8" y2="434.45" stroke="#22e4ea" stroke-width="2.5" stroke-linecap="round"/>
<line x1="382.8" y1="434.45" x2="378.4" y2="435" stroke="#22e4ea" stroke-width="2.5" stroke-linecap="round"/>
<line x1="378.4" y1="435" x2="374.9" y2="431.2" stroke="#22e4ea" stroke-width="2.5" stroke-linecap="round"/>
<line x1="374.9" y1="431.2" x2="371.4" y2="427.4" stroke="#22e4ea" stroke-width="2.5" stroke-linecap="round"/>
<line x1="387.2" y1="433.9" x2="388.05" y2="437.1" stroke="#127d80" stroke-width="3.5" stroke-linecap="round"/>
<line x1="388.05" y1="437.1" x2="388.9" y2="440.3" stroke="#14147e" stroke-width="3.5" stroke-linecap="round"/>
<line x1="388.9" y1="440.3" x2="386.25" y2="444.1" stroke="#14147e" stroke-width="3.5" stroke-linecap="round"/>
<line x1="386.25" y1="444.1" x2="383.6" y2="447.9" stroke="#127d80" stroke-width="3.5" stroke-linecap="round"/>
<line x1="383.6" y1="447.9" x2="379.85" y2="447.3" stroke="#127d80" stroke-width="3.5" stroke-linecap="round"/>
<line x1="379.85" y1="447.3" x2="376.1" y2="446.7" stroke="#127d80" stroke-width="3.5" stroke-linecap="round"/>
<line x1="376.1" y1="446.7" x2="377.25" y2="440.85" stroke="#127d80" stroke-width="3.5" stroke-linecap="round"/>
<line x1="377.25" y1="440.85" x2="378.4" y2="435" stroke="#127d80" stroke-width="3.5" stroke-linecap="round"/>
<line x1="387.2" y1="433.9" x2="388.05" y2="437.1" stroke="#22e4ea" stroke-width="2.5" stroke-linecap="round"/>
<line x1="388.05" y1="437.1" x2="388.9" y2="440.3" stroke="#2626e6" stroke-width="2.5" stroke-linecap="round"/>
<line x1="388.9" y1="440.3" x2="386.25" y2="444.1" stroke="#2626e6" stroke-width="2.5" stroke-linecap="round"/>
<line x1="386.25" y1="444.1" x2="383.6" y2="447.9" stroke="#22e4ea" stroke-width="2.5" stroke-linecap="round"/>
<line x1="383.6" y1="447.9" x2="379.85" y2="447.3" stroke="#22e4ea" stroke-width="2.5" stroke-linecap="round"/>
<line x1="379.85" y1="447.3" x2="376.1" y2="446.7" stroke="#22e4ea" stroke-width="2.5" stroke-linecap="round"/>
<line x1="376.1" y1="446.7" x2="377.25" y2="440.85" stroke="#22e4ea" stroke-width="2.5" stroke-linecap="round"/>
<line x1="377.25" y1="440.85" x2="378.4" y2="435" stroke="#22e4ea" stroke-width="2.5" stroke-linecap="round"/>
<line x1="376.1" y1="446.7" x2="375.5" y2="447.45" stroke="#127d80" stroke-width="3.5" stroke-linecap="round"/>
<line x1="375.5" y1="447.45" x2="374.9" y2="448.2" stroke="#127d80" stroke-width="3.5" stroke-linecap="round"/>
<line x1="374.9" y1="448.2" x2="372.25" y2="451.1" stroke="#127d80" stroke-width="3.5" stroke-linecap="round"/>
<line x1="372.25" y1="451.1" x2="369.6" y2="454" stroke="#127d80" stroke-width="3.5" stroke-linecap="round"/>
<line x1="369.6" y1="454" x2="370.5" y2="455.75" stroke="#127d80" stroke-width="3.5" stroke-linecap="round"/>
<line x1="370.5" y1="455.75" x2="371.4" y2="457.5" stroke="#127d80" stroke-width="3.5" stroke-linecap="round"/>
<line x1="376.1" y1="446.7" x2="375.5" y2="447.45" stroke="#22e4ea" stroke-width="2.5" stroke-linecap="round"/>
<line x1="375.5" y1="447.45" x2="374.9" y2="448.2" stroke="#22e4ea" stroke-width="2.5" stroke-linecap="round"/>
<line x1="374.9" y1="448.2" x2="372.25" y2="451.1" stroke="#22e4ea" stroke-width="2.5" stroke-linecap="round"/>
<line x1="372.25" y1="451.1" x2="369.6" y2="454" stroke="#22e4ea" stroke-width="2.5" stroke-linecap="round"/>
<line x1="369.6" y1="454" x2="370.5" y2="455.75" stroke="#22e4ea" stroke-width="2.5" stroke-linecap="round"/>
<line x1="370.5" y1="455.75" x2="371.4" y2="457.5" stroke="#22e4ea" stroke-width="2.5" stroke-linecap="round"/>
<line x1="371.4" y1="457.5" x2="377.25" y2="457.5" stroke="#127d80" stroke-width="3.5" stroke-linecap="round"/>
<line x1="377.25" y1="457.5" x2="383.1" y2="457.5" stroke="#127d80" stroke-width="3.5" stroke-linecap="round"/>
<line x1="383.1" y1="457.5" x2="383.95" y2="459.25" stroke="#127d80" stroke-width="3.5" stroke-linecap="round"/>
<line x1="383.95" y1="459.25" x2="384.8" y2="461" stroke="#127d80" stroke-width="3.5" stroke-linecap="round"/>
<line x1="384.8" y1="461" x2="385.1" y2="463.05" stroke="#127d80" stroke-width="3.5" stroke-linecap="round"/>
<line x1="385.1" y1="463.05" x2="385.4" y2="465.1" stroke="#821a1a" stroke-width="3.5" stroke-linecap="round"/>
<line x1="371.4" y1="457.5" x2="377.25" y2="457.5" stroke="#22e4ea" stroke-width="2.5" stroke-linecap="round"/>
<line x1="377.25" y1="457.5" x2="383.1" y2="457.5" stroke="#22e4ea" stroke-width="2.5" stroke-linecap="round"/>
<line x1="383.1" y1="457.5" x2="383.95" y2="459.25" stroke="#22e4ea" stroke-width="2.5" stroke-linecap="round"/>
<line x1="383.95" y1="459.25" x2="384.8" y2="461" stroke="#22e4ea" stroke-width="2.5" stroke-linecap="round"/>
<line x1="384.8" y1="461" x2="385.1" y2="463.05" stroke="#22e4ea" stroke-width="2.5" stroke-linecap="round"/>
<line x1="385.1" y1="463.05" x2="385.4" y2="465.1" stroke="#ee3030" stroke-width="2.5" stroke-linecap="round"/>
<line x1="371.4" y1="457.5" x2="369.35" y2="460.15" stroke="#127d80" stroke-width="3.5" stroke-linecap="round"/>
<line x1="369.35" y1="460.15" x2="367.3" y2="462.8" stroke="#14147e" stroke-width="3.5" stroke-linecap="round"/>
<line x1="367.3" y1="462.8" x2="367.6" y2="463.95" stroke="#14147e" stroke-width="3.5" stroke-linecap="round"/>
<line x1="367.6" y1="463.95" x2="367.9" y2="465.1" stroke="#127d80" stroke-width="3.5" stroke-linecap="round"/>
<line x1="367.9" y1="465.1" x2="369.95" y2="464.8" stroke="#127d80" stroke-width="3.5" stroke-linecap="round"/>
<line x1="369.95" y1="464.8" x2="372" y2="464.5" stroke="#821a1a" stroke-width="3.5" stroke-linecap="round"/>
<line x1="371.4" y1="457.5" x2="369.35" y2="460.15" stroke="#22e4ea" stroke-width="2.5" stroke-linecap="round"/>
<line x1="369.35" y1="460.15" x2="367.3" y2="462.8" stroke="#2626e6" stroke-width="2.5" stroke-linecap="round"/>
<line x1="367.3" y1="462.8" x2="367.6" y2="463.95" stroke="#2626e6" stroke-width="2.5" stroke-linecap="round"/>
<line x1="367.6" y1="463.95" x2="367.9" y2="465.1" stroke="#22e4ea" stroke-width="2.5" stroke-linecap="round"/>
<line x1="367.9" y1="465.1" x2="369.95" y2="464.8" stroke="#22e4ea" stroke-width="2.5" stroke-linecap="round"/>
<line x1="369.95" y1="464.8" x2="372" y2="464.5" stroke="#ee3030" stroke-width="2.5" stroke-linecap="round"/>
<line x1="367.9" y1="465.1" x2="366.15" y2="467.75" stroke="#127d80" stroke-width="3.5" stroke-linecap="round"/>
<line x1="366.15" y1="467.75" x2="364.4" y2="470.4" stroke="#127d80" stroke-width="3.5" stroke-linecap="round"/>
<line x1="364.4" y1="470.4" x2="363.8" y2="472.7" stroke="#127d80" stroke-width="3.5" stroke-linecap="round"/>
<line x1="363.8" y1="472.7" x2="363.2" y2="475" stroke="#127d80" stroke-width="3.5" stroke-linecap="round"/>
<line x1="363.2" y1="475" x2="364.35" y2="478.35" stroke="#127d80" stroke-width="3.5" stroke-linecap="round"/>
<line x1="364.35" y1="478.35" x2="365.5" y2="481.7" stroke="#127d80" stroke-width="3.5" stroke-linecap="round"/>
<line x1="365.5" y1="481.7" x2="362.9" y2="481.6" stroke="#127d80" stroke-width="3.5" stroke-linecap="round"/>
<line x1="362.9" y1="481.6" x2="360.3" y2="481.5" stroke="#127d80" stroke-width="3.5" stroke-linecap="round"/>
<line x1="367.9" y1="465.1" x2="366.15" y2="467.75" stroke="#22e4ea" stroke-width="2.5" stroke-linecap="round"/>
<line x1="366.15" y1="467.75" x2="364.4" y2="470.4" stroke="#22e4ea" stroke-width="2.5" stroke-linecap="round"/>
<line x1="364.4" y1="470.4" x2="363.8" y2="472.7" stroke="#22e4ea" stroke-width="2.5" stroke-linecap="round"/>
<line x1="363.8" y1="472.7" x2="363.2" y2="475" stroke="#22e4ea" stroke-width="2.5" stroke-linecap="round"/>
<line x1="363.2" y1="475" x2="364.35" y2="478.35" stroke="#22e4ea" stroke-width="2.5" stroke-linecap="round"/>
<line x1="364.35" y1="478.35" x2="365.5" y2="481.7" stroke="#22e4ea" stroke-width="2.5" stroke-linecap="round"/>
<line x1="365.5" y1="481.7" x2="362.9" y2="481.6" stroke="#22e4ea" stroke-width="2.5" stroke-linecap="round"/>
<line x1="362.9" y1="481.6" x2="360.3" y2="481.5" stroke="#22e4ea" stroke-width="2.5" stroke-linecap="round"/>
<line x1="360.3" y1="481.5" x2="358.25" y2="478.1" stroke="#127d80" stroke-width="3.5" stroke-linecap="round"/>
<line x1="358.25" y1="478.1" x2="356.2" y2="474.7" stroke="#821a1a" stroke-width="3.5" stroke-linecap="round"/>
<line x1="360.3" y1="481.5" x2="358.25" y2="478.1" stroke="#22e4ea" stroke-width="2.5" stroke-linecap="round"/>
<line x1="358.25" y1="478.1" x2="356.2" y2="474.7" stroke="#ee3030" stroke-width="2.5" stroke-linecap="round"/>
<line x1="360.3" y1="481.5" x2="359.15" y2="485.4" stroke="#127d80" stroke-width="3.5" stroke-linecap="round"/>
<line x1="359.15" y1="485.4" x2="358" y2="489.3" stroke="#821a1a" stroke-width="3.5" stroke-linecap="round"/>
<line x1="360.3" y1="481.5" x2="359.15" y2="485.4" stroke="#22e4ea" stroke-width="2.5" stroke-linecap="round"/>
<line x1="359.15" y1="485.4" x2="358" y2="489.3" stroke="#ee3030" stroke-width="2.5" stroke-linecap="round"/>
<line x1="324.1" y1="475.3" x2="326.45" y2="479.35" stroke="#127d80" stroke-width="3.5" stroke-linecap="round"/>
<line x1="326.45" y1="479.35" x2="328.8" y2="483.4" stroke="#127d80" stroke-width="3.5" stroke-linecap="round"/>
<line x1="328.8" y1="483.4" x2="332.85" y2="485.15" stroke="#127d80" stroke-width="3.5" stroke-linecap="round"/>
<line x1="332.85" y1="485.15" x2="336.9" y2="486.9" stroke="#127d80" stroke-width="3.5" stroke-linecap="round"/>
<line x1="336.9" y1="486.9" x2="338.65" y2="490.4" stroke="#127d80" stroke-width="3.5" stroke-linecap="round"/>
<line x1="338.65" y1="490.4" x2="340.4" y2="493.9" stroke="#127d80" stroke-width="3.5" stroke-linecap="round"/>
<line x1="340.4" y1="493.9" x2="338.1" y2="498.3" stroke="#127d80" stroke-width="3.5" stroke-linecap="round"/>
<line x1="338.1" y1="498.3" x2="335.8" y2="502.7" stroke="#14147e" stroke-width="3.5" stroke-linecap="round"/>
<line x1="324.1" y1="475.3" x2="326.45" y2="479.35" stroke="#22e4ea" stroke-width="2.5" stroke-linecap="round"/>
<line x1="326.45" y1="479.35" x2="328.8" y2="483.4" stroke="#22e4ea" stroke-width="2.5" stroke-linecap="round"/>
<line x1="328.8" y1="483.4" x2="332.85" y2="485.15" stroke="#22e4ea" stroke-width="2.5" stroke-linecap="round"/>
<line x1="332.85" y1="485.15" x2="336.9" y2="486.9" stroke="#22e4ea" stroke-width="2.5" stroke-linecap="round"/>
<line x1="336.9" y1="486.9" x2="338.65" y2="490.4" stroke="#22e4ea" stroke-width="2.5" stroke-linecap="round"/>
<line x1="338.65" y1="490.4" x2="340.4" y2="493.9" stroke="#22e4ea" stroke-width="2.5" stroke-linecap="round"/>
<line x1="340.4" y1="493.9" x2="338.1" y2="498.3" stroke="#22e4ea" stroke-width="2.5" stroke-linecap="round"/>
<line x1="338.1" y1="498.3" x2="335.8" y2="502.7" stroke="#2626e6" stroke-width="2.5" stroke-linecap="round"/>
<line x1="340.4" y1="493.9" x2="343.35" y2="491.6" stroke="#127d80" stroke-width="3.5" stroke-linecap="round"/>
<line x1="343.35" y1="491.6" x2="346.3" y2="489.3" stroke="#127d80" stroke-width="3.5" stroke-linecap="round"/>
<line x1="346.3" y1="489.3" x2="349.5" y2="487.25" stroke="#127d80" stroke-width="3.5" stroke-linecap="round"/>
<line x1="349.5" y1="487.25" x2="352.7" y2="485.2" stroke="#821a1a" stroke-width="3.5" stroke-linecap="round"/>
<line x1="340.4" y1="493.9" x2="343.35" y2="491.6" stroke="#22e4ea" stroke-width="2.5" stroke-linecap="round"/>
<line x1="343.35" y1="491.6" x2="346.3" y2="489.3" stroke="#22e4ea" stroke-width="2.5" stroke-linecap="round"/>
<line x1="346.3" y1="489.3" x2="349.5" y2="487.25" stroke="#22e4ea" stroke-width="2.5" stroke-linecap="round"/>
<line x1="349.5" y1="487.25" x2="352.7" y2="485.2" stroke="#ee3030" stroke-width="2.5" stroke-linecap="round"/>
<line x1="336.9" y1="486.9" x2="335.15" y2="489.55" stroke="#085b5f" stroke-width="3.5" stroke-linecap="round"/>
<line x1="335.15" y1="489.55" x2="333.4" y2="492.2" stroke="#085b5f" stroke-width="3.5" stroke-linecap="round"/>
<line x1="336.9" y1="486.9" x2="335.15" y2="489.55" stroke="#0fa6ae" stroke-width="2.5" stroke-linecap="round"/>
<line x1="335.15" y1="489.55" x2="333.4" y2="492.2" stroke="#0fa6ae" stroke-width="2.5" stroke-linecap="round"/>
<line x1="227" y1="457.6" x2="229.75" y2="454.85" stroke="#821a1a" stroke-width="3.5" stroke-linecap="round"/>
<line x1="229.75" y1="454.85" x2="232.5" y2="452.1" stroke="#127d80" stroke-width="3.5" stroke-linecap="round"/>
<line x1="232.5" y1="452.1" x2="234.7" y2="450.45" stroke="#127d80" stroke-width="3.5" stroke-linecap="round"/>
<line x1="234.7" y1="450.45" x2="236.9" y2="448.8" stroke="#14147e" stroke-width="3.5" stroke-linecap="round"/>
<line x1="236.9" y1="448.8" x2="238" y2="449.6" stroke="#14147e" stroke-width="3.5" stroke-linecap="round"/>
<line x1="238" y1="449.6" x2="239.1" y2="450.4" stroke="#127d80" stroke-width="3.5" stroke-linecap="round"/>
<line x1="239.1" y1="450.4" x2="242.65" y2="454.55" stroke="#127d80" stroke-width="3.5" stroke-linecap="round"/>
<line x1="242.65" y1="454.55" x2="246.2" y2="458.7" stroke="#127d80" stroke-width="3.5" stroke-linecap="round"/>
<line x1="246.2" y1="458.7" x2="244.55" y2="462.55" stroke="#127d80" stroke-width="3.5" stroke-linecap="round"/>
<line x1="244.55" y1="462.55" x2="242.9" y2="466.4" stroke="#127d80" stroke-width="3.5" stroke-linecap="round"/>
<line x1="242.9" y1="466.4" x2="239.35" y2="472.45" stroke="#127d80" stroke-width="3.5" stroke-linecap="round"/>
<line x1="239.35" y1="472.45" x2="235.8" y2="478.5" stroke="#127d80" stroke-width="3.5" stroke-linecap="round"/>
<line x1="227" y1="457.6" x2="229.75" y2="454.85" stroke="#ee3030" stroke-width="2.5" stroke-linecap="round"/>
<line x1="229.75" y1="454.85" x2="232.5" y2="452.1" stroke="#22e4ea" stroke-width="2.5" stroke-linecap="round"/>
<line x1="232.5" y1="452.1" x2="234.7" y2="450.45" stroke="#22e4ea" stroke-width="2.5" stroke-linecap="round"/>
<line x1="234.7" y1="450.45" x2="236.9" y2="448.8" stroke="#2626e6" stroke-width="2.5" stroke-linecap="round"/>
<line x1="236.9" y1="448.8" x2="238" y2="449.6" stroke="#2626e6" stroke-width="2.5" stroke-linecap="round"/>
<line x1="238" y1="449.6" x2="239.1" y2="450.4" stroke="#22e4ea" stroke-width="2.5" stroke-linecap="round"/>
<line x1="239.1" y1="450.4" x2="242.65" y2="454.55" stroke="#22e4ea" stroke-width="2.5" stroke-linecap="round"/>
<line x1="242.65" y1="454.55" x2="246.2" y2="458.7" stroke="#22e4ea" stroke-width="2.5" stroke-linecap="round"/>
<line x1="246.2" y1="458.7" x2="244.55" y2="462.55" stroke="#22e4ea" stroke-width="2.5" stroke-linecap="round"/>
<line x1="244.55" y1="462.55" x2="242.9" y2="466.4" stroke="#22e4ea" stroke-width="2.5" stroke-linecap="round"/>
<line x1="242.9" y1="466.4" x2="239.35" y2="472.45" stroke="#22e4ea" stroke-width="2.5" stroke-linecap="round"/>
<line x1="239.35" y1="472.45" x2="235.8" y2="478.5" stroke="#22e4ea" stroke-width="2.5" stroke-linecap="round"/>
<line x1="246.2" y1="458.7" x2="243.85" y2="461.85" stroke="#127d80" stroke-width="3.5" stroke-linecap="round"/>
<line x1="243.85" y1="461.85" x2="241.5" y2="465" stroke="#127d80" stroke-width="3.5" stroke-linecap="round"/>
<line x1="241.5" y1="465" x2="239" y2="469.5" stroke="#127d80" stroke-width="3.5" stroke-linecap="round"/>
<line x1="239" y1="469.5" x2="236.5" y2="474" stroke="#127d80" stroke-width="3.5" stroke-linecap="round"/>
<line x1="246.2" y1="458.7" x2="243.85" y2="461.85" stroke="#22e4ea" stroke-width="2.5" stroke-linecap="round"/>
<line x1="243.85" y1="461.85" x2="241.5" y2="465" stroke="#22e4ea" stroke-width="2.5" stroke-linecap="round"/>
<line x1="241.5" y1="465" x2="239" y2="469.5" stroke="#22e4ea" stroke-width="2.5" stroke-linecap="round"/>
<line x1="239" y1="469.5" x2="236.5" y2="474" stroke="#22e4ea" stroke-width="2.5" stroke-linecap="round"/>
<line x1="281.9" y1="467.8" x2="283.95" y2="466.6" stroke="#127d80" stroke-width="3.5" stroke-linecap="round"/>
<line x1="283.95" y1="466.6" x2="286" y2="465.4" stroke="#127d80" stroke-width="3.5" stroke-linecap="round"/>
<line x1="286" y1="465.4" x2="288" y2="467.45" stroke="#127d80" stroke-width="3.5" stroke-linecap="round"/>
<line x1="288" y1="467.45" x2="290" y2="469.5" stroke="#127d80" stroke-width="3.5" stroke-linecap="round"/>
<line x1="290" y1="469.5" x2="289.45" y2="473.6" stroke="#127d80" stroke-width="3.5" stroke-linecap="round"/>
<line x1="289.45" y1="473.6" x2="288.9" y2="477.7" stroke="#127d80" stroke-width="3.5" stroke-linecap="round"/>
<line x1="288.9" y1="477.7" x2="286.55" y2="478.85" stroke="#127d80" stroke-width="3.5" stroke-linecap="round"/>
<line x1="286.55" y1="478.85" x2="284.2" y2="480" stroke="#127d80" stroke-width="3.5" stroke-linecap="round"/>
<line x1="284.2" y1="480" x2="282.75" y2="477.7" stroke="#127d80" stroke-width="3.5" stroke-linecap="round"/>
<line x1="282.75" y1="477.7" x2="281.3" y2="475.4" stroke="#127d80" stroke-width="3.5" stroke-linecap="round"/>
<line x1="281.3" y1="475.4" x2="281.6" y2="471.6" stroke="#127d80" stroke-width="3.5" stroke-linecap="round"/>
<line x1="281.6" y1="471.6" x2="281.9" y2="467.8" stroke="#127d80" stroke-width="3.5" stroke-linecap="round"/>
<line x1="281.9" y1="467.8" x2="283.95" y2="466.6" stroke="#22e4ea" stroke-width="2.5" stroke-linecap="round"/>
<line x1="283.95" y1="466.6" x2="286" y2="465.4" stroke="#22e4ea" stroke-width="2.5" stroke-linecap="round"/>
<line x1="286" y1="465.4" x2="288" y2="467.45" stroke="#22e4ea" stroke-width="2.5" stroke-linecap="round"/>
<line x1="288" y1="467.45" x2="290" y2="469.5" stroke="#22e4ea" stroke-width="2.5" stroke-linecap="round"/>
<line x1="290" y1="469.5" x2="289.45" y2="473.6" stroke="#22e4ea" stroke-width="2.5" stroke-linecap="round"/>
<line x1="289.45" y1="473.6" x2="288.9" y2="477.7" stroke="#22e4ea" stroke-width="2.5" stroke-linecap="round"/>
<line x1="288.9" y1="477.7" x2="286.55" y2="478.85" stroke="#22e4ea" stroke-width="2.5" stroke-linecap="round"/>
<line x1="286.55" y1="478.85" x2="284.2" y2="480" stroke="#22e4ea" stroke-width="2.5" stroke-linecap="round"/>
<line x1="284.2" y1="480" x2="282.75" y2="477.7" stroke="#22e4ea" stroke-width="2.5" stroke-linecap="round"/>
<line x1="282.75" y1="477.7" x2="281.3" y2="475.4" stroke="#22e4ea" stroke-width="2.5" stroke-linecap="round"/>
<line x1="281.3" y1="475.4" x2="281.6" y2="471.6" stroke="#22e4ea" stroke-width="2.5" stroke-linecap="round"/>
<line x1="281.6" y1="471.6" x2="281.9" y2="467.8" stroke="#22e4ea" stroke-width="2.5" stroke-linecap="round"/>
<line x1="284.2" y1="480" x2="281.3" y2="481.2" stroke="#127d80" stroke-width="3.5" stroke-linecap="round"/>
<line x1="281.3" y1="481.2" x2="278.4" y2="482.4" stroke="#127d80" stroke-width="3.5" stroke-linecap="round"/>
<line x1="278.4" y1="482.4" x2="275.45" y2="481.8" stroke="#127d80" stroke-width="3.5" stroke-linecap="round"/>
<line x1="275.45" y1="481.8" x2="272.5" y2="481.2" stroke="#127d80" stroke-width="3.5" stroke-linecap="round"/>
<line x1="272.5" y1="481.2" x2="268.4" y2="481.8" stroke="#127d80" stroke-width="3.5" stroke-linecap="round"/>
<line x1="268.4" y1="481.8" x2="264.3" y2="482.4" stroke="#14147e" stroke-width="3.5" stroke-linecap="round"/>
<line x1="284.2" y1="480" x2="281.3" y2="481.2" stroke="#22e4ea" stroke-width="2.5" stroke-linecap="round"/>
<line x1="281.3" y1="481.2" x2="278.4" y2="482.4" stroke="#22e4ea" stroke-width="2.5" stroke-linecap="round"/>
<line x1="278.4" y1="482.4" x2="275.45" y2="481.8" stroke="#22e4ea" stroke-width="2.5" stroke-linecap="round"/>
<line x1="275.45" y1="481.8" x2="272.5" y2="481.2" stroke="#22e4ea" stroke-width="2.5" stroke-linecap="round"/>
<line x1="272.5" y1="481.2" x2="268.4" y2="481.8" stroke="#22e4ea" stroke-width="2.5" stroke-linecap="round"/>
<line x1="268.4" y1="481.8" x2="264.3" y2="482.4" stroke="#2626e6" stroke-width="2.5" stroke-linecap="round"/>
<line x1="272.5" y1="481.2" x2="271.35" y2="482.95" stroke="#085b5f" stroke-width="3.5" stroke-linecap="round"/>
<line x1="271.35" y1="482.95" x2="270.2" y2="484.7" stroke="#085b5f" stroke-width="3.5" stroke-linecap="round"/>
<line x1="272.5" y1="481.2" x2="271.35" y2="482.95" stroke="#0fa6ae" stroke-width="2.5" stroke-linecap="round"/>
<line x1="271.35" y1="482.95" x2="270.2" y2="484.7" stroke="#0fa6ae" stroke-width="2.5" stroke-linecap="round"/>
<line x1="257.9" y1="480" x2="262" y2="477.95" stroke="#7f651a" stroke-width="3.5" stroke-linecap="round"/>
<line x1="262" y1="477.95" x2="266.1" y2="475.9" stroke="#1c7b1c" stroke-width="3.5" stroke-linecap="round"/>
<line x1="266.1" y1="475.9" x2="266.4" y2="471.55" stroke="#1c7b1c" stroke-width="3.5" stroke-linecap="round"/>
<line x1="266.4" y1="471.55" x2="266.7" y2="467.2" stroke="#1c7b1c" stroke-width="3.5" stroke-linecap="round"/>
<line x1="266.7" y1="467.2" x2="267.55" y2="464.3" stroke="#1c7b1c" stroke-width="3.5" stroke-linecap="round"/>
<line x1="267.55" y1="464.3" x2="268.4" y2="461.4" stroke="#1c7b1c" stroke-width="3.5" stroke-linecap="round"/>
<line x1="268.4" y1="461.4" x2="272.8" y2="458.75" stroke="#1c7b1c" stroke-width="3.5" stroke-linecap="round"/>
<line x1="272.8" y1="458.75" x2="277.2" y2="456.1" stroke="#1c7b1c" stroke-width="3.5" stroke-linecap="round"/>
<line x1="277.2" y1="456.1" x2="280.1" y2="456.1" stroke="#1c7b1c" stroke-width="3.5" stroke-linecap="round"/>
<line x1="280.1" y1="456.1" x2="283" y2="456.1" stroke="#14147e" stroke-width="3.5" stroke-linecap="round"/>
<line x1="283" y1="456.1" x2="285.95" y2="456.4" stroke="#14147e" stroke-width="3.5" stroke-linecap="round"/>
<line x1="285.95" y1="456.4" x2="288.9" y2="456.7" stroke="#1c7b1c" stroke-width="3.5" stroke-linecap="round"/>
<line x1="257.9" y1="480" x2="262" y2="477.95" stroke="#e8b830" stroke-width="2.5" stroke-linecap="round"/>
<line x1="262" y1="477.95" x2="266.1" y2="475.9" stroke="#34e034" stroke-width="2.5" stroke-linecap="round"/>
<line x1="266.1" y1="475.9" x2="266.4" y2="471.55" stroke="#34e034" stroke-width="2.5" stroke-linecap="round"/>
<line x1="266.4" y1="471.55" x2="266.7" y2="467.2" stroke="#34e034" stroke-width="2.5" stroke-linecap="round"/>
<line x1="266.7" y1="467.2" x2="267.55" y2="464.3" stroke="#34e034" stroke-width="2.5" stroke-linecap="round"/>
<line x1="267.55" y1="464.3" x2="268.4" y2="461.4" stroke="#34e034" stroke-width="2.5" stroke-linecap="round"/>
<line x1="268.4" y1="461.4" x2="272.8" y2="458.75" stroke="#34e034" stroke-width="2.5" stroke-linecap="round"/>
<line x1="272.8" y1="458.75" x2="277.2" y2="456.1" stroke="#34e034" stroke-width="2.5" stroke-linecap="round"/>
<line x1="277.2" y1="456.1" x2="280.1" y2="456.1" stroke="#34e034" stroke-width="2.5" stroke-linecap="round"/>
<line x1="280.1" y1="456.1" x2="283" y2="456.1" stroke="#2626e6" stroke-width="2.5" stroke-linecap="round"/>
<line x1="283" y1="456.1" x2="285.95" y2="456.4" stroke="#2626e6" stroke-width="2.5" stroke-linecap="round"/>
<line x1="285.95" y1="456.4" x2="288.9" y2="456.7" stroke="#34e034" stroke-width="2.5" stroke-linecap="round"/>
<line x1="286.5" y1="461.9" x2="288.85" y2="460.45" stroke="#1c7b1c" stroke-width="3.5" stroke-linecap="round"/>
<line x1="288.85" y1="460.45" x2="291.2" y2="459" stroke="#1c7b1c" stroke-width="3.5" stroke-linecap="round"/>
<line x1="291.2" y1="459" x2="295.85" y2="457.85" stroke="#1c7b1c" stroke-width="3.5" stroke-linecap="round"/>
<line x1="295.85" y1="457.85" x2="300.5" y2="456.7" stroke="#14147e" stroke-width="3.5" stroke-linecap="round"/>
<line x1="300.5" y1="456.7" x2="301.7" y2="459.6" stroke="#14147e" stroke-width="3.5" stroke-linecap="round"/>
<line x1="301.7" y1="459.6" x2="302.9" y2="462.5" stroke="#1c7b1c" stroke-width="3.5" stroke-linecap="round"/>
<line x1="302.9" y1="462.5" x2="301.7" y2="464.25" stroke="#1c7b1c" stroke-width="3.5" stroke-linecap="round"/>
<line x1="301.7" y1="464.25" x2="300.5" y2="466" stroke="#14147e" stroke-width="3.5" stroke-linecap="round"/>
<line x1="300.5" y1="466" x2="295.85" y2="465.45" stroke="#14147e" stroke-width="3.5" stroke-linecap="round"/>
<line x1="295.85" y1="465.45" x2="291.2" y2="464.9" stroke="#1c7b1c" stroke-width="3.5" stroke-linecap="round"/>
<line x1="291.2" y1="464.9" x2="288.85" y2="463.4" stroke="#1c7b1c" stroke-width="3.5" stroke-linecap="round"/>
<line x1="288.85" y1="463.4" x2="286.5" y2="461.9" stroke="#1c7b1c" stroke-width="3.5" stroke-linecap="round"/>
<line x1="286.5" y1="461.9" x2="288.85" y2="460.45" stroke="#34e034" stroke-width="2.5" stroke-linecap="round"/>
<line x1="288.85" y1="460.45" x2="291.2" y2="459" stroke="#34e034" stroke-width="2.5" stroke-linecap="round"/>
<line x1="291.2" y1="459" x2="295.85" y2="457.85" stroke="#34e034" stroke-width="2.5" stroke-linecap="round"/>
<line x1="295.85" y1="457.85" x2="300.5" y2="456.7" stroke="#2626e6" stroke-width="2.5" stroke-linecap="round"/>
<line x1="300.5" y1="456.7" x2="301.7" y2="459.6" stroke="#2626e6" stroke-width="2.5" stroke-linecap="round"/>
<line x1="301.7" y1="459.6" x2="302.9" y2="462.5" stroke="#34e034" stroke-width="2.5" stroke-linecap="round"/>
<line x1="302.9" y1="462.5" x2="301.7" y2="464.25" stroke="#34e034" stroke-width="2.5" stroke-linecap="round"/>
<line x1="301.7" y1="464.25" x2="300.5" y2="466" stroke="#2626e6" stroke-width="2.5" stroke-linecap="round"/>
<line x1="300.5" y1="466" x2="295.85" y2="465.45" stroke="#2626e6" stroke-width="2.5" stroke-linecap="round"/>
<line x1="295.85" y1="465.45" x2="291.2" y2="464.9" stroke="#34e034" stroke-width="2.5" stroke-linecap="round"/>
<line x1="291.2" y1="464.9" x2="288.85" y2="463.4" stroke="#34e034" stroke-width="2.5" stroke-linecap="round"/>
<line x1="288.85" y1="463.4" x2="286.5" y2="461.9" stroke="#34e034" stroke-width="2.5" stroke-linecap="round"/>
<line x1="288.9" y1="456.7" x2="290.05" y2="457.85" stroke="#1c7b1c" stroke-width="3.5" stroke-linecap="round"/>
<line x1="290.05" y1="457.85" x2="291.2" y2="459" stroke="#1c7b1c" stroke-width="3.5" stroke-linecap="round"/>
<line x1="288.9" y1="456.7" x2="290.05" y2="457.85" stroke="#34e034" stroke-width="2.5" stroke-linecap="round"/>
<line x1="290.05" y1="457.85" x2="291.2" y2="459" stroke="#34e034" stroke-width="2.5" stroke-linecap="round"/>
<line x1="302.9" y1="462.5" x2="307.55" y2="462.5" stroke="#1c7b1c" stroke-width="3.5" stroke-linecap="round"/>
<line x1="307.55" y1="462.5" x2="312.2" y2="462.5" stroke="#1c7b1c" stroke-width="3.5" stroke-linecap="round"/>
<line x1="312.2" y1="462.5" x2="313.95" y2="461.65" stroke="#1c7b1c" stroke-width="3.5" stroke-linecap="round"/>
<line x1="313.95" y1="461.65" x2="315.7" y2="460.8" stroke="#14147e" stroke-width="3.5" stroke-linecap="round"/>
<line x1="315.7" y1="460.8" x2="318.05" y2="461.1" stroke="#14147e" stroke-width="3.5" stroke-linecap="round"/>
<line x1="318.05" y1="461.1" x2="320.4" y2="461.4" stroke="#1c7b1c" stroke-width="3.5" stroke-linecap="round"/>
<line x1="320.4" y1="461.4" x2="325.05" y2="460.5" stroke="#1c7b1c" stroke-width="3.5" stroke-linecap="round"/>
<line x1="325.05" y1="460.5" x2="329.7" y2="459.6" stroke="#5c0d0d" stroke-width="3.5" stroke-linecap="round"/>
<line x1="302.9" y1="462.5" x2="307.55" y2="462.5" stroke="#34e034" stroke-width="2.5" stroke-linecap="round"/>
<line x1="307.55" y1="462.5" x2="312.2" y2="462.5" stroke="#34e034" stroke-width="2.5" stroke-linecap="round"/>
<line x1="312.2" y1="462.5" x2="313.95" y2="461.65" stroke="#34e034" stroke-width="2.5" stroke-linecap="round"/>
<line x1="313.95" y1="461.65" x2="315.7" y2="460.8" stroke="#2626e6" stroke-width="2.5" stroke-linecap="round"/>
<line x1="315.7" y1="460.8" x2="318.05" y2="461.1" stroke="#2626e6" stroke-width="2.5" stroke-linecap="round"/>
<line x1="318.05" y1="461.1" x2="320.4" y2="461.4" stroke="#34e034" stroke-width="2.5" stroke-linecap="round"/>
<line x1="320.4" y1="461.4" x2="325.05" y2="460.5" stroke="#34e034" stroke-width="2.5" stroke-linecap="round"/>
<line x1="325.05" y1="460.5" x2="329.7" y2="459.6" stroke="#a81818" stroke-width="2.5" stroke-linecap="round"/>
<line x1="312.2" y1="462.5" x2="315.15" y2="464.25" stroke="#1c7b1c" stroke-width="3.5" stroke-linecap="round"/>
<line x1="315.15" y1="464.25" x2="318.1" y2="466" stroke="#1c7b1c" stroke-width="3.5" stroke-linecap="round"/>
<line x1="318.1" y1="466" x2="321.6" y2="466.3" stroke="#1c7b1c" stroke-width="3.5" stroke-linecap="round"/>
<line x1="321.6" y1="466.3" x2="325.1" y2="466.6" stroke="#1c7b1c" stroke-width="3.5" stroke-linecap="round"/>
<line x1="325.1" y1="466.6" x2="329.75" y2="466.6" stroke="#1c7b1c" stroke-width="3.5" stroke-linecap="round"/>
<line x1="329.75" y1="466.6" x2="334.4" y2="466.6" stroke="#5c0d0d" stroke-width="3.5" stroke-linecap="round"/>
<line x1="312.2" y1="462.5" x2="315.15" y2="464.25" stroke="#34e034" stroke-width="2.5" stroke-linecap="round"/>
<line x1="315.15" y1="464.25" x2="318.1" y2="466" stroke="#34e034" stroke-width="2.5" stroke-linecap="round"/>
<line x1="318.1" y1="466" x2="321.6" y2="466.3" stroke="#34e034" stroke-width="2.5" stroke-linecap="round"/>
<line x1="321.6" y1="466.3" x2="325.1" y2="466.6" stroke="#34e034" stroke-width="2.5" stroke-linecap="round"/>
<line x1="325.1" y1="466.6" x2="329.75" y2="466.6" stroke="#34e034" stroke-width="2.5" stroke-linecap="round"/>
<line x1="329.75" y1="466.6" x2="334.4" y2="466.6" stroke="#a81818" stroke-width="2.5" stroke-linecap="round"/>
<line x1="320.4" y1="461.4" x2="322.75" y2="464" stroke="#1c7b1c" stroke-width="3.5" stroke-linecap="round"/>
<line x1="322.75" y1="464" x2="325.1" y2="466.6" stroke="#1c7b1c" stroke-width="3.5" stroke-linecap="round"/>
<line x1="320.4" y1="461.4" x2="322.75" y2="464" stroke="#34e034" stroke-width="2.5" stroke-linecap="round"/>
<line x1="322.75" y1="464" x2="325.1" y2="466.6" stroke="#34e034" stroke-width="2.5" stroke-linecap="round"/>
<line x1="257.9" y1="480" x2="259.05" y2="485.45" stroke="#7f651a" stroke-width="3.5" stroke-linecap="round"/>
<line x1="259.05" y1="485.45" x2="260.2" y2="490.9" stroke="#1c7b1c" stroke-width="3.5" stroke-linecap="round"/>
<line x1="257.9" y1="480" x2="259.05" y2="485.45" stroke="#e8b830" stroke-width="2.5" stroke-linecap="round"/>
<line x1="259.05" y1="485.45" x2="260.2" y2="490.9" stroke="#34e034" stroke-width="2.5" stroke-linecap="round"/>
<line x1="260.2" y1="490.9" x2="256.3" y2="493.05" stroke="#1c7b1c" stroke-width="3.5" stroke-linecap="round"/>
<line x1="256.3" y1="493.05" x2="252.4" y2="495.2" stroke="#1c7b1c" stroke-width="3.5" stroke-linecap="round"/>
<line x1="260.2" y1="490.9" x2="256.3" y2="493.05" stroke="#34e034" stroke-width="2.5" stroke-linecap="round"/>
<line x1="256.3" y1="493.05" x2="252.4" y2="495.2" stroke="#34e034" stroke-width="2.5" stroke-linecap="round"/>
<line x1="260.2" y1="490.9" x2="265" y2="490.45" stroke="#1c7b1c" stroke-width="3.5" stroke-linecap="round"/>
<line x1="265" y1="490.45" x2="269.8" y2="490" stroke="#1c7b1c" stroke-width="3.5" stroke-linecap="round"/>
<line x1="260.2" y1="490.9" x2="265" y2="490.45" stroke="#34e034" stroke-width="2.5" stroke-linecap="round"/>
<line x1="265" y1="490.45" x2="269.8" y2="490" stroke="#34e034" stroke-width="2.5" stroke-linecap="round"/>
<line x1="260.2" y1="490.9" x2="261.5" y2="492.6" stroke="#1c7b1c" stroke-width="3.5" stroke-linecap="round"/>
<line x1="261.5" y1="492.6" x2="262.8" y2="494.3" stroke="#14147e" stroke-width="3.5" stroke-linecap="round"/>
<line x1="262.8" y1="494.3" x2="265" y2="499.55" stroke="#14147e" stroke-width="3.5" stroke-linecap="round"/>
<line x1="265" y1="499.55" x2="267.2" y2="504.8" stroke="#1c7b1c" stroke-width="3.5" stroke-linecap="round"/>
<line x1="260.2" y1="490.9" x2="261.5" y2="492.6" stroke="#34e034" stroke-width="2.5" stroke-linecap="round"/>
<line x1="261.5" y1="492.6" x2="262.8" y2="494.3" stroke="#2626e6" stroke-width="2.5" stroke-linecap="round"/>
<line x1="262.8" y1="494.3" x2="265" y2="499.55" stroke="#2626e6" stroke-width="2.5" stroke-linecap="round"/>
<line x1="265" y1="499.55" x2="267.2" y2="504.8" stroke="#34e034" stroke-width="2.5" stroke-linecap="round"/>
<line x1="338.7" y1="439.5" x2="331.1" y2="458.4" stroke="#e0d830" stroke-width="1.4" stroke-dasharray="1.6,1.6"/>
<line x1="337.5" y1="468" x2="366.1" y2="462.8" stroke="#e0d830" stroke-width="1.4" stroke-dasharray="1.6,1.6"/>
<text x="327.1" y="386.4" font-size="7.5" font-weight="bold" text-anchor="start" fill="#f040f0" font-family='"Liberation Sans", sans-serif'>NAD<tspan font-size="4.5" dy="-3">+</tspan></text>
<text x="262.9" y="432.7" font-size="7" font-weight="bold" text-anchor="start" fill="#222" font-family='"Liberation Sans", sans-serif'>V70</text>
<text x="290.1" y="439.7" font-size="7" font-weight="bold" text-anchor="start" fill="#222" font-family='"Liberation Sans", sans-serif'>W71</text>
<text x="262.1" y="453.7" font-size="8" font-weight="bold" text-anchor="start" fill="#3cb043" font-family='"Liberation Sans", sans-serif'>8a</text>
<text x="352.7" y="443.4" font-size="7" font-weight="bold" text-anchor="start" fill="#222" font-family='"Liberation Sans", sans-serif'>W188</text>
<text x="372" y="479.2" font-size="7" font-weight="bold" text-anchor="start" fill="#222" font-family='"Liberation Sans", sans-serif'>D187</text>
<text x="229.2" y="490.5" font-size="7" font-weight="bold" text-anchor="start" fill="#222" font-family='"Liberation Sans", sans-serif'>F82</text>
<text x="281.6" y="491.7" font-size="7" font-weight="bold" text-anchor="start" fill="#222" font-family='"Liberation Sans", sans-serif'>F86</text>
<text x="321.8" y="496.3" font-size="7" font-weight="bold" text-anchor="start" fill="#222" font-family='"Liberation Sans", sans-serif'>I8</text>
<line x1="468.5" y1="377.5" x2="468.5" y2="494.8" stroke="#222" stroke-width="1.2"/>
<line x1="467.9" y1="494.2" x2="643.9" y2="494.2" stroke="#222" stroke-width="1.2"/>
<line x1="464.2" y1="494.2" x2="468.5" y2="494.2" stroke="#222" stroke-width="1.2"/>
<text x="463" y="497.8" font-size="8.3" font-weight="bold" text-anchor="end" fill="#000" font-family='"Liberation Sans", sans-serif'>0</text>
<line x1="464.2" y1="455.3" x2="468.5" y2="455.3" stroke="#222" stroke-width="1.2"/>
<text x="463" y="458.9" font-size="8.3" font-weight="bold" text-anchor="end" fill="#000" font-family='"Liberation Sans", sans-serif'>40</text>
<line x1="464.2" y1="416.4" x2="468.5" y2="416.4" stroke="#222" stroke-width="1.2"/>
<text x="463" y="420" font-size="8.3" font-weight="bold" text-anchor="end" fill="#000" font-family='"Liberation Sans", sans-serif'>80</text>
<line x1="464.2" y1="377.5" x2="468.5" y2="377.5" stroke="#222" stroke-width="1.2"/>
<text x="463" y="381.1" font-size="8.3" font-weight="bold" text-anchor="end" fill="#000" font-family='"Liberation Sans", sans-serif'>120</text>
<line x1="468.5" y1="494.2" x2="468.5" y2="498.6" stroke="#222" stroke-width="1.2"/>
<text x="468.2" y="508.9" font-size="8.3" font-weight="bold" text-anchor="middle" fill="#000" font-family='"Liberation Sans", sans-serif'>-1</text>
<line x1="512.2" y1="494.2" x2="512.2" y2="498.6" stroke="#222" stroke-width="1.2"/>
<text x="512.2" y="508.9" font-size="8.3" font-weight="bold" text-anchor="middle" fill="#000" font-family='"Liberation Sans", sans-serif'>0</text>
<line x1="555.9" y1="494.2" x2="555.9" y2="498.6" stroke="#222" stroke-width="1.2"/>
<text x="555.9" y="508.9" font-size="8.3" font-weight="bold" text-anchor="middle" fill="#000" font-family='"Liberation Sans", sans-serif'>1</text>
<line x1="599.6" y1="494.2" x2="599.6" y2="498.6" stroke="#222" stroke-width="1.2"/>
<text x="599.6" y="508.9" font-size="8.3" font-weight="bold" text-anchor="middle" fill="#000" font-family='"Liberation Sans", sans-serif'>2</text>
<line x1="643.3" y1="494.2" x2="643.3" y2="498.6" stroke="#222" stroke-width="1.2"/>
<text x="643.3" y="508.9" font-size="8.3" font-weight="bold" text-anchor="middle" fill="#000" font-family='"Liberation Sans", sans-serif'>3</text>
<text x="556" y="523.4" font-size="9.5" font-weight="bold" text-anchor="middle" fill="#000" font-family='"Liberation Sans", sans-serif' textLength="105.6" lengthAdjust="spacingAndGlyphs">log (concentration, μM)</text>
<text x="443" y="434.6" font-size="9.6" font-weight="bold" text-anchor="middle" fill="#000" font-family='"Liberation Sans", sans-serif' transform="rotate(-90 443 434.6)" textLength="115" lengthAdjust="spacingAndGlyphs">% of SIRT6 deacetylation</text>
<polyline points="494.5,401.94 496.35,402.59 498.2,403.28 500.05,404.02 501.9,404.8 503.75,405.63 505.61,406.51 507.46,407.44 509.31,408.43 511.16,409.47 513.01,410.56 514.86,411.72 516.71,412.93 518.56,414.2 520.41,415.53 522.26,416.92 524.11,418.37 525.96,419.87 527.82,421.44 529.67,423.06 531.52,424.73 533.37,426.46 535.22,428.23 537.07,430.05 538.92,431.91 540.77,433.8 542.62,435.73 544.47,437.69 546.32,439.66 548.17,441.66 550.03,443.66 551.88,445.67 553.73,447.67 555.58,449.67 557.43,451.66 559.28,453.62 561.13,455.56 562.98,457.48 564.83,459.35 566.68,461.19 568.53,462.99 570.38,464.74 572.24,466.43 574.09,468.08 575.94,469.67 577.79,471.21 579.64,472.69 581.49,474.1 583.34,475.46 585.19,476.76 587.04,478 588.89,479.18 590.74,480.31 592.59,481.38 594.45,482.39 596.3,483.34 598.15,484.25 600,485.1 601.85,485.91 603.7,486.67" stroke="#f23c3c" stroke-width="1" fill="none"/>
<polyline points="494.5,399.48 496.35,399.64 498.2,399.81 500.05,399.98 501.9,400.17 503.75,400.38 505.61,400.59 507.46,400.83 509.31,401.07 511.16,401.34 513.01,401.62 514.86,401.92 516.71,402.24 518.56,402.58 520.41,402.94 522.26,403.33 524.11,403.74 525.96,404.18 527.82,404.64 529.67,405.14 531.52,405.66 533.37,406.21 535.22,406.8 537.07,407.42 538.92,408.08 540.77,408.77 542.62,409.51 544.47,410.28 546.32,411.09 548.17,411.95 550.03,412.85 551.88,413.79 553.73,414.77 555.58,415.81 557.43,416.89 559.28,418.01 561.13,419.18 562.98,420.4 564.83,421.66 566.68,422.97 568.53,424.32 570.38,425.71 572.24,427.15 574.09,428.62 575.94,430.13 577.79,431.68 579.64,433.26 581.49,434.86 583.34,436.5 585.19,438.15 587.04,439.82 588.89,441.51 590.74,443.21 592.59,444.91 594.45,446.61 596.3,448.32 598.15,450.01 600,451.7 601.85,453.37 603.7,455.02" stroke="#1717f0" stroke-width="1" fill="none"/>
<line x1="494.5" y1="401" x2="494.5" y2="408" stroke="#f23c3c" stroke-width="0.8"/>
<line x1="493" y1="401" x2="496" y2="401" stroke="#f23c3c" stroke-width="0.8"/>
<line x1="493" y1="408" x2="496" y2="408" stroke="#f23c3c" stroke-width="0.8"/>
<circle cx="494.5" cy="404.5" r="1.7" fill="#f23c3c"/>
<line x1="507.7" y1="402.2" x2="507.7" y2="408.2" stroke="#f23c3c" stroke-width="0.8"/>
<line x1="506.2" y1="402.2" x2="509.2" y2="402.2" stroke="#f23c3c" stroke-width="0.8"/>
<line x1="506.2" y1="408.2" x2="509.2" y2="408.2" stroke="#f23c3c" stroke-width="0.8"/>
<circle cx="507.7" cy="405.2" r="1.7" fill="#f23c3c"/>
<line x1="520.6" y1="405.8" x2="520.6" y2="419.8" stroke="#f23c3c" stroke-width="0.8"/>
<line x1="519.1" y1="405.8" x2="522.1" y2="405.8" stroke="#f23c3c" stroke-width="0.8"/>
<line x1="519.1" y1="419.8" x2="522.1" y2="419.8" stroke="#f23c3c" stroke-width="0.8"/>
<circle cx="520.6" cy="412.8" r="1.7" fill="#f23c3c"/>
<line x1="534" y1="425.8" x2="534" y2="433.8" stroke="#f23c3c" stroke-width="0.8"/>
<line x1="532.5" y1="425.8" x2="535.5" y2="425.8" stroke="#f23c3c" stroke-width="0.8"/>
<line x1="532.5" y1="433.8" x2="535.5" y2="433.8" stroke="#f23c3c" stroke-width="0.8"/>
<circle cx="534" cy="429.8" r="1.7" fill="#f23c3c"/>
<line x1="547" y1="436.9" x2="547" y2="442.9" stroke="#f23c3c" stroke-width="0.8"/>
<line x1="545.5" y1="436.9" x2="548.5" y2="436.9" stroke="#f23c3c" stroke-width="0.8"/>
<line x1="545.5" y1="442.9" x2="548.5" y2="442.9" stroke="#f23c3c" stroke-width="0.8"/>
<circle cx="547" cy="439.9" r="1.7" fill="#f23c3c"/>
<line x1="560.1" y1="453.4" x2="560.1" y2="459.4" stroke="#f23c3c" stroke-width="0.8"/>
<line x1="558.6" y1="453.4" x2="561.6" y2="453.4" stroke="#f23c3c" stroke-width="0.8"/>
<line x1="558.6" y1="459.4" x2="561.6" y2="459.4" stroke="#f23c3c" stroke-width="0.8"/>
<circle cx="560.1" cy="456.4" r="1.7" fill="#f23c3c"/>
<line x1="573.3" y1="464.4" x2="573.3" y2="470.4" stroke="#f23c3c" stroke-width="0.8"/>
<line x1="571.8" y1="464.4" x2="574.8" y2="464.4" stroke="#f23c3c" stroke-width="0.8"/>
<line x1="571.8" y1="470.4" x2="574.8" y2="470.4" stroke="#f23c3c" stroke-width="0.8"/>
<circle cx="573.3" cy="467.4" r="1.7" fill="#f23c3c"/>
<line x1="586.7" y1="466.6" x2="586.7" y2="480.6" stroke="#f23c3c" stroke-width="0.8"/>
<line x1="585.2" y1="466.6" x2="588.2" y2="466.6" stroke="#f23c3c" stroke-width="0.8"/>
<line x1="585.2" y1="480.6" x2="588.2" y2="480.6" stroke="#f23c3c" stroke-width="0.8"/>
<circle cx="586.7" cy="473.6" r="1.7" fill="#f23c3c"/>
<line x1="599.5" y1="481.9" x2="599.5" y2="490.9" stroke="#f23c3c" stroke-width="0.8"/>
<line x1="598" y1="481.9" x2="601" y2="481.9" stroke="#f23c3c" stroke-width="0.8"/>
<line x1="598" y1="490.9" x2="601" y2="490.9" stroke="#f23c3c" stroke-width="0.8"/>
<circle cx="599.5" cy="486.4" r="1.7" fill="#f23c3c"/>
<line x1="603.7" y1="484.4" x2="603.7" y2="491.4" stroke="#f23c3c" stroke-width="0.8"/>
<line x1="602.2" y1="484.4" x2="605.2" y2="484.4" stroke="#f23c3c" stroke-width="0.8"/>
<line x1="602.2" y1="491.4" x2="605.2" y2="491.4" stroke="#f23c3c" stroke-width="0.8"/>
<circle cx="603.7" cy="487.9" r="1.7" fill="#f23c3c"/>
<line x1="494.5" y1="396" x2="494.5" y2="404" stroke="#1717f0" stroke-width="0.8"/>
<line x1="493" y1="396" x2="496" y2="396" stroke="#1717f0" stroke-width="0.8"/>
<line x1="493" y1="404" x2="496" y2="404" stroke="#1717f0" stroke-width="0.8"/>
<polygon points="492.2,402.07 496.8,402.07 494.5,397.93" fill="#1717f0"/>
<line x1="507.7" y1="397.8" x2="507.7" y2="400.8" stroke="#1717f0" stroke-width="0.8"/>
<line x1="506.2" y1="397.8" x2="509.2" y2="397.8" stroke="#1717f0" stroke-width="0.8"/>
<line x1="506.2" y1="400.8" x2="509.2" y2="400.8" stroke="#1717f0" stroke-width="0.8"/>
<polygon points="505.4,401.37 510,401.37 507.7,397.23" fill="#1717f0"/>
<line x1="520.6" y1="398.5" x2="520.6" y2="407.5" stroke="#1717f0" stroke-width="0.8"/>
<line x1="519.1" y1="398.5" x2="522.1" y2="398.5" stroke="#1717f0" stroke-width="0.8"/>
<line x1="519.1" y1="407.5" x2="522.1" y2="407.5" stroke="#1717f0" stroke-width="0.8"/>
<polygon points="518.3,405.07 522.9,405.07 520.6,400.93" fill="#1717f0"/>
<line x1="534" y1="405.2" x2="534" y2="408.2" stroke="#1717f0" stroke-width="0.8"/>
<line x1="532.5" y1="405.2" x2="535.5" y2="405.2" stroke="#1717f0" stroke-width="0.8"/>
<line x1="532.5" y1="408.2" x2="535.5" y2="408.2" stroke="#1717f0" stroke-width="0.8"/>
<polygon points="531.7,408.77 536.3,408.77 534,404.63" fill="#1717f0"/>
<line x1="547" y1="410.8" x2="547" y2="414.8" stroke="#1717f0" stroke-width="0.8"/>
<line x1="545.5" y1="410.8" x2="548.5" y2="410.8" stroke="#1717f0" stroke-width="0.8"/>
<line x1="545.5" y1="414.8" x2="548.5" y2="414.8" stroke="#1717f0" stroke-width="0.8"/>
<polygon points="544.7,414.87 549.3,414.87 547,410.73" fill="#1717f0"/>
<line x1="560.1" y1="416.1" x2="560.1" y2="420.5" stroke="#1717f0" stroke-width="0.8"/>
<line x1="558.6" y1="416.1" x2="561.6" y2="416.1" stroke="#1717f0" stroke-width="0.8"/>
<line x1="558.6" y1="420.5" x2="561.6" y2="420.5" stroke="#1717f0" stroke-width="0.8"/>
<polygon points="557.8,420.37 562.4,420.37 560.1,416.23" fill="#1717f0"/>
<line x1="573.3" y1="425.4" x2="573.3" y2="431.4" stroke="#1717f0" stroke-width="0.8"/>
<line x1="571.8" y1="425.4" x2="574.8" y2="425.4" stroke="#1717f0" stroke-width="0.8"/>
<line x1="571.8" y1="431.4" x2="574.8" y2="431.4" stroke="#1717f0" stroke-width="0.8"/>
<polygon points="571,430.47 575.6,430.47 573.3,426.33" fill="#1717f0"/>
<line x1="586.7" y1="435.3" x2="586.7" y2="440.9" stroke="#1717f0" stroke-width="0.8"/>
<line x1="585.2" y1="435.3" x2="588.2" y2="435.3" stroke="#1717f0" stroke-width="0.8"/>
<line x1="585.2" y1="440.9" x2="588.2" y2="440.9" stroke="#1717f0" stroke-width="0.8"/>
<polygon points="584.4,440.17 589,440.17 586.7,436.03" fill="#1717f0"/>
<line x1="599.5" y1="442" x2="599.5" y2="454" stroke="#1717f0" stroke-width="0.8"/>
<line x1="598" y1="442" x2="601" y2="442" stroke="#1717f0" stroke-width="0.8"/>
<line x1="598" y1="454" x2="601" y2="454" stroke="#1717f0" stroke-width="0.8"/>
<polygon points="597.2,450.07 601.8,450.07 599.5,445.93" fill="#1717f0"/>
<line x1="603.7" y1="455.4" x2="603.7" y2="462.4" stroke="#1717f0" stroke-width="0.8"/>
<line x1="602.2" y1="455.4" x2="605.2" y2="455.4" stroke="#1717f0" stroke-width="0.8"/>
<line x1="602.2" y1="462.4" x2="605.2" y2="462.4" stroke="#1717f0" stroke-width="0.8"/>
<polygon points="601.4,460.97 606,460.97 603.7,456.83" fill="#1717f0"/>
<line x1="574.9" y1="384.3" x2="587.2" y2="384.3" stroke="#f23c3c" stroke-width="0.9"/>
<circle cx="581" cy="384.3" r="1.7" fill="#f23c3c"/>
<text x="594.6" y="387.7" font-size="9.5" text-anchor="start" fill="#000" stroke="#000" stroke-width="0.15" font-family='"Liberation Sans", sans-serif'>WT</text>
<line x1="574.9" y1="396.3" x2="587.2" y2="396.3" stroke="#1717f0" stroke-width="0.9"/>
<polygon points="578.4,398.34 583.6,398.34 581,393.66" fill="#1717f0"/>
<text x="594.6" y="399.7" font-size="9.5" text-anchor="start" fill="#000" stroke="#000" stroke-width="0.15" font-family='"Liberation Sans", sans-serif' textLength="52.6" lengthAdjust="spacingAndGlyphs">V70A, F86A</text>
</svg></body></html>
